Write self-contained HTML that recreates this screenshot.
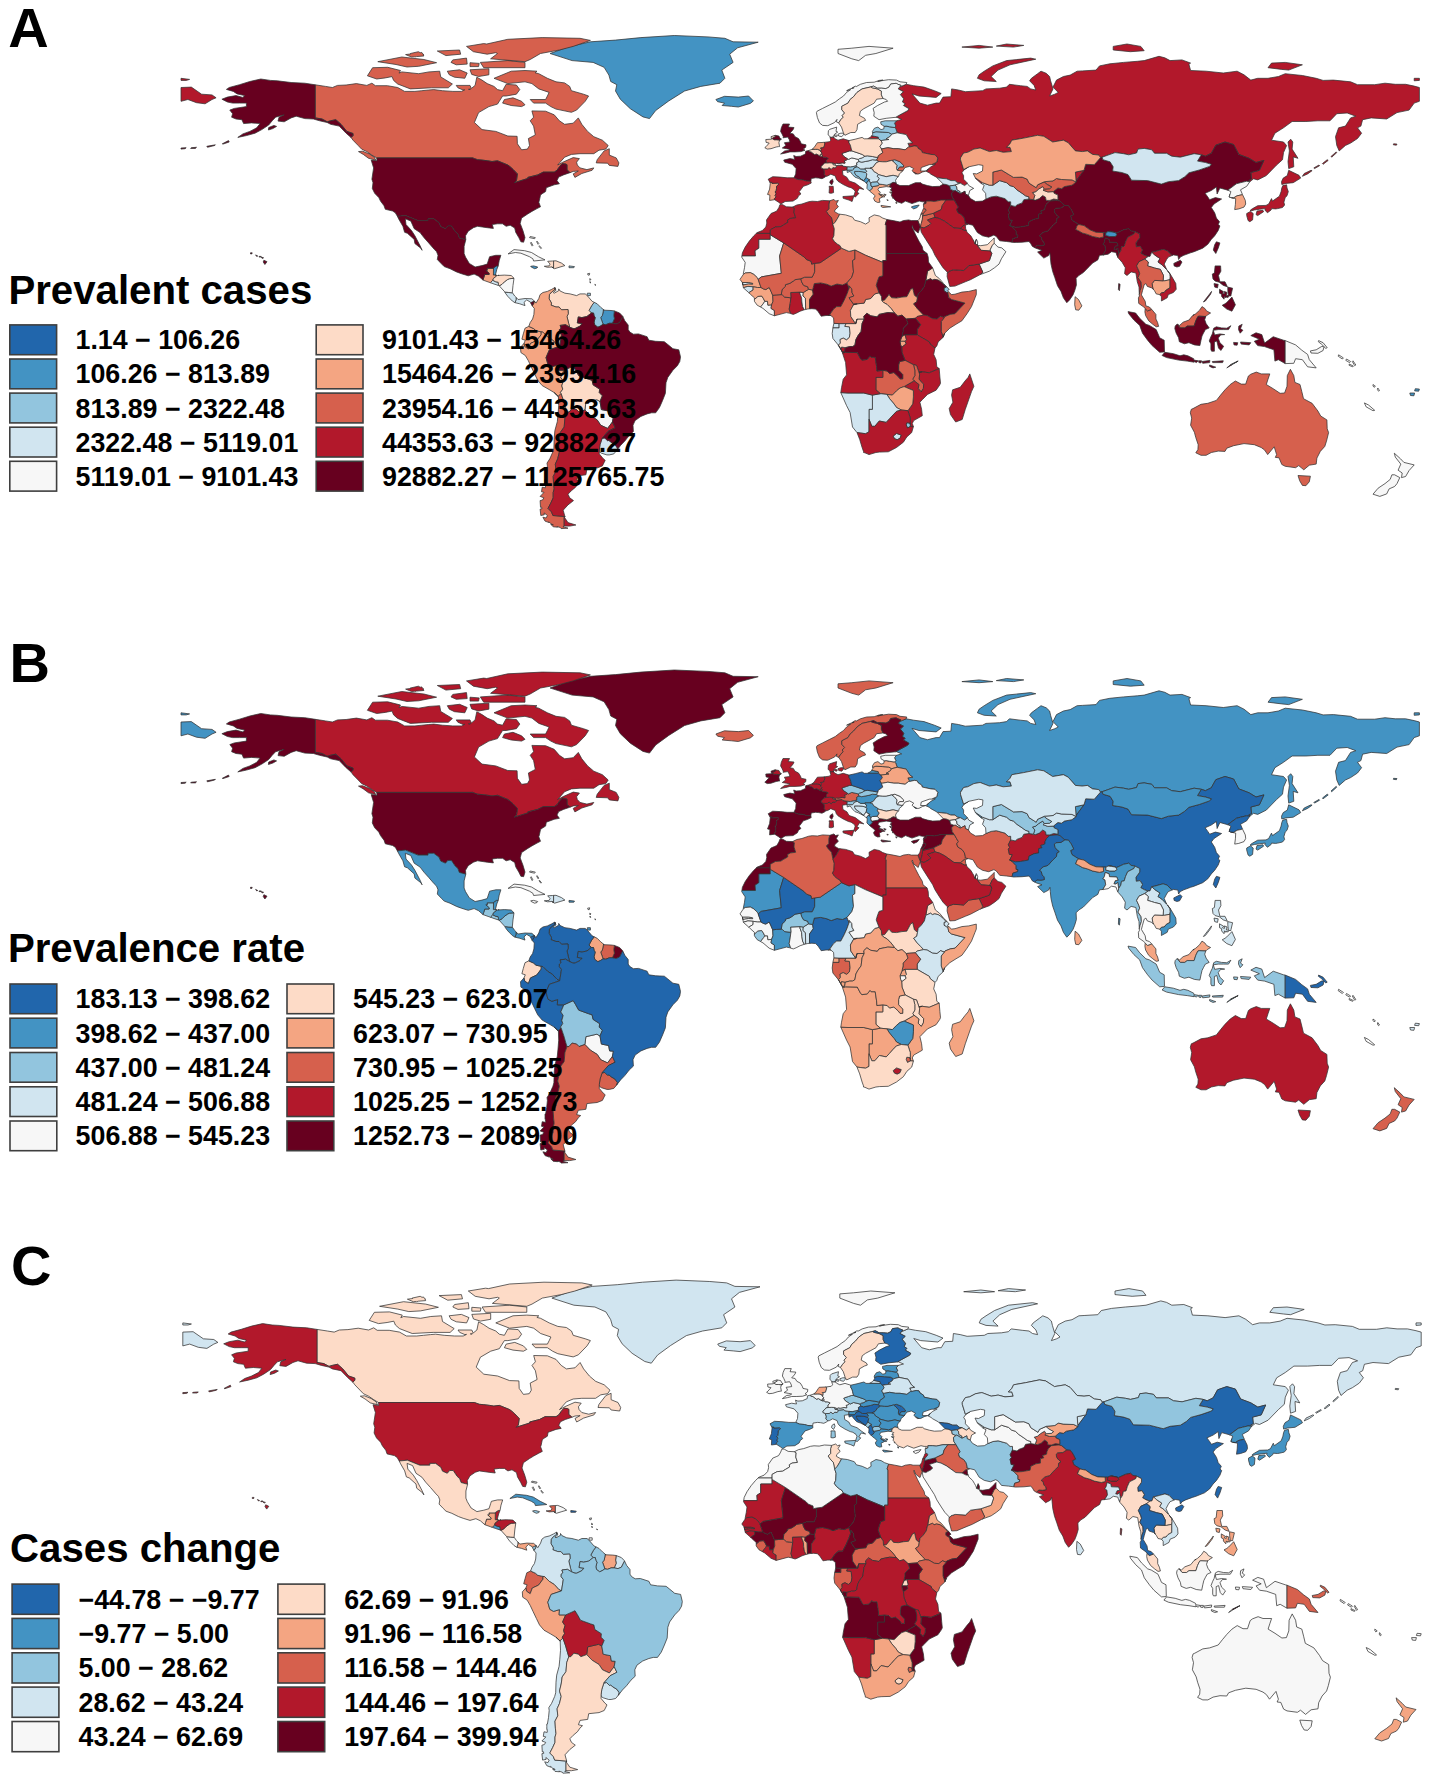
<!DOCTYPE html><html><head><meta charset="utf-8"><style>html,body{margin:0;padding:0;background:#fff}svg{display:block}text{font-family:"Liberation Sans",sans-serif;font-weight:bold}</style></head><body>
<svg xmlns="http://www.w3.org/2000/svg" width="1429" height="1783" viewBox="0 0 1429 1783">
<clipPath id="cp0"><rect x="0" y="31.0" width="1429" height="620"/></clipPath>
<g clip-path="url(#cp0)" stroke="#333" stroke-width="0.75" stroke-linejoin="round">
<path d="M561.1,49.5 568.7,46.8 578.7,44.5 590.4,41.8 615.5,40.1 640.9,37.6 674.3,35.5 708.0,36.9 724.9,38.3 733.1,41.8 758.2,42.2 737.6,47.8 729.7,54.2 733.1,62.4 721.8,70.1 724.9,78.3 720.0,83.2 700.8,86.4 684.6,91.0 668.8,100.9 655.7,110.5 649.5,118.6 643.0,116.9 630.3,108.7 620.3,99.2 615.5,91.0 616.8,84.7 610.7,81.5 608.9,75.1 604.1,67.3 593.1,62.4 572.1,60.6 550.1,53.5Z" fill="#4393c3"/>
<path d="M724.5,96.3 738.3,97.1 748.6,96.0 753.4,100.9 750.3,103.4 738.3,107.0 731.4,106.3 722.1,105.5 724.5,103.1 717.6,101.7 715.9,99.5Z" fill="#4393c3"/>
<path d="M788.2,150.5 789.9,149.4 786.4,148.7 782.3,148.0 785.8,145.5 784.4,142.7 789.9,142.0 789.2,139.5 787.8,137.1 783.0,137.8 783.3,136.7 782.0,133.9 780.6,131.4 781.3,127.8 783.0,124.0 789.5,124.0 788.2,127.1 794.0,127.5 793.3,129.3 791.6,131.4 789.9,133.2 793.3,133.9 795.0,136.7 798.5,138.5 800.5,141.7 801.2,143.8 806.0,144.8 805.7,147.3 803.3,149.1 805.0,150.2 800.9,151.6 795.0,151.9 789.9,151.9 785.8,153.0 780.6,154.0 784.7,150.9ZM779.9,138.1 781.3,139.2 780.6,139.6 779.2,140.2 776.8,139.9 774.1,139.9 772.0,138.5 772.7,137.8 775.1,136.7 775.1,135.3 778.9,136.0Z" fill="#67001f"/>
<path d="M377.1,160.4 377.0,160.4 377.0,160.3ZM369.5,154.0 374.3,157.2 375.7,160.1 368.5,158.3 363.3,154.4 358.5,151.6 362.6,151.2ZM375.4,85.7 387.4,85.7 397.7,87.5 404.6,91.4 414.9,91.4 421.8,90.7 428.7,90.0 433.8,89.6 442.4,90.7 452.8,91.4 461.4,91.4 464.7,89.8 463.1,90.0 457.9,87.8 456.2,85.4 470.0,85.4 471.4,88.4 475.1,85.4 476.8,77.2 482.0,80.1 487.2,83.6 494.0,86.4 497.5,89.6 502.6,90.7 506.1,84.3 516.4,85.0 519.8,89.6 516.4,94.2 506.1,96.0 502.6,96.0 497.5,104.1 488.9,106.6 478.6,112.6 474.4,122.5 482.0,129.6 495.8,131.4 507.8,136.0 517.1,136.3 517.4,143.8 521.6,149.8 527.4,149.1 529.5,145.5 528.4,138.5 535.3,134.9 533.6,126.1 530.2,120.8 533.6,117.2 531.9,110.9 545.6,111.2 554.2,114.8 559.4,120.8 564.6,124.3 573.2,123.2 578.3,117.9 581.8,124.3 587.6,131.4 593.8,136.7 602.4,140.2 608.2,145.5 605.8,149.1 599.0,150.2 593.8,153.7 580.0,153.7 571.4,154.4 564.6,157.2 557.7,165.0 562.8,162.2 573.2,157.6 579.4,158.6 576.6,162.2 577.3,165.0 580.0,167.9 586.9,169.6 593.8,167.9 592.1,170.3 581.8,173.5 574.9,177.4 573.2,173.9 578.3,171.0 573.2,171.4 570.0,172.7 569.7,172.1 567.0,170.0 567.0,164.7 565.6,164.0 562.2,163.6 559.4,166.8 557.0,170.3 554.2,172.1 543.2,172.1 537.7,174.9 527.8,177.4 528.3,178.3 514.3,182.7 516.4,180.6 516.7,179.2 517.4,173.9 513.0,169.3 510.2,166.8 507.8,165.0 497.5,160.8 492.0,161.5 487.8,160.8 482.0,160.1 477.5,159.7 474.4,158.6 472.7,157.9 376.7,157.9 371.9,155.1 366.8,151.6 361.6,149.1 358.2,145.5 353.0,140.2 351.3,137.8 351.1,137.6 353.0,135.6 353.0,133.5 346.8,131.4 341.0,124.3 335.8,119.7 330.6,120.8 327.2,121.8 322.0,119.0 315.2,117.9 315.2,84.8 325.5,86.4 332.4,87.5 337.5,85.4 346.1,85.0 356.4,83.6 366.8,85.4 371.9,83.2ZM470.0,89.6 470.7,89.0 468.5,89.3ZM410.4,88.9 397.7,84.0 393.6,80.4 392.0,76.6 385.3,77.9 376.7,79.0 367.4,75.8 372.6,67.7 387.7,67.3 400.5,70.5 399.0,73.1 401.8,71.9 418.7,73.7 429.0,71.9 439.7,71.2 440.7,76.9 452.4,84.0 448.3,87.8 431.4,87.8ZM464.8,78.3 454.5,77.2 449.3,74.8 447.3,71.2 459.6,69.8 467.2,73.0ZM479.2,63.4 478.6,66.6 470.0,66.6 470.0,62.7ZM423.9,59.5 436.6,62.7 418.7,66.3 407.0,67.0 396.0,64.5 377.8,61.7 401.8,57.0ZM452.8,59.9 466.5,58.1 467.2,64.1 456.2,64.8 451.0,62.4ZM411.5,57.0 405.6,54.6 410.9,53.9 410.4,53.5 418.4,51.7 420.2,52.7 421.8,52.4 422.7,54.0 422.7,54.0 423.9,54.6 423.2,54.8 423.9,56.0 416.5,56.6 414.9,57.0 414.6,56.8ZM459.6,50.0 460.7,54.2 445.9,55.6 437.3,51.0ZM533.6,304.8 533.1,304.4 533.9,303.2ZM534.1,302.3 534.2,300.9 534.3,301.0ZM499.2,285.7 499.1,285.7 499.9,285.4 499.4,286.0ZM496.2,275.2 496.9,275.4 496.8,275.8 494.4,275.1ZM607.6,163.2 596.2,162.9 597.2,159.7 604.1,150.9 609.3,148.7 609.3,155.1 616.2,157.9 618.9,162.9 617.9,166.4 609.3,165.4ZM502.6,103.1 504.4,99.5 513.0,97.8 521.6,101.3 525.0,104.8 521.6,106.6 511.2,105.5ZM549.1,92.4 538.8,88.9 531.9,83.6 525.0,81.8 507.8,83.6 494.0,78.3 511.2,71.2 525.0,70.5 537.0,71.2 535.1,72.8 538.8,73.7 547.4,78.3 556.0,81.8 564.6,82.9 569.7,86.4 571.4,90.7 583.5,94.2 588.6,96.0 585.2,101.3 576.6,110.1 571.4,112.3 556.0,109.1 550.8,106.6 545.6,103.1 533.6,103.1 530.2,99.5 545.6,99.5 547.4,96.0ZM470.0,69.8 488.9,68.7 488.9,74.8 478.6,76.5 471.7,74.4ZM525.0,67.7 483.7,67.7 480.3,62.4 507.8,60.6 525.0,62.4ZM590.4,40.4 573.2,46.4 559.4,50.0 540.5,53.5 530.2,59.5 525.0,61.7 490.6,58.8 497.5,53.5 495.8,52.7 487.2,54.2 473.4,51.7 466.5,46.4 483.7,43.6 486.7,44.0 507.8,39.3 542.2,37.6 580.0,38.3Z" fill="#d6604d"/>
<path d="M514.0,249.6 524.7,250.7 531.5,252.5 538.4,256.7 545.0,259.9 533.6,261.0 532.9,258.8 529.5,256.7 520.9,253.2 515.4,252.5 508.1,253.9Z" fill="#f7f7f7"/>
<path d="M533.6,265.9 537.7,267.0 537.0,268.0 534.6,268.7 531.2,267.0 530.7,266.3Z" fill="#4393c3"/>
<path d="M574.5,266.6 573.8,267.7 569.0,267.7 569.0,265.9Z" fill="#92c5de"/>
<path d="M550.1,264.1 547.7,261.3 552.5,261.0 553.6,260.9 553.6,268.1 551.8,267.0 547.4,267.3 544.3,266.3 549.1,265.9Z" fill="#fddbc7"/>
<path d="M556.0,260.8 561.5,263.1 564.9,265.6 560.1,267.0 554.6,268.7 551.8,267.0 553.6,268.1 553.6,260.9Z" fill="#fddbc7"/>
<path d="M1252.6,219.9 1249.8,221.7 1248.1,220.6 1246.7,215.6 1246.7,213.5 1250.5,211.4 1253.2,213.5ZM1263.6,211.7 1257.7,215.6 1256.0,214.6 1257.0,211.0 1262.9,210.3ZM1257.7,205.7 1266.0,205.4 1268.7,204.0 1271.5,198.6 1272.5,201.1 1279.4,196.2 1281.1,191.6 1281.8,188.0 1282.8,185.6 1286.6,184.8 1287.0,188.0 1288.3,191.6 1287.0,195.8 1285.2,197.6 1283.9,202.2 1284.6,205.0 1282.5,207.5 1277.7,208.6 1275.6,208.9 1271.5,208.6 1271.1,210.0 1267.4,212.8 1264.9,210.0 1265.3,208.6 1259.4,209.3 1254.3,210.0 1250.5,211.0 1250.5,210.0 1252.6,208.6ZM1287.3,175.6 1288.7,170.3 1299.0,175.3 1300.7,178.1 1293.2,182.7 1285.9,183.4 1281.8,184.5 1281.5,181.7 1283.2,178.1Z" fill="#b2182b"/>
<path d="M973.6,188.4 973.2,188.6 973.3,188.2ZM1044.4,181.7 1044.1,182.0 1037.6,184.8ZM981.1,183.4 975.6,178.5 975.3,177.8 982.5,182.7ZM915.4,173.9 913.4,172.0 913.7,172.1 917.2,173.9ZM903.3,170.0 902.7,170.9 902.6,170.6ZM873.1,136.0 878.3,137.1 878.6,138.8 867.6,138.8 870.7,137.1 871.7,135.8ZM212.0,94.9 216.1,97.8 212.0,99.5 205.1,103.8 196.5,102.7 187.9,99.5 181.0,101.3 181.0,87.5 191.3,87.1 201.6,94.2ZM186.2,80.4 181.0,80.4 181.0,78.3 189.6,79.4ZM979.1,74.8 984.2,71.2 992.8,65.9 1006.6,60.6 1030.7,58.1 1035.8,59.2 1010.0,64.8 998.0,70.1 991.1,76.5 996.3,81.5 984.2,80.8 977.4,78.3ZM992.8,47.1 979.1,48.2 961.9,47.1 979.1,45.4ZM1023.8,45.4 1013.5,47.1 996.3,46.1 1006.6,44.0ZM1076.1,180.9 1076.0,181.0 1075.4,172.1 1084.0,170.3ZM1311.0,170.3 1312.1,170.7 1307.6,173.9 1302.4,176.3 1304.2,173.5ZM1313.8,167.9 1319.0,165.0 1319.6,165.7 1314.5,168.6ZM1327.2,159.7 1328.2,160.4 1323.1,164.3 1322.4,163.6ZM1336.2,151.9 1336.8,152.6 1331.7,157.2 1331.0,156.5ZM1288.0,142.0 1290.7,139.2 1292.8,142.0 1292.1,149.1 1298.0,158.3 1293.2,156.9 1293.8,166.8 1288.7,168.6 1288.0,161.5 1289.4,150.9ZM1396.4,145.2 1393.3,144.8 1393.6,143.8 1397.0,144.1ZM905.1,103.8 902.4,102.0 903.7,98.8 900.3,94.6 903.4,91.7 898.2,88.9 899.6,87.0 906.2,84.3 913.7,85.7 924.0,87.1 934.4,90.7 941.2,93.5 936.1,97.4 918.9,96.0 912.0,93.9 919.9,103.1 927.5,105.2 936.1,103.1 939.5,103.1 943.0,97.1 950.9,96.7 951.6,88.9 958.4,90.0 965.3,91.7 982.5,90.7 986.0,88.9 999.7,88.2 1006.6,87.1 1009.4,84.3 1020.4,85.7 1027.2,86.4 1030.7,88.9 1035.8,90.0 1034.1,85.4 1029.6,80.8 1031.4,78.3 1037.6,73.7 1041.0,71.2 1046.2,73.3 1049.6,76.5 1050.6,80.8 1053.0,88.9 1049.6,96.0 1054.8,94.2 1058.2,92.4 1053.0,87.1 1056.5,80.1 1063.4,76.5 1070.2,75.1 1077.1,71.2 1082.3,70.9 1096.0,70.1 1099.5,65.9 1109.8,63.8 1123.6,62.4 1137.3,61.3 1144.2,60.6 1159.0,56.3 1164.8,57.8 1170.0,60.6 1182.0,59.9 1190.6,63.1 1188.9,64.1 1190.6,70.5 1206.1,71.2 1223.3,73.0 1237.1,71.2 1244.0,74.8 1250.8,80.1 1257.7,78.3 1268.0,78.3 1278.4,76.5 1285.2,73.7 1302.4,75.5 1316.2,78.3 1323.1,80.4 1333.4,80.1 1350.6,81.8 1357.5,84.7 1374.7,84.7 1385.0,83.2 1395.3,84.3 1405.6,84.3 1414.2,86.1 1419.4,87.5 1419.4,101.3 1414.2,103.1 1409.1,110.1 1397.0,112.6 1386.7,119.0 1371.2,117.9 1362.6,119.7 1360.9,126.1 1357.5,127.8 1361.6,133.2 1357.5,138.5 1350.6,143.1 1345.4,145.5 1339.2,150.9 1336.8,145.5 1335.5,136.7 1338.6,127.8 1345.4,126.1 1350.6,117.9 1355.8,116.2 1347.2,113.0 1336.8,113.7 1330.0,120.8 1317.9,120.8 1305.9,121.5 1292.1,121.5 1283.5,127.8 1274.9,133.2 1271.5,140.2 1283.5,142.0 1286.6,145.5 1283.5,152.6 1282.5,159.7 1276.6,165.0 1266.3,175.6 1257.7,179.9 1253.6,178.8 1249.8,181.7 1248.8,180.2 1251.5,179.2 1250.8,172.5 1259.4,170.3 1263.9,160.4 1256.0,162.5 1249.1,158.3 1238.8,154.4 1233.6,144.5 1225.0,142.0 1215.8,145.2 1211.3,153.3 1205.4,156.2 1201.3,154.8 1194.1,153.7 1180.3,157.2 1171.7,156.2 1166.6,153.3 1154.5,153.3 1151.8,149.8 1144.2,148.4 1138.0,149.1 1136.6,153.0 1128.7,154.8 1123.6,153.7 1115.0,152.6 1108.1,155.1 1102.2,157.2 1100.5,157.6 1098.8,155.1 1092.6,154.4 1087.4,150.9 1082.3,151.6 1075.4,150.9 1068.2,142.7 1063.4,140.2 1052.7,142.0 1043.8,136.3 1037.6,135.3 1023.8,138.1 1011.8,140.2 1010.0,143.8 1006.6,147.3 1010.0,147.3 1011.4,151.6 1003.2,152.3 996.3,150.5 989.4,151.6 980.1,148.0 973.9,149.1 967.7,152.3 963.6,153.0 960.5,157.9 960.5,159.7 963.6,169.6 968.8,166.8 963.9,170.0 961.9,172.8 963.6,175.6 963.6,179.2 967.0,182.7 967.5,183.5 967.4,183.4 964.6,185.6 960.2,183.1 957.4,182.7 955.0,180.6 950.9,180.6 946.4,178.8 943.0,178.5 937.8,177.8 937.4,178.1 936.8,177.4 930.9,174.2 929.2,172.8 926.4,171.4 926.8,171.0 928.5,168.8 930.9,166.8 935.4,164.3 931.9,164.5 936.8,162.2 937.8,157.9 935.0,154.8 930.9,154.4 922.3,152.6 921.6,150.5 918.2,148.4 917.2,146.3 914.4,145.9 909.6,147.0 907.9,143.4 912.7,142.7 909.6,140.2 906.2,134.6 897.2,132.8 895.8,128.6 894.5,127.5 895.8,126.1 894.5,123.2 896.5,120.8 901.7,119.4 896.5,117.2 895.7,117.3 895.8,117.2 900.0,114.8 907.9,110.5 908.9,108.7 903.4,105.5ZM1419.4,78.3 1419.4,80.4 1414.2,80.8 1414.2,78.3ZM1285.2,62.4 1302.4,64.8 1288.7,70.1 1281.8,69.4 1268.0,67.7 1271.5,63.1ZM1127.0,44.0 1140.8,46.4 1144.2,50.7 1130.4,51.7 1113.2,50.0 1113.2,46.4Z" fill="#b2182b"/>
<path d="M828.0,125.6 827.3,125.7 822.6,125.4 819.5,122.9 817.4,117.6 816.4,112.6 817.1,111.2 822.6,108.4 829.8,104.8 835.3,102.0 839.4,98.8 843.5,96.0 846.6,92.4 850.1,90.0 850.7,89.6 846.6,90.7 850.1,88.9 854.0,87.8 854.1,87.8 854.2,87.7 851.8,88.2 855.2,86.1 856.2,86.6 860.4,84.3 866.6,82.5 874.2,82.2 879.3,80.4 882.8,80.1 877.6,81.5 881.0,80.8 888.6,79.7 896.5,80.1 900.0,81.8 906.8,82.5 906.2,84.3 899.6,87.0 901.0,85.4 897.9,84.3 896.2,83.3 890.7,84.0 889.0,87.1 885.9,88.6 881.7,88.2 877.3,88.2 873.5,86.1 870.9,86.9 862.1,88.9 857.0,92.4 853.5,96.7 850.1,99.5 848.0,103.1 841.8,106.3 841.8,109.8 844.6,113.0 842.2,115.5 843.2,117.2 840.8,119.7 838.7,122.9 836.3,121.8 837.0,119.4 834.6,122.5ZM858.7,60.6 851.8,58.8 838.0,53.5 838.0,49.3 851.8,48.2 869.0,46.4 893.1,48.2 875.9,53.5 865.6,55.3Z" fill="#f7f7f7"/>
<path d="M1219.9,242.9 1218.2,248.2 1215.8,253.5 1213.3,250.0 1214.7,244.7 1216.4,241.8Z" fill="#67001f"/>
<path d="M1179.6,266.3 1176.9,267.0 1174.1,265.9 1173.8,263.4 1180.3,260.2 1182.0,262.0ZM1205.1,193.3 1207.8,196.9 1209.6,199.7 1215.4,197.6 1221.6,199.0 1214.0,204.0 1211.3,207.5 1214.7,212.8 1216.4,218.1 1219.5,221.7 1218.2,224.5 1219.9,225.9 1218.2,230.5 1214.7,235.8 1211.3,239.4 1207.8,244.3 1202.7,248.2 1194.1,251.7 1190.6,252.8 1183.8,255.3 1180.3,257.1 1178.6,259.5 1177.9,255.6 1173.4,254.9 1171.9,255.6 1171.7,255.3 1167.2,250.7 1163.1,249.3 1158.0,250.7 1154.5,251.7 1151.8,252.1 1150.0,256.4 1148.2,256.5 1144.5,255.3 1140.8,253.2 1142.5,250.0 1140.1,246.1 1136.3,246.8 1135.9,242.9 1139.7,237.6 1139.7,234.0 1134.9,231.6 1131.1,230.9 1128.7,228.7 1123.6,229.8 1116.7,233.0 1115.3,232.6 1109.8,231.2 1108.7,231.6 1108.1,231.6 1106.0,232.6 1103.3,232.6 1096.0,232.3 1089.8,229.8 1084.0,225.6 1078.8,224.5 1072.0,220.2 1070.6,216.0 1073.7,214.6 1071.3,209.6 1068.5,205.7 1067.8,205.7 1064.7,205.4 1059.9,201.1 1056.9,200.2 1057.9,199.7 1057.9,199.2 1058.2,199.0 1057.9,197.1 1057.9,195.1 1054.1,193.3 1053.9,192.8 1054.1,191.6 1053.4,191.6 1057.9,188.0 1061.6,188.7 1064.4,186.6 1072.0,185.2 1076.1,182.0 1076.0,181.0 1076.1,180.9 1084.0,170.3 1085.7,164.3 1094.3,164.7 1100.5,157.6 1102.2,157.2 1102.9,159.7 1110.1,161.8 1113.2,166.8 1112.6,171.0 1121.8,172.5 1128.0,174.6 1131.5,180.2 1147.6,180.6 1161.4,184.1 1168.3,181.7 1178.6,180.6 1184.8,176.7 1188.9,172.8 1199.2,170.0 1209.6,166.4 1211.3,164.3 1205.4,162.5 1197.5,161.1 1201.3,154.8 1205.4,156.2 1211.3,153.3 1215.8,145.2 1225.0,142.0 1233.6,144.5 1238.8,154.4 1249.1,158.3 1256.0,162.5 1263.9,160.4 1259.4,170.3 1250.8,172.5 1251.5,179.2 1248.8,180.2 1249.8,181.7 1246.4,181.3 1240.5,182.7 1236.4,183.8 1230.2,188.4 1227.8,190.2 1219.9,188.0 1217.1,194.0 1216.4,187.0 1211.3,190.5ZM1231.9,197.9 1229.2,196.9 1230.8,197.5 1232.1,197.7 1232.2,197.9ZM1230.1,194.1 1229.2,196.9 1230.1,194.1Z" fill="#67001f"/>
<path d="M1078.5,299.5 1081.9,305.9 1078.8,310.2 1075.7,309.8 1074.7,304.8 1075.1,296.7Z" fill="#f4a582"/>
<path d="M1235.4,304.8 1231.9,311.2 1226.8,309.1 1222.2,305.3 1225.0,303.8 1226.8,302.4 1231.9,297.1ZM1203.4,302.0 1211.6,291.4 1210.6,294.2 1205.4,301.0ZM1228.1,297.4 1226.1,297.1 1226.0,296.7 1225.7,297.8 1224.6,296.3 1224.0,299.2 1221.6,296.4 1221.6,294.2 1219.5,293.2 1219.5,289.3 1223.7,291.8 1222.5,293.2 1223.4,293.6 1224.4,293.9 1224.4,291.4 1227.1,292.5 1226.4,295.4 1228.3,295.6 1228.4,295.6 1227.8,290.7 1227.8,290.3 1227.8,287.1 1232.6,288.2 1231.0,295.0 1231.0,295.0 1230.9,296.0 1228.8,296.0 1228.8,295.9 1228.8,295.9 1228.7,295.9 1228.7,295.9ZM1218.2,284.3 1217.5,287.9 1214.7,287.1 1214.0,283.6ZM1225.0,281.8 1227.4,286.8 1223.3,285.4 1219.2,282.2 1215.1,281.1 1213.0,279.0 1212.3,274.1 1214.4,273.0 1215.1,265.9 1220.6,265.9 1220.9,271.2 1218.5,275.5 1219.9,281.8Z" fill="#67001f"/>
<path d="M1157.6,322.5 1158.6,326.4 1156.2,326.8 1152.8,324.3 1148.7,320.8 1145.6,315.5 1144.9,311.9 1145.2,308.7 1147.6,310.9 1151.4,309.5 1151.8,309.5 1155.9,314.4 1155.9,319.0ZM1188.9,320.1 1192.4,315.8 1195.8,313.7 1199.6,310.2 1202.0,306.6 1205.1,308.7 1206.5,310.9 1210.6,313.0 1207.2,315.1 1206.0,316.3 1205.1,316.5 1199.2,316.2 1197.9,316.5 1195.8,320.8 1194.1,326.1 1187.2,326.1 1184.8,327.9 1180.3,327.9 1177.2,324.3 1177.0,324.2 1177.2,324.0 1179.6,325.4 1183.1,322.2Z" fill="#d6604d"/>
<path d="M1192.9,315.5 1194.1,314.7 1192.9,315.5Z" fill="#d6604d"/>
<path d="M1213.0,367.9 1209.6,366.4 1209.6,365.0 1215.8,367.2ZM1198.6,360.8 1201.6,360.8 1201.0,362.9 1198.9,362.6ZM1209.9,360.4 1209.6,362.6 1202.7,363.3 1202.0,361.5ZM1212.7,362.6 1212.3,361.5 1223.3,360.8 1222.6,362.6ZM1164.8,352.3 1173.4,353.7 1180.0,355.8 1183.8,354.8 1187.9,355.8 1193.7,358.7 1193.9,360.1 1198.2,360.8 1196.5,362.6 1194.1,361.5 1194.0,361.0 1194.1,362.2 1187.2,361.1 1178.6,360.1 1166.6,357.6 1162.1,355.5ZM1139.7,325.4 1133.9,320.1 1128.7,313.7 1128.0,311.6 1135.6,313.0 1139.7,318.3 1145.9,324.3 1149.4,325.4 1156.2,329.6 1159.7,337.8 1164.2,340.2 1164.5,351.9 1159.7,352.3 1152.1,345.6 1147.6,340.2 1142.5,333.2ZM1184.4,343.8 1179.3,341.7 1178.6,337.8 1176.2,333.2 1174.8,328.6 1175.2,326.1 1177.0,324.2 1177.2,324.3 1180.3,327.9 1184.8,327.9 1187.2,326.1 1194.1,326.1 1195.8,320.8 1197.9,316.5 1199.2,316.2 1205.1,316.5 1206.0,316.3 1205.8,316.5 1204.7,319.7 1206.1,323.6 1209.2,327.9 1205.4,329.6 1203.4,333.2 1202.0,336.0 1201.0,340.2 1199.9,345.6 1194.4,344.9 1188.9,342.7ZM1230.2,365.0 1238.1,361.1 1230.8,364.7 1231.7,364.9 1226.8,367.9ZM1273.9,349.8 1264.6,346.6 1257.7,345.6 1254.3,341.3 1259.4,339.2 1250.8,335.6 1256.0,332.8 1261.8,334.6 1264.6,343.1 1273.2,336.7 1283.5,340.2 1285.2,340.6 1285.2,363.6 1278.4,359.7 1274.9,361.1ZM1237.8,342.7 1237.1,345.2 1234.0,344.9 1233.6,342.4ZM1241.2,344.1 1240.5,342.0 1250.8,342.7 1249.1,344.9ZM1218.5,348.0 1216.8,341.0 1214.4,342.0 1214.4,351.2 1211.6,351.2 1210.9,349.5 1210.9,343.8 1209.2,341.0 1210.9,336.7 1212.3,333.9 1213.7,328.2 1216.4,326.8 1221.6,327.9 1226.8,328.2 1230.9,325.7 1228.5,329.6 1223.3,329.6 1218.2,329.6 1213.3,330.3 1214.7,334.9 1219.9,333.9 1224.7,334.6 1220.6,334.9 1218.2,338.1 1219.9,342.7 1223.7,346.3 1220.9,350.5ZM1242.2,324.3 1240.5,328.6 1242.9,330.3 1240.2,333.2 1238.5,329.6 1238.8,326.1Z" fill="#67001f"/>
<path d="M1301.8,350.2 1307.6,354.4 1309.3,359.7 1316.2,367.9 1307.6,366.8 1302.4,359.7 1295.6,358.7 1293.8,363.3 1285.2,363.6 1285.2,340.6 1295.6,344.9ZM1323.7,346.3 1321.4,344.1 1318.3,341.7 1318.6,340.6 1323.1,342.7 1327.2,347.7 1325.8,348.4 1324.0,346.7 1323.1,350.5 1317.9,353.3 1311.0,353.0 1310.4,350.9 1316.2,349.8 1321.4,346.6Z" fill="#f7f7f7"/>
<path d="M1238.1,361.1 1231.7,364.9 1230.8,364.7Z" fill="#d1e5f0"/>
<path d="M1309.3,481.8 1305.9,485.7 1302.4,485.4 1299.7,480.8 1298.0,475.5 1310.4,476.2ZM1201.0,404.3 1207.8,403.3 1216.4,400.4 1220.6,395.1 1225.0,389.8 1230.2,384.5 1235.4,381.0 1241.2,384.1 1245.7,384.1 1248.4,376.0 1250.8,374.2 1256.3,372.1 1261.2,373.9 1269.8,373.9 1268.0,379.2 1266.3,384.5 1273.2,388.7 1280.1,393.3 1284.6,393.0 1287.0,386.3 1287.3,375.6 1290.4,369.3 1293.8,375.6 1294.9,382.4 1300.0,384.5 1301.8,391.6 1303.5,398.7 1312.1,403.3 1317.9,411.0 1320.7,416.0 1326.9,419.9 1327.2,428.8 1328.6,432.6 1326.5,441.1 1324.8,446.4 1320.3,451.4 1316.9,458.1 1316.2,464.1 1309.3,465.2 1303.8,469.8 1298.7,465.6 1295.6,467.7 1285.2,466.3 1281.8,464.5 1279.0,457.8 1275.3,457.4 1276.6,454.6 1274.2,446.8 1267.7,454.6 1264.6,450.0 1261.2,447.5 1254.3,444.7 1244.0,443.6 1233.6,445.7 1226.8,448.2 1225.0,451.4 1218.2,451.1 1211.3,452.5 1206.1,455.3 1201.0,455.3 1195.8,452.8 1197.9,449.6 1198.2,444.7 1195.8,437.6 1194.4,432.3 1190.6,425.2 1191.7,418.1 1190.3,412.8 1191.3,409.3 1193.0,408.6Z" fill="#d6604d"/>
<path d="M1397.0,483.6 1394.6,486.5 1389.1,488.9 1386.7,493.9 1379.8,496.4 1373.0,494.2 1378.1,488.2 1385.0,483.6 1390.2,479.4 1391.9,474.8 1394.6,474.8 1399.8,477.6ZM1403.9,462.4 1414.2,464.9 1409.1,470.5 1405.6,476.5 1401.5,477.6 1402.2,473.0 1398.1,470.2 1400.8,464.1 1395.3,457.1 1394.3,453.2 1400.5,458.8Z" fill="#f7f7f7"/>
<path d="M843.2,198.3 842.9,196.5 853.9,195.8 852.1,201.5 849.0,200.1ZM829.1,193.0 829.4,188.0 829.1,186.3 833.2,186.3 833.6,192.6 831.2,193.3ZM855.2,183.1 859.4,186.3 863.8,189.4 859.4,188.4 857.0,192.3 859.0,193.3 855.2,197.2 853.9,195.8 855.2,191.6 854.2,189.8 851.1,187.7 848.4,187.0 843.2,184.5 838.0,181.3 836.3,179.2 835.3,176.0 830.8,174.2 827.7,176.0 826.0,176.3 823.9,174.2 824.3,172.1 823.6,169.3 824.3,168.9 827.4,168.9 829.1,167.5 831.2,169.3 832.9,167.5 835.3,167.9 836.3,166.4 836.3,165.6 842.2,165.0 842.9,166.1 847.3,166.8 847.0,170.0 842.5,170.7 842.9,174.9 847.0,177.4 849.0,180.9ZM824.3,177.6 824.4,177.5 824.3,177.6Z" fill="#b2182b"/>
<path d="M831.8,184.8 829.8,183.1 830.1,180.9 832.5,179.2 833.2,181.7ZM792.3,164.3 784.7,162.2 783.7,160.1 789.9,158.6 794.7,159.4 793.7,155.5 796.1,156.5 800.5,156.2 805.4,154.0 805.7,151.2 808.8,150.5 809.1,151.6 811.2,151.9 814.6,154.6 816.7,154.0 820.2,156.2 822.2,156.2 823.2,157.2 825.7,157.2 828.4,158.3 826.3,160.4 826.3,162.9 824.3,163.2 823.6,164.3 821.2,166.4 821.2,167.9 823.6,168.9 824.3,168.9 823.6,169.3 824.3,172.1 823.9,174.2 826.0,176.3 824.4,177.5 822.0,178.7 818.8,178.1 815.7,177.8 811.2,178.5 810.9,181.3 806.0,180.9 805.0,180.6 802.6,179.9 797.8,179.5 795.4,178.5 794.0,177.8 795.7,173.9 796.1,168.6Z" fill="#67001f"/>
<path d="M881.0,205.4 890.7,206.8 882.8,207.5 881.0,206.4ZM897.2,202.9 896.2,203.6 895.8,202.2ZM888.3,200.1 887.6,200.8 886.9,199.7ZM893.4,197.9 892.7,198.3 892.4,197.6ZM884.8,196.9 883.4,196.9 880.7,195.1 879.4,194.6 882.8,196.9 879.3,198.6 880.0,202.2 877.6,202.5 874.8,201.1 873.5,198.3 875.2,195.8 872.8,193.7 869.7,191.2 869.2,190.7 871.4,189.4 872.4,187.7 871.1,185.9 872.4,186.6 878.3,185.6 879.3,184.1 882.8,184.5 886.9,185.2 890.7,183.8 889.6,187.0 886.2,186.6 882.1,187.3 879.0,187.7 877.9,189.8 880.4,192.3 878.9,193.8 882.8,194.8ZM878.6,194.0 878.9,194.2 878.7,193.9ZM886.2,194.8 884.8,195.8 883.8,194.0ZM890.7,193.3 889.6,191.9 891.7,192.3ZM891.4,189.8 891.3,190.8 890.3,189.8 891.0,189.1Z" fill="#f4a582"/>
<path d="M913.7,206.1 919.2,205.0 917.2,207.5 913.7,208.9 911.3,207.1Z" fill="#4393c3"/>
<path d="M834.6,136.3 834.6,134.9 837.4,135.3 836.7,136.7ZM838.0,134.2 840.8,133.2 843.5,133.2 843.5,134.6 841.8,136.7 838.7,136.0ZM829.8,129.3 836.7,127.1 836.0,131.4 837.7,132.1 834.6,134.2 833.2,136.7 833.8,137.4 832.5,137.4 830.0,137.3 829.8,136.3 828.1,134.9 828.4,130.7Z" fill="#f7f7f7"/>
<path d="M256.7,256.4 255.6,254.9 257.7,256.0ZM250.5,252.8 252.2,252.8 251.9,253.9 250.5,253.9ZM181.0,149.1 181.0,148.0 186.2,147.7 185.1,148.7ZM190.6,148.4 191.3,147.7 196.5,147.3 195.4,148.4ZM206.8,146.3 215.4,144.8 214.7,145.5 207.5,147.3ZM222.3,143.8 228.5,140.6 229.2,142.0 223.0,144.1ZM263.2,262.0 263.9,260.2 267.0,261.7 264.9,264.5ZM261.2,257.1 263.6,257.8 262.2,258.5ZM259.1,257.1 259.1,256.4 261.2,256.4 260.8,257.1ZM559.4,183.8 554.2,184.8 546.3,187.7 545.6,191.6 542.2,193.7 540.5,195.1 539.4,200.4 538.8,202.2 540.5,206.8 537.0,208.6 531.9,211.4 527.8,213.9 521.6,218.1 520.2,223.4 522.9,230.5 525.0,237.6 523.6,242.2 520.9,241.8 518.8,237.6 515.7,232.3 514.7,228.0 510.2,225.2 506.1,226.3 502.6,223.8 497.5,223.8 492.3,224.5 493.4,228.4 487.2,227.7 477.5,226.3 473.4,227.7 468.2,231.2 465.5,235.8 465.8,239.7 459.3,237.9 457.9,234.0 455.2,231.6 451.4,225.9 447.9,225.9 445.5,228.7 440.7,226.6 439.0,222.7 433.8,218.8 428.0,218.8 428.0,220.6 418.0,220.6 405.6,215.6 397.4,216.3 395.3,212.8 392.6,211.0 385.3,209.3 384.0,205.7 380.5,201.1 378.8,197.6 374.7,193.3 372.3,188.4 373.0,182.7 371.9,179.2 373.6,167.9 371.2,160.1 377.1,160.8 377.0,160.4 377.1,160.4 377.0,160.3 376.7,157.9 472.7,157.9 474.4,158.6 477.5,159.7 482.0,160.1 487.8,160.8 492.0,161.5 497.5,160.8 507.8,165.0 510.2,166.8 513.0,169.3 517.4,173.9 516.7,179.2 516.4,180.6 514.3,182.7 528.3,178.3 527.8,177.4 537.7,174.9 543.2,172.1 554.2,172.1 557.0,170.3 559.4,166.8 562.2,163.6 565.6,164.0 567.0,164.7 567.0,170.0 569.7,172.1 570.0,172.7 569.7,172.8 563.5,174.9 558.7,177.1 557.0,180.6ZM276.6,126.4 272.8,128.6 268.4,130.0 268.7,127.5 273.9,125.4ZM260.8,79.0 270.4,80.4 277.3,80.8 291.1,82.5 304.8,83.2 315.2,84.8 315.2,117.9 322.0,119.0 327.2,121.8 330.6,120.8 335.8,119.7 341.0,124.3 346.8,131.4 353.0,133.5 353.0,135.6 351.1,137.6 346.1,133.2 339.2,126.1 330.6,124.3 327.2,122.5 319.6,120.8 313.4,119.0 304.8,118.6 296.2,116.2 291.1,117.9 284.2,121.8 278.0,121.1 279.0,117.2 284.2,114.8 275.6,117.2 272.2,120.8 268.7,125.0 261.8,129.6 255.0,133.2 246.4,135.6 237.8,137.4 242.9,133.9 249.8,131.4 256.7,127.8 260.1,123.6 251.5,122.9 243.6,123.6 241.9,119.7 236.0,119.0 231.6,117.2 232.6,113.7 229.8,110.1 234.3,108.4 246.4,106.6 246.4,103.1 239.5,103.1 232.6,103.1 227.4,102.0 221.9,99.2 227.4,97.1 236.0,95.6 242.9,97.4 244.6,95.6 237.1,93.9 233.3,91.4 226.4,89.4 229.2,87.5 239.5,84.7 249.8,81.5Z" fill="#67001f"/>
<path d="M1413.9,395.8 1410.5,395.5 1409.8,393.0 1414.6,393.0ZM1418.7,391.2 1414.6,390.9 1415.3,388.7 1419.4,389.1Z" fill="#4393c3"/>
<path d="M1349.2,365.4 1349.2,364.0 1353.4,366.1 1352.7,366.8ZM1352.3,361.5 1353.0,360.8 1355.8,365.0 1354.7,365.7ZM1345.8,360.4 1346.5,359.0 1350.6,361.5 1349.6,362.6ZM1338.2,356.2 1338.6,354.8 1343.4,357.9 1342.3,359.0Z" fill="#ffffff"/>
<path d="M1378.5,391.2 1377.4,389.5 1377.8,388.0 1379.5,390.5ZM1374.0,387.3 1373.0,385.9 1373.0,384.5 1375.4,386.3Z" fill="#ffffff"/>
<path d="M1368.5,405.0 1374.7,410.3 1373.0,410.7 1366.1,406.8 1364.4,402.9Z" fill="#ffffff"/>
<path d="M539.1,246.4 539.4,245.7 541.5,248.2 540.8,248.6ZM530.5,242.9 531.2,242.2 532.9,245.4 532.2,246.1ZM536.7,241.8 537.0,241.1 538.8,243.6 538.1,244.3ZM529.5,237.6 530.2,236.5 535.3,237.6 534.6,238.7Z" fill="#ffffff"/>
<path d="M594.8,284.3 595.9,285.0 595.2,285.4ZM590.0,281.5 590.7,282.9 590.0,282.9ZM589.7,278.7 591.0,279.4 590.0,280.4ZM588.0,275.1 587.6,273.7 589.7,273.3 589.3,275.1Z" fill="#ffffff"/>
<path d="M1119.4,290.7 1118.4,289.6 1118.7,283.6 1120.1,284.3ZM1089.2,266.6 1083.3,272.6 1078.8,275.5 1076.1,278.3 1076.4,285.0 1074.7,290.7 1073.0,294.9 1069.6,299.9 1066.8,302.7 1063.4,297.8 1061.0,291.4 1057.5,285.7 1054.8,277.6 1052.7,271.6 1051.0,264.1 1050.3,257.1 1049.9,252.8 1048.6,255.6 1043.8,258.1 1037.6,252.1 1042.0,250.3 1035.8,248.2 1034.6,247.6 1034.8,247.5 1036.9,245.4 1041.0,245.7 1044.4,245.0 1043.8,242.2 1042.0,240.4 1041.3,237.2 1039.3,235.8 1043.1,232.3 1047.9,230.9 1052.7,225.6 1056.5,222.0 1056.8,218.5 1059.2,217.1 1056.8,215.3 1054.8,212.8 1054.4,209.6 1055.8,208.2 1061.0,207.9 1064.7,205.4 1067.8,205.7 1068.5,205.7 1071.3,209.6 1073.7,214.6 1070.6,216.0 1072.0,220.2 1078.8,224.5 1077.1,225.6 1075.7,229.4 1078.8,230.9 1082.3,233.0 1087.4,234.4 1092.6,236.5 1099.5,237.9 1103.6,236.9 1103.3,232.6 1106.0,232.6 1105.7,235.5 1109.8,236.5 1115.0,236.5 1117.0,234.8 1115.3,232.6 1116.7,233.0 1123.6,229.8 1128.7,228.7 1131.1,230.9 1134.9,231.6 1133.9,234.0 1127.7,237.2 1125.6,241.8 1124.2,246.4 1121.5,246.8 1120.8,250.7 1118.7,253.9 1117.7,247.9 1116.0,249.6 1113.9,249.3 1115.3,246.1 1118.1,245.7 1116.7,242.5 1109.5,242.2 1109.1,239.4 1105.3,237.9 1104.3,242.2 1102.9,244.3 1105.0,245.4 1105.7,250.3 1102.9,254.9 1103.1,255.0 1103.6,254.9 1099.5,255.3 1097.8,259.9 1092.6,263.1ZM1108.7,231.6 1109.8,231.2 1115.3,232.6 1111.5,231.9Z" fill="#67001f"/>
<path d="M564.6,527.2 568.0,528.2 561.1,528.6 560.5,527.6 557.0,526.5 557.7,527.2 553.2,526.8 550.8,524.3 553.4,524.9 550.8,523.6 548.8,521.8 549.1,522.6 545.0,521.1 542.9,517.2 546.1,518.0 547.4,515.5 544.1,512.9 544.3,514.8 540.8,515.5 540.1,509.1 542.0,508.7 541.6,507.1 540.5,507.3 540.1,500.6 542.5,500.0 543.9,497.8 540.1,496.4 543.9,492.5 544.0,492.3 541.5,491.8 542.2,487.2 545.4,487.8 545.6,487.2 545.3,484.6 545.0,484.7 545.0,481.8 545.0,479.4 545.6,479.4 546.7,473.0 547.4,465.9 547.0,463.1 549.8,458.8 552.9,451.8 553.9,448.2 554.2,437.6 554.9,430.5 557.3,421.7 558.0,414.6 558.7,405.7 558.4,396.5 558.1,396.3 561.1,393.3 563.9,401.5 565.6,407.5 567.0,412.1 564.9,418.1 564.2,427.0 560.4,432.3 559.4,439.4 557.7,446.4 559.4,451.8 557.7,458.8 555.3,464.1 556.0,471.2 553.2,476.5 553.6,483.6 554.2,488.9 553.2,492.5 553.2,497.8 550.8,503.1 548.0,508.4 551.5,511.9 552.9,515.5 564.9,516.5 564.2,517.6 564.2,526.1 562.9,526.8Z" fill="#d6604d"/>
<path d="M590.4,293.2 590.4,295.6 587.3,295.6 587.3,293.2Z" fill="#92c5de"/>
<path d="M776.1,147.0 771.0,148.7 767.2,149.1 764.8,147.7 766.1,146.6 769.2,143.1 766.1,142.4 765.8,139.5 771.6,139.2 771.0,136.7 775.1,135.3 775.1,136.7 772.7,137.8 772.0,138.5 774.1,139.9 776.8,139.9 779.2,140.2 780.6,139.6 781.3,139.2 779.6,140.2 778.9,142.7 779.6,146.6 778.5,146.6Z" fill="#fddbc7"/>
<path d="M518.1,299.5 525.0,298.5 531.9,298.8 534.2,300.9 534.1,302.3 533.9,303.2 533.1,304.4 530.8,302.6 530.8,302.6 530.2,302.0 526.7,299.9 524.0,302.4 525.0,305.6 519.8,303.8 515.1,302.7 516.1,299.5 516.1,297.4Z" fill="#d1e5f0"/>
<path d="M516.1,297.4 516.1,299.5 515.1,302.7 515.0,302.7 512.3,301.0 507.8,296.4 505.4,293.2 504.8,292.0 505.4,292.1 508.8,292.5 512.3,292.8 512.4,292.7 514.7,296.0Z" fill="#d1e5f0"/>
<path d="M512.3,292.5 512.4,292.7 512.3,292.8 508.8,292.5 505.4,292.1 504.8,292.0 504.7,291.8 499.4,286.0 499.9,285.4 502.0,284.3 504.4,281.8 507.8,279.4 509.5,278.7 514.0,278.3 513.0,285.4Z" fill="#f7f7f7"/>
<path d="M490.4,282.7 492.0,281.1 492.8,280.3 495.8,281.8 498.2,282.2 498.5,284.3 498.3,285.4 494.0,284.0Z" fill="#d1e5f0"/>
<path d="M498.5,275.4 499.2,275.4 499.2,275.5ZM496.2,275.2 494.4,275.1 493.4,275.1 493.5,268.3 493.5,267.9 496.4,265.9 498.2,265.9 496.8,269.4 495.4,275.1Z" fill="#4393c3"/>
<path d="M483.0,280.1 483.7,277.9 484.8,274.5 489.1,274.5 489.2,273.3 485.8,270.3 487.2,270.3 487.2,268.3 493.5,268.3 493.4,275.1 494.4,275.1 496.8,275.8 495.1,277.2 493.5,278.3 492.8,280.3 492.0,281.1 490.4,282.7 488.9,282.2Z" fill="#f4a582"/>
<path d="M499.0,275.4 498.5,275.4 499.2,275.5 499.2,275.4 504.4,275.1 511.2,275.5 514.0,278.3 509.5,278.7 507.8,279.4 504.4,281.8 502.0,284.3 499.9,285.4 499.1,285.7 498.3,285.4 498.5,284.3 498.2,282.2 495.8,281.8 492.8,280.3 493.5,278.3 495.1,277.2 496.8,275.8 496.9,275.4 497.5,275.5Z" fill="#fddbc7"/>
<path d="M464.1,253.5 465.5,257.1 469.3,263.4 475.1,267.0 482.0,265.6 487.2,264.1 488.9,258.8 489.6,256.7 495.8,255.3 500.9,255.3 499.2,260.6 498.2,265.9 496.4,265.9 493.5,267.9 493.5,268.3 487.2,268.3 487.2,270.3 485.8,270.3 489.2,273.3 489.1,274.5 484.8,274.5 483.7,277.9 483.0,280.1 478.6,276.2 474.1,274.1 468.2,275.8 461.4,273.7 456.5,271.9 450.0,268.7 444.2,266.6 441.4,263.8 437.3,259.5 438.0,255.3 436.6,251.7 434.2,249.3 428.7,242.9 423.9,237.6 420.1,232.6 414.2,228.7 410.8,221.0 405.3,218.8 406.0,224.5 411.5,230.5 414.9,235.8 420.1,245.7 422.1,250.3 420.8,248.2 414.9,243.6 414.2,239.4 407.4,233.3 404.6,232.3 402.9,226.3 398.8,219.2 397.4,216.3 405.6,215.6 418.0,220.6 428.0,220.6 428.0,218.8 433.8,218.8 439.0,222.7 440.7,226.6 445.5,228.7 447.9,225.9 451.4,225.9 455.2,231.6 457.9,234.0 459.3,237.9 465.8,239.7 464.1,246.4Z" fill="#67001f"/>
<path d="M619.6,313.0 622.7,316.2 622.8,316.5 622.7,316.5 619.6,322.5 616.2,324.0 612.4,323.3 614.4,318.7 613.8,315.5 614.4,310.9Z" fill="#67001f"/>
<path d="M611.0,310.5 614.4,310.9 613.8,315.5 614.4,318.7 612.4,323.3 609.3,323.3 605.8,324.7 603.1,324.3 600.7,317.6 602.4,315.5 603.4,310.5 603.7,309.8 604.1,310.2Z" fill="#4393c3"/>
<path d="M600.7,307.3 603.6,309.7 603.4,310.5 602.4,315.5 600.7,317.6 603.1,324.3 600.3,326.1 597.9,327.2 594.8,325.0 594.1,322.2 595.2,317.6 594.1,315.8 593.5,313.0 591.4,313.0 589.0,310.5 591.7,305.6 594.2,302.3 597.2,303.8Z" fill="#92c5de"/>
<path d="M521.9,339.2 523.3,333.9 525.0,328.2 528.8,326.4 533.6,328.6 536.0,330.7 541.2,331.8 541.2,334.6 536.7,340.6 530.5,343.4 528.4,349.1 524.7,346.6 524.0,343.4 525.3,340.2Z" fill="#f4a582"/>
<path d="M609.3,454.9 606.9,454.9 601.4,453.2 599.3,451.8 599.3,450.0 600.0,444.7 602.1,438.3 604.8,438.0 607.6,440.8 608.9,440.4 611.0,442.2 615.1,444.7 617.5,448.2 616.5,450.7 613.8,453.9Z" fill="#d1e5f0"/>
<path d="M608.6,411.0 609.6,416.4 613.4,416.7 612.4,422.0 607.6,428.4 600.7,425.2 597.2,419.9 590.4,415.7 584.9,410.0 585.9,402.2 596.9,399.7 600.0,401.5 601.4,409.6Z" fill="#f7f7f7"/>
<path d="M553.2,292.5 554.2,293.2 558.7,290.7 558.7,288.9 560.1,291.0 564.9,293.2 570.1,293.9 576.6,295.6 580.0,293.9 585.2,293.9 587.6,296.0 592.1,301.3 594.2,302.3 591.7,305.6 589.0,310.5 591.4,313.0 586.9,316.5 581.8,317.6 578.3,316.9 577.3,322.9 582.1,323.6 580.0,326.1 574.9,328.6 573.2,328.6 569.7,327.2 568.7,323.6 567.0,316.5 568.3,313.7 568.0,309.5 561.5,309.8 559.1,307.0 556.0,307.0 551.1,305.2 551.5,303.1 549.1,298.8 549.4,294.6 551.5,292.1 554.9,289.6 555.2,288.4 556.0,290.3Z" fill="#fddbc7"/>
<path d="M540.1,294.6 542.9,292.5 547.4,291.4 551.8,289.3 554.9,287.5 554.9,289.6 551.5,292.1 549.4,294.6 549.1,298.8 551.5,303.1 551.1,305.2 556.0,307.0 559.1,307.0 561.5,309.8 568.0,309.5 568.3,313.7 567.0,316.5 568.7,323.6 569.7,327.2 565.6,324.7 560.1,325.4 561.1,328.2 559.4,329.6 559.4,332.1 561.5,334.9 559.7,346.3 557.0,344.9 552.5,339.9 547.4,336.7 542.9,332.1 541.2,331.8 536.0,330.7 533.6,328.6 528.8,326.4 530.2,322.5 532.6,319.0 533.9,314.4 534.3,308.4 532.2,305.9 533.9,303.1 534.2,301.0 534.3,301.0 536.0,303.1 538.8,298.5Z" fill="#f4a582"/>
<path d="M549.1,389.5 542.2,385.6 537.7,380.3 534.6,373.9 531.2,366.8 528.4,360.8 525.3,355.5 520.9,352.6 520.5,347.3 524.0,343.4 524.7,346.6 528.4,349.1 530.5,343.4 536.7,340.6 541.2,334.6 541.2,331.8 542.9,332.1 547.4,336.7 552.5,339.9 557.0,344.9 559.7,346.3 549.4,349.8 546.0,357.6 548.0,364.7 551.8,366.8 557.7,365.0 557.3,370.3 563.9,370.3 560.8,377.4 563.2,381.0 561.8,385.9 562.8,389.1 560.4,392.6 561.1,393.3 558.1,396.3 554.2,392.6Z" fill="#f4a582"/>
<path d="M562.8,389.1 561.8,385.9 563.2,381.0 560.8,377.4 563.9,370.3 573.2,366.1 575.6,370.0 578.7,375.6 588.6,379.2 592.1,380.3 593.1,384.9 599.6,389.1 599.3,392.6 602.4,395.8 600.0,401.5 596.9,399.7 585.9,402.2 584.9,410.0 579.0,412.1 576.6,409.6 572.1,408.6 569.0,412.1 567.0,412.1 565.6,407.5 563.9,401.5 561.1,393.3 560.4,392.6Z" fill="#fddbc7"/>
<path d="M565.6,519.0 568.0,522.6 575.9,525.0 569.7,526.1 564.2,526.1 564.2,517.6 564.9,516.5 564.6,517.6ZM605.2,460.3 602.4,465.9 597.2,468.0 586.9,469.1 585.9,474.8 578.3,475.8 576.6,480.1 580.7,481.1 578.3,483.3 575.6,487.2 571.4,490.7 568.0,494.2 569.7,497.8 573.5,500.6 568.0,504.9 563.2,510.2 564.9,516.5 552.9,515.5 551.5,511.9 548.0,508.4 550.8,503.1 553.2,497.8 553.2,492.5 554.2,488.9 553.6,483.6 553.2,476.5 556.0,471.2 555.3,464.1 557.7,458.8 559.4,451.8 557.7,446.4 559.4,439.4 560.4,432.3 564.2,427.0 564.9,418.1 567.0,412.1 569.0,412.1 572.1,408.6 576.6,409.6 579.0,412.1 584.9,410.0 590.4,415.7 597.2,419.9 600.7,425.2 607.6,428.4 612.4,422.0 615.1,427.7 608.2,431.2 602.1,438.3 600.0,444.7 599.3,450.0 599.3,451.8 599.3,453.9 603.1,458.5Z" fill="#b2182b"/>
<path d="M558.4,396.5 554.2,392.6 558.1,396.3ZM628.2,329.6 629.9,332.1 633.4,334.2 638.5,333.9 647.1,336.7 648.8,340.2 655.7,341.3 664.3,341.7 667.8,344.5 672.9,348.7 678.8,349.8 680.5,356.9 679.8,361.5 677.4,365.7 672.9,370.3 667.8,377.4 666.0,382.7 665.4,393.3 662.6,400.4 659.5,407.5 655.7,412.8 651.6,412.8 647.1,413.9 640.9,416.4 635.1,420.6 633.0,425.2 633.4,431.6 629.2,435.5 624.8,441.1 620.6,445.4 616.5,450.7 617.5,448.2 615.1,444.7 611.0,442.2 608.9,440.4 607.6,440.8 604.8,438.0 602.1,438.3 608.2,431.2 615.1,427.7 612.4,422.0 613.4,416.7 609.6,416.4 608.6,411.0 601.4,409.6 600.0,401.5 602.4,395.8 599.3,392.6 599.6,389.1 593.1,384.9 592.1,380.3 588.6,379.2 578.7,375.6 575.6,370.0 573.2,366.1 563.9,370.3 557.3,370.3 557.7,365.0 551.8,366.8 548.0,364.7 546.0,357.6 549.4,349.8 559.7,346.3 561.5,334.9 559.4,332.1 559.4,329.6 561.1,328.2 560.1,325.4 565.6,324.7 569.7,327.2 573.2,328.6 574.9,328.6 580.0,326.1 582.1,323.6 577.3,322.9 578.3,316.9 581.8,317.6 586.9,316.5 591.4,313.0 593.5,313.0 594.1,315.8 595.2,317.6 594.1,322.2 594.8,325.0 597.9,327.2 600.3,326.1 603.1,324.3 605.8,324.7 609.3,323.3 612.4,323.3 616.2,324.0 619.6,322.5 622.7,316.5 622.8,316.5 624.8,320.8 628.2,325.0ZM603.4,310.5 603.6,309.7 604.1,310.2 603.7,309.8ZM534.2,301.0 533.9,303.1 532.2,305.9 530.5,302.7 530.8,302.6 530.8,302.6ZM555.2,288.4 554.9,289.6 554.9,287.5Z" fill="#67001f"/>
<path d="M769.6,200.4 769.9,195.1 767.5,194.4 769.6,189.1 770.3,183.1 769.8,182.2 772.0,182.4 772.0,183.4 777.8,183.1 778.9,184.1 776.5,186.3 776.5,188.7 776.1,190.9 775.1,191.9 776.1,193.7 775.1,195.5 776.1,196.9 774.4,198.6 774.7,199.7Z" fill="#f4a582"/>
<path d="M768.2,179.2 772.7,176.7 780.2,177.1 787.1,177.8 794.0,177.8 795.4,178.5 797.8,179.5 802.6,179.9 805.0,180.6 806.0,180.9 810.9,181.3 810.9,181.3 811.2,183.1 807.8,184.8 803.3,186.3 800.2,190.5 799.2,191.6 800.9,194.0 798.5,195.8 797.4,198.3 793.0,201.1 785.1,201.5 780.9,204.0 778.5,202.2 774.7,199.7 774.4,198.6 776.1,196.9 775.1,195.5 776.1,193.7 775.1,191.9 776.1,190.9 776.5,188.7 776.5,186.3 778.9,184.1 777.8,183.1 772.0,183.4 772.0,182.4 769.8,182.2Z" fill="#b2182b"/>
<path d="M821.2,154.0 822.6,155.1 822.2,156.2 820.2,156.2 820.2,154.4Z" fill="#fddbc7"/>
<path d="M815.7,149.3 817.4,149.3 820.2,150.3 820.8,151.7 822.2,153.3 821.2,154.0 820.2,154.4 820.2,156.2 816.7,154.0 814.6,154.6 811.2,151.9 809.1,151.6 808.8,150.5 811.9,149.4Z" fill="#fddbc7"/>
<path d="M816.4,144.1 817.4,142.7 823.9,142.4 825.0,143.1 824.3,145.9 823.6,147.7 820.5,148.0 821.5,149.1 820.8,151.7 820.2,150.3 817.4,149.3 815.7,149.3 811.9,149.4 814.0,147.7Z" fill="#f4a582"/>
<path d="M823.6,164.3 824.3,163.2 826.3,162.9 829.8,162.7 832.9,162.9 833.2,164.7 836.0,165.0 836.3,166.4 835.3,167.9 832.9,167.5 831.2,169.3 829.1,167.5 827.4,168.9 824.3,168.9 823.6,168.9 821.2,167.9 821.2,166.4Z" fill="#fddbc7"/>
<path d="M836.3,163.2 838.4,163.6 842.2,162.9 844.9,163.2 844.9,162.2 844.2,160.8 846.3,160.1 847.7,159.0 848.4,159.4 851.8,157.9 858.3,159.4 859.0,161.5 856.6,162.9 857.0,165.0 855.2,166.1 850.4,167.1 847.3,166.8 842.9,166.1 842.2,165.0 836.3,165.6 836.0,165.0 833.2,164.7 832.9,162.9 835.3,164.0Z" fill="#f7f7f7"/>
<path d="M847.3,166.8 850.4,167.1 855.2,166.1 857.3,166.8 854.2,167.9 853.5,169.3 852.5,170.3 847.0,170.3 847.0,170.0Z" fill="#92c5de"/>
<path d="M862.1,171.7 865.6,172.5 866.9,173.9 866.2,177.4 864.2,180.2 863.8,180.9 861.1,179.2 859.4,177.4 856.3,175.6 854.6,173.2 854.6,171.4 858.3,171.4Z" fill="#92c5de"/>
<path d="M863.8,180.9 864.2,180.2 866.2,177.4 868.0,178.8 870.0,179.9 868.0,180.9 866.6,183.1 866.0,183.0 865.6,182.7Z" fill="#4393c3"/>
<path d="M867.3,183.8 866.0,183.0 866.6,183.1 868.0,180.9 869.3,180.6 870.7,183.1 871.1,185.9 872.4,187.7 871.4,189.4 869.2,190.7 866.9,188.4Z" fill="#92c5de"/>
<path d="M877.3,181.7 879.3,184.1 878.3,185.6 872.4,186.6 871.1,185.9 870.7,183.1 872.4,182.0Z" fill="#92c5de"/>
<path d="M854.9,177.1 852.5,174.6 850.1,171.4 847.3,172.5 847.0,170.3 852.5,170.3 853.5,169.3 854.2,167.9 857.3,166.8 860.7,168.9 864.9,168.9 866.9,171.4 865.6,172.5 862.1,171.7 858.3,171.4 854.6,171.4 854.6,173.2 856.3,175.6 859.4,177.4 861.1,179.2 863.8,180.9 858.7,178.5Z" fill="#92c5de"/>
<path d="M872.4,168.9 873.8,171.4 877.6,173.5 878.3,174.6 877.3,176.3 879.3,178.5 877.3,181.7 872.4,182.0 870.7,183.1 869.3,180.6 870.0,179.9 868.0,178.8 866.2,177.4 866.9,173.9 865.6,172.5 866.9,171.4 864.9,168.9 864.9,168.2 870.0,168.2Z" fill="#d1e5f0"/>
<path d="M856.6,162.9 859.0,161.5 861.8,162.2 865.2,161.5 869.0,160.8 872.4,159.7 876.6,160.1 879.0,161.5 876.2,162.9 873.1,167.1 870.0,168.2 864.9,168.2 864.9,168.9 860.7,168.9 857.3,166.8 855.7,165.8 857.0,165.0Z" fill="#d1e5f0"/>
<path d="M862.1,157.9 864.9,156.2 867.3,155.8 872.4,156.5 877.9,157.6 876.6,160.1 872.4,159.7 869.0,160.8 865.2,161.5 861.8,162.2 859.0,161.5 858.3,159.4 859.4,158.6Z" fill="#d1e5f0"/>
<path d="M846.6,151.9 849.4,150.9 851.8,150.9 857.0,152.6 862.1,154.4 864.9,156.2 862.1,157.9 859.4,158.6 858.3,159.4 851.8,157.9 848.4,159.4 847.7,159.0 843.5,156.2 841.8,153.7 843.2,153.0Z" fill="#f7f7f7"/>
<path d="M830.8,140.2 830.0,137.3 832.5,137.4 833.8,137.4 833.2,136.7 834.6,138.5 838.0,140.2 843.2,138.8 849.0,140.6 849.0,142.7 850.4,145.2 850.8,147.0 851.8,150.9 849.4,150.9 846.6,151.9 843.2,153.0 841.8,153.7 843.5,156.2 847.7,159.0 846.3,160.1 844.2,160.8 844.9,162.2 844.9,163.2 842.2,162.9 838.4,163.6 836.3,163.2 835.3,164.0 832.9,162.9 829.8,162.7 826.3,162.9 826.3,160.4 828.4,158.3 825.7,157.2 823.2,157.2 822.2,156.2 822.6,155.1 821.2,154.0 822.2,153.3 820.8,151.7 821.5,149.1 820.5,148.0 823.6,147.7 824.3,145.9 825.0,143.1 823.9,142.4 829.4,141.7Z" fill="#b2182b"/>
<path d="M862.1,137.4 864.2,138.8 867.6,138.8 878.6,138.8 881.0,140.6 882.4,143.1 880.0,146.3 881.4,148.7 882.8,152.6 878.3,155.8 877.9,157.6 872.4,156.5 867.3,155.8 864.9,156.2 862.1,154.4 857.0,152.6 851.8,150.9 850.8,147.0 850.4,145.2 849.0,142.7 849.0,140.6 855.2,139.2Z" fill="#fddbc7"/>
<path d="M872.6,132.8 875.9,131.7 882.8,132.1 888.6,132.5 891.7,134.2 890.3,136.3 886.2,138.8 889.0,139.5 881.0,140.6 878.6,138.8 878.3,137.1 873.1,136.0 871.7,135.8 872.8,134.2Z" fill="#92c5de"/>
<path d="M874.5,128.2 877.9,127.1 881.0,129.6 883.8,128.9 884.1,126.4 886.2,126.1 889.6,126.8 894.5,127.5 895.8,128.6 897.2,132.8 891.7,134.2 888.6,132.5 882.8,132.1 875.9,131.7 872.6,132.8 872.4,131.4Z" fill="#92c5de"/>
<path d="M881.0,124.3 880.7,121.8 885.2,120.8 896.5,120.8 894.5,123.2 895.8,126.1 894.5,127.5 889.6,126.8 886.2,126.1 884.1,126.4 884.1,126.1Z" fill="#92c5de"/>
<path d="M881.0,140.6 889.0,139.5 886.2,138.8 890.3,136.3 891.7,134.2 897.2,132.8 906.2,134.6 909.6,140.2 912.7,142.7 907.9,143.4 909.6,147.0 908.6,147.0 905.1,149.8 898.2,148.7 893.8,148.7 887.9,147.7 882.8,148.7 881.4,148.7 880.0,146.3 882.4,143.1Z" fill="#f7f7f7"/>
<path d="M900.0,161.8 903.7,165.4 903.4,167.1 899.6,167.1 897.2,170.3 896.5,168.6 896.9,165.4 894.1,162.2 891.7,160.4 894.8,159.7Z" fill="#92c5de"/>
<path d="M926.8,171.0 926.4,171.4 925.8,171.0 928.5,168.8ZM917.2,173.9 913.7,172.1 913.4,172.0 912.0,170.7 913.7,168.6 909.6,166.4 905.1,167.5 903.3,170.0 902.1,171.0 897.2,170.3 899.6,167.1 903.4,167.1 903.7,165.4 900.0,161.8 894.8,159.7 891.7,160.4 886.2,161.8 882.8,161.8 879.0,161.5 876.6,160.1 877.9,157.6 878.3,155.8 882.8,152.6 881.4,148.7 882.8,148.7 887.9,147.7 893.8,148.7 898.2,148.7 905.1,149.8 908.6,147.0 909.6,147.0 914.4,145.9 917.2,146.3 918.2,148.4 921.6,150.5 922.3,152.6 930.9,154.4 935.0,154.8 937.8,157.9 936.8,162.2 931.9,164.5 929.2,164.7 921.3,167.5 920.6,171.0 925.8,171.0 922.3,172.1 918.9,173.9Z" fill="#d6604d"/>
<path d="M899.3,173.9 898.6,176.3 898.3,176.6 893.1,175.3 886.2,176.7 878.3,174.6 877.6,173.5 873.8,171.4 872.4,168.9 870.0,168.2 873.1,167.1 876.2,162.9 879.0,161.5 882.8,161.8 886.2,161.8 891.7,160.4 894.1,162.2 896.9,165.4 896.5,168.6 897.2,170.3 902.1,171.0 902.6,170.6 902.7,170.9 902.4,171.4Z" fill="#fddbc7"/>
<path d="M895.5,180.6 896.2,183.0 893.1,182.4 890.7,183.8 886.9,185.2 882.8,184.5 879.3,184.1 877.3,181.7 879.3,178.5 877.3,176.3 878.3,174.6 886.2,176.7 893.1,175.3 898.3,176.6 896.5,178.5Z" fill="#d1e5f0"/>
<path d="M876.6,99.2 874.2,103.1 869.0,105.9 863.8,108.7 860.4,111.2 859.4,115.5 864.5,118.3 865.6,120.4 862.5,121.5 857.6,124.3 857.0,129.6 855.2,132.5 850.8,132.5 844.9,135.3 843.5,133.2 841.5,127.1 838.7,122.9 840.8,119.7 843.2,117.2 842.2,115.5 844.6,113.0 841.8,109.8 841.8,106.3 848.0,103.1 850.1,99.5 853.5,96.7 857.0,92.4 862.1,88.9 870.9,86.9 872.4,87.8 877.3,88.9 881.4,91.0 881.4,94.9 883.1,98.5 883.0,98.5 882.8,98.5Z" fill="#fddbc7"/>
<path d="M879.0,119.7 873.8,116.2 874.2,112.6 873.1,108.4 877.6,105.5 884.5,102.0 887.6,101.3 886.2,99.5 883.0,98.5 883.1,98.5 881.4,94.9 881.4,91.0 877.3,88.9 872.4,87.8 870.9,86.9 873.5,86.1 877.3,88.2 881.7,88.2 885.9,88.6 889.0,87.1 890.7,84.0 896.2,83.3 897.9,84.3 901.0,85.4 899.6,87.0 898.2,88.9 903.4,91.7 900.3,94.6 903.7,98.8 902.4,102.0 905.1,103.8 903.4,105.5 908.9,108.7 907.9,110.5 900.0,114.8 895.8,117.2 895.7,117.3 886.2,118.3Z" fill="#f7f7f7"/>
<path d="M924.7,201.8 922.3,201.8 919.2,201.1 912.0,203.6 905.5,201.1 901.7,203.3 896.5,201.5 894.1,199.0 893.1,197.8 893.1,197.8 891.4,195.8 892.0,191.6 891.3,190.8 891.4,189.8 891.0,189.1 892.0,188.0 889.6,187.0 890.7,183.8 893.1,182.4 896.2,183.0 896.5,184.1 900.0,185.6 908.6,185.6 915.4,182.7 920.9,182.7 922.3,184.1 927.5,185.6 932.6,186.6 939.5,186.3 943.3,184.1 946.4,184.5 949.8,185.9 950.5,189.4 954.3,190.9 952.6,191.9 951.6,193.3 952.2,197.2 954.3,200.1 946.1,200.1 941.2,200.1 934.4,201.5 930.9,201.1 926.1,201.1 926.1,203.3 923.7,204.3 923.4,204.6 923.4,204.3Z" fill="#67001f"/>
<path d="M937.8,177.8 943.0,178.5 946.4,178.8 950.9,180.6 955.0,180.6 957.4,182.7 960.2,183.1 955.0,185.2 949.8,185.9 946.4,184.5 943.3,184.1 937.4,178.1Z" fill="#d1e5f0"/>
<path d="M956.7,186.6 957.1,189.8 960.2,191.6 960.2,193.7 955.0,190.5 954.3,190.9 950.5,189.4 949.8,185.9 955.0,185.2Z" fill="#92c5de"/>
<path d="M973.3,188.2 973.2,188.6 969.8,190.5 968.4,195.5 965.3,194.0 965.0,191.2 960.2,193.7 960.2,191.6 957.1,189.8 956.7,186.6 955.0,185.2 960.2,183.1 964.6,185.6 967.4,183.4 967.5,183.5 968.8,185.6Z" fill="#f7f7f7"/>
<path d="M918.9,219.5 919.9,217.8 920.9,214.2 923.4,213.5 922.7,215.6 922.3,219.9 921.3,223.4 920.3,227.0 917.8,220.6Z" fill="#fddbc7"/>
<path d="M923.2,209.0 923.7,208.6 925.4,208.9 926.1,210.3 923.4,213.5 920.9,214.2 922.3,211.4Z" fill="#d6604d"/>
<path d="M922.3,219.9 922.7,215.6 924.0,215.6 933.7,213.2 935.0,217.4 927.5,219.9 930.9,223.4 929.2,225.2 925.8,227.0 924.0,228.0 920.3,227.0 921.3,223.4Z" fill="#d6604d"/>
<path d="M923.4,205.0 923.7,204.3 926.1,203.3 926.1,201.1 930.9,201.1 934.4,201.5 941.2,200.1 946.1,200.1 942.3,205.4 941.2,209.6 933.7,213.2 924.0,215.6 922.7,215.6 923.4,213.5 926.1,210.3 925.4,208.9 923.7,208.6 923.4,208.3 923.7,207.5Z" fill="#d6604d"/>
<path d="M966.4,230.5 964.3,230.5 960.2,228.4 964.3,224.8 965.3,225.2 965.7,228.7Z" fill="#b2182b"/>
<path d="M964.3,224.8 960.2,228.4 954.0,228.0 944.7,221.3 939.2,218.5 935.0,217.4 933.7,213.2 941.2,209.6 942.3,205.4 946.1,200.1 954.3,200.1 956.7,204.3 958.4,207.1 956.7,209.3 957.8,212.5 961.9,214.9 964.3,218.1 965.3,221.7 965.3,223.4 968.1,224.1 965.3,225.2Z" fill="#b2182b"/>
<path d="M974.7,243.2 974.9,243.7 974.6,243.6ZM977.5,243.8 976.7,244.7 975.0,243.8 976.3,239.0 977.7,241.8Z" fill="#f7f7f7"/>
<path d="M987.3,244.7 990.4,241.8 992.8,239.4 994.2,237.9 994.2,243.3 992.2,245.7 990.1,250.0 991.8,253.5 990.1,251.0 981.1,250.3 977.7,245.7 977.7,245.4 980.8,245.7Z" fill="#fddbc7"/>
<path d="M1001.8,247.9 1005.9,251.7 1001.4,258.8 999.0,264.1 994.6,267.7 989.4,271.2 980.4,274.5 982.9,272.3 979.1,264.1 989.4,260.6 991.8,253.5 990.1,250.0 992.2,245.7 994.2,243.3 998.0,247.1Z" fill="#f7f7f7"/>
<path d="M970.5,279.7 965.3,281.8 955.0,286.1 949.8,286.4 947.1,276.5 947.3,273.3 947.4,273.3 949.2,271.2 953.3,269.8 960.2,270.2 963.6,270.5 968.8,265.6 979.1,264.1 982.9,272.3 980.4,274.5 979.8,274.8Z" fill="#b2182b"/>
<path d="M970.8,235.8 972.5,238.7 973.9,241.1 974.7,243.3 974.7,243.2 974.6,243.6 974.9,243.7 975.0,244.0 976.0,240.2 976.0,240.2 975.0,243.8 976.7,244.7 977.4,243.9 977.5,244.1 977.4,245.4 977.8,245.4 977.7,245.4 977.7,245.7 978.0,246.1 978.0,246.4 981.1,250.3 990.1,251.0 991.8,253.5 989.4,260.6 979.1,264.1 968.8,265.6 963.6,270.5 960.2,270.2 953.3,269.8 949.2,271.2 947.4,273.3 947.4,273.3 947.4,272.3 943.0,267.7 939.5,262.4 935.0,255.3 932.6,250.0 929.2,244.7 925.8,239.4 921.3,232.3 920.3,227.0 924.0,228.0 925.8,227.0 929.2,225.2 930.9,223.4 927.5,219.9 935.0,217.4 939.2,218.5 944.7,221.3 954.0,228.0 960.2,228.4 964.3,230.5 966.4,230.5 967.0,232.3Z" fill="#b2182b"/>
<path d="M999.7,240.8 996.3,236.5 993.9,235.1 988.7,237.2 982.5,235.8 977.4,232.6 975.0,228.7 972.9,225.2 968.1,224.1 965.3,223.4 965.3,221.7 964.3,218.1 961.9,214.9 957.8,212.5 956.7,209.3 958.4,207.1 956.7,204.3 954.3,200.1 952.2,197.2 951.6,193.3 952.6,191.9 954.3,190.9 955.0,190.5 960.2,193.7 965.0,191.2 965.3,194.0 968.4,195.5 970.5,198.6 975.6,201.5 982.5,201.1 986.0,199.0 991.1,196.9 996.3,196.2 1004.9,198.6 1008.3,201.8 1010.7,201.8 1010.7,205.4 1008.3,210.3 1009.7,212.8 1008.3,214.6 1009.4,219.9 1012.4,220.2 1009.7,225.6 1011.8,226.6 1016.2,231.2 1016.2,234.8 1018.0,235.1 1017.6,237.2 1012.8,238.7 1012.1,242.2 1006.6,241.5Z" fill="#67001f"/>
<path d="M1009.4,219.9 1008.3,214.6 1009.7,212.8 1008.3,210.3 1010.7,205.4 1015.2,206.4 1017.3,204.7 1022.1,202.9 1023.8,199.7 1029.0,199.0 1033.4,199.7 1035.5,200.1 1039.3,198.6 1042.7,195.5 1045.5,197.2 1046.2,200.4 1049.9,200.4 1053.7,199.0 1057.9,199.7 1056.5,200.4 1049.6,201.1 1046.5,204.0 1045.1,207.1 1044.8,209.6 1040.7,211.0 1042.0,213.2 1038.6,214.2 1038.6,218.5 1034.1,219.2 1029.0,221.7 1028.3,225.6 1020.4,227.0 1015.2,227.3 1009.7,225.6 1012.4,220.2Z" fill="#67001f"/>
<path d="M1030.7,243.6 1029.0,241.5 1022.1,242.2 1013.5,242.5 1012.1,242.2 1012.8,238.7 1017.6,237.2 1018.0,235.1 1016.2,234.8 1016.2,231.2 1011.8,226.6 1009.7,225.6 1015.2,227.3 1020.4,227.0 1028.3,225.6 1029.0,221.7 1034.1,219.2 1038.6,218.5 1038.6,214.2 1042.0,213.2 1040.7,211.0 1044.8,209.6 1045.1,207.1 1046.5,204.0 1049.6,201.1 1056.5,200.4 1059.9,201.1 1064.7,205.4 1061.0,207.9 1055.8,208.2 1054.4,209.6 1054.8,212.8 1056.8,215.3 1059.2,217.1 1056.8,218.5 1056.5,222.0 1052.7,225.6 1047.9,230.9 1043.1,232.3 1039.3,235.8 1041.3,237.2 1042.0,240.4 1043.8,242.2 1044.4,245.0 1041.0,245.7 1036.9,245.4 1034.8,247.5 1034.6,247.6 1032.4,246.4Z" fill="#67001f"/>
<path d="M982.5,189.8 984.2,185.2 981.1,183.4 982.5,182.7 989.4,185.2 992.8,185.2 999.7,180.6 1003.2,181.7 1006.6,182.7 1010.0,185.6 1013.5,186.6 1016.9,189.8 1022.1,193.3 1025.5,195.8 1029.0,196.9 1029.0,199.0 1023.8,199.7 1022.1,202.9 1017.3,204.7 1015.2,206.4 1010.7,205.4 1010.7,201.8 1008.3,201.8 1004.9,198.6 996.3,196.2 991.1,196.9 986.0,199.0 985.6,193.3Z" fill="#d1e5f0"/>
<path d="M1032.4,192.6 1035.8,191.6 1038.6,189.1 1042.7,186.6 1044.4,189.1 1043.1,190.2 1047.9,191.9 1053.4,191.6 1054.1,193.3 1057.9,195.1 1057.9,199.7 1053.7,199.0 1049.9,200.4 1046.2,200.4 1045.5,197.2 1042.7,195.5 1039.3,198.6 1035.5,200.1 1033.4,199.7 1034.8,195.5Z" fill="#fddbc7"/>
<path d="M1053.0,180.9 1056.5,178.5 1061.6,179.5 1072.0,179.9 1076.1,182.0 1072.0,185.2 1064.4,186.6 1061.6,188.7 1057.9,188.0 1053.4,191.6 1047.9,191.9 1043.1,190.2 1044.4,189.1 1049.6,188.7 1051.7,187.0 1047.2,184.5 1044.1,182.0 1044.4,181.7Z" fill="#d6604d"/>
<path d="M1013.5,177.4 1022.1,177.1 1027.2,179.2 1029.0,183.1 1036.2,187.7 1037.6,184.8 1044.1,182.0 1047.2,184.5 1051.7,187.0 1049.6,188.7 1044.4,189.1 1042.7,186.6 1038.6,189.1 1035.8,191.6 1032.4,192.6 1034.8,195.5 1033.4,199.7 1029.0,199.0 1029.0,196.9 1025.5,195.8 1022.1,193.3 1016.9,189.8 1013.5,186.6 1010.0,185.6 1006.6,182.7 1003.2,181.7 999.7,180.6 992.8,185.2 992.8,172.1 1001.4,170.0Z" fill="#d6604d"/>
<path d="M976.7,173.9 982.5,171.0 982.9,165.4 978.7,164.7 968.8,166.8 963.6,169.6 960.5,159.7 960.5,157.9 963.6,153.0 967.7,152.3 973.9,149.1 980.1,148.0 989.4,151.6 996.3,150.5 1003.2,152.3 1011.4,151.6 1010.0,147.3 1006.6,147.3 1010.0,143.8 1011.8,140.2 1023.8,138.1 1037.6,135.3 1043.8,136.3 1052.7,142.0 1063.4,140.2 1068.2,142.7 1075.4,150.9 1082.3,151.6 1087.4,150.9 1092.6,154.4 1098.8,155.1 1100.5,157.6 1094.3,164.7 1085.7,164.3 1084.0,170.3 1075.4,172.1 1076.1,182.0 1072.0,179.9 1061.6,179.5 1056.5,178.5 1053.0,180.9 1044.4,181.7 1037.6,184.8 1036.2,187.7 1029.0,183.1 1027.2,179.2 1022.1,177.1 1013.5,177.4 1001.4,170.0 992.8,172.1 992.8,185.2 989.4,185.2 982.5,182.7 975.3,177.8 973.2,173.5Z" fill="#f4a582"/>
<path d="M1078.8,224.5 1084.0,225.6 1089.8,229.8 1096.0,232.3 1103.3,232.6 1103.6,236.9 1099.5,237.9 1092.6,236.5 1087.4,234.4 1082.3,233.0 1078.8,230.9 1075.7,229.4 1077.1,225.6Z" fill="#d6604d"/>
<path d="M1111.5,231.9 1115.3,232.6 1117.0,234.8 1115.0,236.5 1109.8,236.5 1105.7,235.5 1106.0,232.6 1108.1,231.6Z" fill="#4393c3"/>
<path d="M1116.0,252.5 1111.5,251.7 1108.1,254.2 1103.6,254.9 1103.1,255.0 1102.9,254.9 1105.7,250.3 1105.0,245.4 1102.9,244.3 1104.3,242.2 1105.3,237.9 1109.1,239.4 1109.5,242.2 1116.7,242.5 1118.1,245.7 1115.3,246.1 1113.9,249.3 1116.0,249.6 1117.7,247.9 1118.7,253.9 1117.9,257.4 1116.7,254.9Z" fill="#67001f"/>
<path d="M1137.3,281.8 1135.9,273.0 1131.1,271.9 1127.0,275.5 1124.6,273.7 1125.3,267.7 1122.2,262.4 1118.1,257.8 1117.9,257.4 1118.7,253.9 1120.8,250.7 1121.5,246.8 1124.2,246.4 1125.6,241.8 1127.7,237.2 1133.9,234.0 1134.9,231.6 1139.7,234.0 1139.7,237.6 1135.9,242.9 1136.3,246.8 1140.1,246.1 1142.5,250.0 1140.8,253.2 1144.5,255.3 1148.2,256.5 1144.5,259.2 1139.0,261.7 1136.6,265.9 1139.0,271.2 1139.7,273.7 1138.0,277.6 1141.1,282.2 1141.4,287.1 1140.1,290.7 1139.3,294.5 1139.0,287.1Z" fill="#b2182b"/>
<path d="M1170.0,274.1 1170.3,276.9 1170.0,279.7 1164.8,280.8 1163.1,280.8 1163.5,275.5 1160.4,269.4 1154.5,268.0 1151.4,267.0 1147.6,265.9 1148.3,262.0 1145.9,259.9 1144.5,259.2 1148.2,256.5 1150.0,256.4 1151.8,252.1 1154.5,254.9 1158.3,257.4 1160.0,258.5 1158.0,262.0 1162.1,264.8 1166.6,269.5 1167.4,270.5Z" fill="#f7f7f7"/>
<path d="M1154.5,290.7 1153.5,289.6 1152.8,288.2 1152.1,283.6 1154.5,280.4 1163.1,280.8 1164.8,280.8 1170.0,279.7 1170.0,285.4 1170.0,287.9 1166.2,290.0 1164.2,292.5 1161.7,292.8 1159.7,294.6 1156.2,293.9Z" fill="#f4a582"/>
<path d="M1147.3,286.4 1145.9,283.6 1144.2,284.7 1142.5,290.7 1141.4,294.9 1145.2,301.3 1145.9,305.9 1149.4,307.0 1151.6,309.3 1151.4,309.5 1147.6,310.9 1145.2,308.7 1145.2,308.4 1143.2,306.6 1138.7,303.4 1138.4,297.8 1139.4,296.0 1139.3,294.5 1140.1,290.7 1141.4,287.1 1141.1,282.2 1138.0,277.6 1139.7,273.7 1139.0,271.2 1136.6,265.9 1139.0,261.7 1144.5,259.2 1145.9,259.9 1148.3,262.0 1147.6,265.9 1151.4,267.0 1154.5,268.0 1160.4,269.4 1163.5,275.5 1163.1,280.8 1154.5,280.4 1152.1,283.6 1152.8,288.2 1153.5,289.6 1151.8,287.9Z" fill="#d6604d"/>
<path d="M1175.8,283.6 1176.2,289.3 1173.4,292.5 1168.3,294.6 1167.2,297.8 1161.4,301.0 1161.4,296.7 1159.7,294.6 1161.7,292.8 1164.2,292.5 1166.2,290.0 1170.0,287.9 1170.0,285.4 1170.0,279.7 1170.3,276.9 1170.0,274.1 1167.4,270.5 1170.0,273.7 1172.8,278.3ZM1164.2,264.1 1166.6,269.4 1166.6,269.5 1162.1,264.8 1158.0,262.0 1160.0,258.5 1158.3,257.4 1154.5,254.9 1151.8,252.1 1154.5,251.7 1158.0,250.7 1163.1,249.3 1167.2,250.7 1171.7,255.3 1171.9,255.6 1168.3,257.1 1166.6,259.5Z" fill="#b2182b"/>
<path d="M1240.5,189.8 1242.4,194.3 1241.9,194.8 1237.1,195.8 1233.6,197.9 1230.8,197.5 1229.2,196.9 1230.9,191.6 1227.8,190.2 1230.2,188.4 1236.4,183.8 1240.5,182.7 1246.4,181.3 1249.8,181.7 1246.7,186.3Z" fill="#f7f7f7"/>
<path d="M1245.3,200.4 1245.7,204.0 1244.0,207.1 1238.8,208.9 1234.7,209.6 1235.4,204.3 1235.7,198.6 1231.9,197.9 1233.6,197.9 1237.1,195.8 1241.9,194.8 1242.5,194.6 1242.6,194.8Z" fill="#f4a582"/>
<path d="M1115.0,152.6 1123.6,153.7 1128.7,154.8 1136.6,153.0 1138.0,149.1 1144.2,148.4 1151.8,149.8 1154.5,153.3 1166.6,153.3 1171.7,156.2 1180.3,157.2 1194.1,153.7 1201.3,154.8 1197.5,161.1 1205.4,162.5 1211.3,164.3 1209.6,166.4 1199.2,170.0 1188.9,172.8 1184.8,176.7 1178.6,180.6 1168.3,181.7 1161.4,184.1 1147.6,180.6 1131.5,180.2 1128.0,174.6 1121.8,172.5 1112.6,171.0 1113.2,166.8 1110.1,161.8 1102.9,159.7 1102.2,157.2 1108.1,155.1Z" fill="#d1e5f0"/>
<path d="M786.4,206.8 792.6,207.1 794.4,208.2 794.0,212.5 795.7,217.8 790.2,218.5 787.5,220.2 787.8,222.4 783.7,224.8 780.9,226.6 775.4,227.0 770.3,229.8 770.3,233.4 756.3,233.4 757.2,232.6 762.4,230.5 765.8,227.0 766.8,223.1 766.5,219.9 771.0,213.5 774.4,212.1 776.8,211.0 778.9,207.5 779.9,204.7 781.4,204.4 782.7,204.7Z" fill="#b2182b"/>
<path d="M745.2,247.1 749.3,241.1 753.8,235.8 756.3,233.4 770.3,233.4 770.3,239.4 758.9,239.4 758.9,248.2 755.1,250.7 755.5,256.0 741.9,256.0 742.4,252.8Z" fill="#b2182b"/>
<path d="M745.2,262.4 741.7,257.1 741.9,256.0 755.5,256.0 755.1,250.7 758.9,248.2 758.9,239.4 770.3,239.4 770.3,234.8 783.7,242.9 779.6,256.0 781.3,273.3 761.3,276.9 758.2,279.4 757.2,277.6 753.8,274.4 750.3,272.6 745.2,273.0 743.4,274.4 743.2,274.3 744.5,267.7Z" fill="#f7f7f7"/>
<path d="M748.6,282.5 752.7,283.3 752.7,284.3 748.6,284.0 742.9,285.0 742.4,282.5Z" fill="#d1e5f0"/>
<path d="M740.0,279.4 743.0,274.9 743.4,274.4 745.2,273.0 750.3,272.6 753.8,274.4 757.2,277.6 758.2,279.4 761.0,287.5 757.5,287.5 753.1,286.8 747.9,286.4 743.4,287.7 742.4,282.5ZM742.9,285.0 748.6,284.0 752.7,284.3 752.7,283.3 748.6,282.5 742.4,282.5Z" fill="#f4a582"/>
<path d="M743.4,287.9 743.4,287.7 747.9,286.4 753.1,286.8 753.1,290.0 748.8,292.7 748.6,292.5Z" fill="#d1e5f0"/>
<path d="M754.4,301.3 754.4,299.5 757.9,296.4 761.7,296.0 763.4,298.5 764.8,301.3 763.7,303.1 760.6,307.0 760.2,306.8 757.2,305.2Z" fill="#fddbc7"/>
<path d="M763.0,308.4 760.6,307.1 760.6,307.0 763.7,303.1 764.8,301.3 767.5,301.3 767.9,305.2 771.6,304.8 771.0,308.4 774.4,310.5 774.4,315.8 769.2,313.7Z" fill="#f7f7f7"/>
<path d="M750.3,294.2 748.8,292.7 753.1,290.0 753.1,286.8 757.5,287.5 761.0,287.5 763.4,288.9 765.8,289.6 769.2,287.5 771.0,291.4 772.7,295.3 773.0,301.3 771.6,304.8 767.9,305.2 767.5,301.3 764.8,301.3 763.4,298.5 761.7,296.0 757.9,296.4 754.4,299.5 754.4,297.8Z" fill="#f4a582"/>
<path d="M786.4,312.6 774.4,315.8 774.4,310.5 771.0,308.4 771.6,304.8 773.0,301.3 772.7,295.3 776.5,294.9 781.3,294.6 782.3,294.9 784.7,297.1 790.9,297.8 790.2,303.4 789.2,309.1 790.6,313.3 790.3,313.5 789.9,313.3Z" fill="#d6604d"/>
<path d="M796.1,313.3 793.3,314.4 790.6,313.6 790.6,313.3 789.2,309.1 790.2,303.4 790.9,297.8 790.6,292.5 800.2,292.1 799.9,293.5 801.6,297.8 801.9,302.0 802.6,306.6 804.3,309.8 800.2,311.2Z" fill="#b2182b"/>
<path d="M801.9,302.0 801.6,297.8 799.9,293.5 800.2,292.1 803.3,292.5 803.0,296.0 805.4,298.1 805.7,309.5 804.3,309.8 802.6,306.6Z" fill="#f7f7f7"/>
<path d="M805.7,309.5 805.7,309.5 805.4,298.1 803.0,296.0 803.3,292.5 808.5,289.3 812.6,290.0 813.3,294.2 809.5,299.5 809.5,308.7 807.9,309.0 807.1,309.1Z" fill="#f4a582"/>
<path d="M821.2,316.2 818.1,311.6 815.7,309.1 811.9,308.7 809.4,308.9 809.5,308.7 809.5,299.5 813.3,294.2 812.6,290.0 814.3,283.6 820.8,282.9 827.0,284.3 831.2,286.1 837.0,284.0 842.5,285.0 847.0,282.9 849.0,288.2 847.0,293.9 844.2,300.2 840.8,306.6 836.7,306.6 833.6,309.1 829.4,315.1 828.3,315.5 826.0,315.5Z" fill="#67001f"/>
<path d="M785.4,286.4 785.4,284.7 789.9,283.3 793.3,281.1 795.0,279.7 800.9,278.7 801.6,281.8 803.6,285.4 807.8,286.8 808.5,289.3 803.3,292.5 800.2,292.1 790.6,292.5 790.9,297.8 784.7,297.1 782.3,294.9 781.3,294.6 782.0,289.6Z" fill="#d6604d"/>
<path d="M803.6,285.4 801.6,281.8 800.9,278.7 804.7,277.2 812.2,277.2 814.6,271.9 814.6,263.4 820.2,262.7 841.5,248.2 849.0,251.4 854.9,250.0 854.9,259.2 852.5,260.6 853.5,271.9 851.8,277.2 847.0,282.9 842.5,285.0 837.0,284.0 831.2,286.1 827.0,284.3 820.8,282.9 814.3,283.6 812.6,290.0 808.5,289.3 807.8,286.8Z" fill="#d6604d"/>
<path d="M781.3,273.3 779.6,256.0 783.7,242.9 804.3,257.1 806.4,259.5 811.2,261.3 811.6,264.1 814.6,263.4 814.6,271.9 812.2,277.2 804.7,277.2 800.9,278.7 795.0,279.7 793.3,281.1 789.9,283.3 785.4,284.7 785.4,286.4 782.0,289.6 781.3,294.6 776.5,294.9 772.7,295.3 771.0,291.4 769.2,287.5 765.8,289.6 763.4,288.9 761.0,287.5 758.2,279.4 761.3,276.9Z" fill="#d6604d"/>
<path d="M835.6,201.1 838.4,200.4 836.3,204.0 838.4,206.8 834.9,210.0 834.6,211.7 838.4,213.9 839.8,214.2 837.7,218.1 835.3,222.0 832.9,224.5 831.5,217.8 828.1,214.2 826.3,211.4 828.8,208.9 828.8,204.0 829.8,200.8 833.9,199.4Z" fill="#d6604d"/>
<path d="M801.9,204.0 808.7,201.7 812.2,201.2 817.4,201.5 822.6,200.4 829.8,200.8 828.8,204.0 828.8,208.9 826.3,211.4 828.1,214.2 831.5,217.8 832.9,224.5 834.3,228.7 833.9,235.8 832.5,238.7 834.6,241.8 837.7,244.3 839.8,245.4 841.5,248.2 820.2,262.7 814.6,263.4 811.6,264.1 811.2,261.3 806.4,259.5 804.3,257.1 783.7,242.9 770.3,234.8 770.3,233.4 770.3,229.8 775.4,227.0 780.9,226.6 783.7,224.8 787.8,222.4 787.5,220.2 790.2,218.5 795.7,217.8 794.0,212.5 794.4,208.2 792.6,207.1 796.8,205.0Z" fill="#b2182b"/>
<path d="M852.5,217.1 854.6,220.2 860.4,221.7 865.6,224.1 869.3,221.7 869.0,217.8 874.2,214.9 879.3,216.0 882.8,218.1 886.9,219.5 885.2,224.5 886.2,225.2 886.2,253.5 886.2,260.6 882.8,260.6 882.8,262.4 865.6,255.3 854.9,250.0 849.0,251.4 841.5,248.2 839.8,245.4 837.7,244.3 834.6,241.8 832.5,238.7 833.9,235.8 834.3,228.7 832.9,224.5 835.3,222.0 837.7,218.1 839.8,214.2 845.6,214.9Z" fill="#fddbc7"/>
<path d="M900.0,222.0 903.4,220.6 908.6,219.9 911.3,220.6 917.8,220.6 920.3,227.0 918.2,233.0 913.7,229.4 912.3,225.6 912.0,227.0 915.8,235.1 918.9,241.1 922.3,246.8 923.0,250.3 927.1,253.5 886.2,253.5 886.2,225.2 885.2,224.5 886.9,219.5 893.1,220.6Z" fill="#67001f"/>
<path d="M939.5,278.7 943.6,283.6 946.8,286.8 946.1,287.1 943.3,284.0 940.6,281.8 938.1,280.1 934.7,279.4 932.3,280.1 930.6,278.7 925.8,280.8 927.5,271.2 932.7,267.9 935.4,275.5Z" fill="#fddbc7"/>
<path d="M949.2,289.6 947.4,290.7 948.5,291.8 947.8,292.5 946.7,292.5 944.0,290.7 944.0,287.9 946.1,287.1 946.8,286.8 947.1,287.1Z" fill="#92c5de"/>
<path d="M928.5,262.0 932.6,267.7 932.7,267.9 927.5,271.2 925.8,280.8 924.4,286.4 921.3,290.7 919.2,292.8 918.2,293.9 917.5,297.8 914.4,295.3 912.7,288.2 910.6,289.6 906.8,296.7 902.0,297.1 896.5,298.1 891.7,297.8 889.0,294.6 884.5,300.2 881.7,300.6 881.4,296.4 879.0,292.8 876.2,285.4 877.3,281.5 879.0,276.9 882.8,275.8 882.8,262.4 882.8,260.6 886.2,260.6 886.2,253.5 927.1,253.5 928.2,257.1Z" fill="#67001f"/>
<path d="M913.7,303.8 917.2,308.4 920.6,311.9 923.7,315.1 917.2,316.5 915.4,318.3 909.9,318.7 906.2,319.0 902.0,315.1 897.9,316.2 894.5,313.0 891.0,308.4 887.2,304.5 883.4,302.4 881.7,300.6 884.5,300.2 889.0,294.6 891.7,297.8 896.5,298.1 902.0,297.1 906.8,296.7 910.6,289.6 912.7,288.2 914.4,295.3 917.5,297.8 916.8,301.7Z" fill="#f4a582"/>
<path d="M932.3,280.1 934.7,279.4 938.1,280.1 940.6,281.8 943.3,284.0 946.1,287.1 944.0,287.9 944.0,290.7 946.7,292.5 947.8,292.5 948.8,297.4 951.6,299.5 965.0,303.1 955.0,313.7 950.2,314.4 945.0,316.5 944.3,317.6 940.6,316.2 937.1,319.0 932.6,318.7 927.1,315.5 923.7,315.1 920.6,311.9 917.2,308.4 913.7,303.8 916.8,301.7 917.5,297.8 918.2,293.9 919.2,292.8 921.3,290.7 924.4,286.4 925.8,280.8 930.6,278.7Z" fill="#67001f"/>
<path d="M951.6,294.6 955.0,294.2 961.9,292.1 968.8,291.4 976.3,289.6 976.3,294.6 975.0,297.8 971.5,306.6 967.0,313.7 961.9,320.8 956.0,324.3 949.8,328.2 944.7,333.2 943.1,337.0 941.2,331.4 941.2,321.5 944.3,317.6 945.0,316.5 950.2,314.4 955.0,313.7 965.0,303.1 951.6,299.5 948.8,297.4 947.8,292.5 948.5,291.8 949.2,292.5Z" fill="#d6604d"/>
<path d="M938.1,342.0 936.8,345.9 935.0,348.0 929.9,343.8 929.5,342.0 917.2,334.9 917.2,329.6 920.6,324.7 915.4,318.3 917.2,316.5 923.7,315.1 927.1,315.5 932.6,318.7 937.1,319.0 940.6,316.2 944.3,317.6 941.2,321.5 941.2,331.4 943.1,337.0 943.0,337.4Z" fill="#b2182b"/>
<path d="M915.4,318.3 920.6,324.7 917.2,329.6 917.2,334.9 905.1,334.9 902.0,336.4 903.1,331.4 903.1,328.6 907.9,323.6 906.2,319.0 909.9,318.7Z" fill="#67001f"/>
<path d="M905.1,334.9 906.5,339.9 905.1,341.3 900.0,341.3 902.0,336.4Z" fill="#f4a582"/>
<path d="M906.2,343.8 901.7,347.3 900.6,344.9 900.0,341.3 905.1,341.3Z" fill="#f4a582"/>
<path d="M936.1,359.7 936.8,366.8 939.2,368.6 929.2,372.8 922.3,371.8 918.9,372.1 916.5,365.4 913.4,364.7 905.1,360.4 902.0,352.6 901.7,347.3 906.2,343.8 905.1,341.3 906.5,339.9 905.1,334.9 917.2,334.9 929.5,342.0 929.9,343.8 935.0,348.0 933.7,354.4Z" fill="#b2182b"/>
<path d="M918.9,372.1 919.2,372.5 919.6,374.2 919.2,379.2 921.6,382.0 923.7,384.1 923.4,388.4 921.3,391.9 918.2,388.7 918.9,384.5 914.4,381.0 912.7,379.2 914.8,375.6 914.8,370.0 913.7,365.7 913.4,364.7 916.5,365.4Z" fill="#d6604d"/>
<path d="M940.5,383.2 939.7,385.0 936.1,390.2 927.5,394.4 922.3,399.7 919.9,402.2 921.6,409.3 922.3,415.7 913.7,420.6 912.3,423.4 913.4,426.6 910.3,426.3 910.3,423.1 910.3,418.1 907.9,410.7 912.7,404.0 913.4,396.9 913.4,390.5 904.1,386.6 913.7,381.0 914.4,381.0 918.9,384.5 918.2,388.7 921.3,391.9 923.4,388.4 923.7,384.1 921.6,382.0 919.2,379.2 919.6,374.2 919.2,372.5 922.3,371.8 929.2,372.8 939.2,368.6 939.9,377.1Z" fill="#b2182b"/>
<path d="M913.7,365.7 914.8,370.0 914.8,375.6 912.7,379.2 914.4,381.0 913.7,381.0 904.1,386.6 900.0,388.0 896.5,390.9 892.4,395.1 886.9,394.4 880.4,393.7 875.9,389.8 875.9,377.4 882.8,377.4 882.8,370.3 887.2,371.0 889.6,373.5 893.8,372.5 898.2,376.4 900.0,378.8 902.7,378.8 902.7,374.6 898.6,370.3 898.6,365.0 899.6,361.5 905.1,360.4 913.4,364.7Z" fill="#d6604d"/>
<path d="M913.4,396.9 912.7,404.0 907.9,410.7 901.3,410.0 896.5,407.5 894.1,404.0 889.6,398.7 886.9,394.4 892.4,395.1 896.5,390.9 900.0,388.0 904.1,386.6 913.4,390.5Z" fill="#f4a582"/>
<path d="M901.3,435.1 900.0,438.3 897.2,439.7 894.5,438.7 893.1,436.2 896.5,433.4Z" fill="#d1e5f0"/>
<path d="M910.3,424.7 910.3,426.3 910.6,426.3 907.5,428.0 906.2,424.9 906.8,422.7 909.9,423.1Z" fill="#92c5de"/>
<path d="M872.4,409.3 872.4,395.1 880.4,393.7 886.9,394.4 889.6,398.7 894.1,404.0 896.5,407.5 901.3,410.0 896.5,411.4 893.1,414.9 889.6,418.8 886.2,422.4 879.3,421.0 874.8,426.3 871.8,426.3 869.0,419.2 869.0,409.3Z" fill="#d1e5f0"/>
<path d="M850.1,412.5 846.6,405.7 840.8,392.6 848.0,393.0 863.8,393.0 872.4,395.1 872.4,396.2 872.4,409.3 869.0,409.3 869.0,419.2 869.0,431.9 865.6,433.7 860.1,433.0 857.0,432.6 852.5,427.0Z" fill="#d1e5f0"/>
<path d="M906.8,436.9 903.4,442.2 896.5,447.5 888.3,451.8 879.3,452.1 875.9,452.5 869.0,454.6 864.9,452.8 863.5,452.5 863.5,451.4 862.1,447.5 859.7,439.4 857.0,432.6 860.1,433.0 865.6,433.7 869.0,431.9 869.0,419.2 871.8,426.3 874.8,426.3 879.3,421.0 886.2,422.4 889.6,418.8 893.1,414.9 896.5,411.4 901.3,410.0 907.9,410.7 910.3,418.1 910.3,423.1 910.3,424.7 909.9,423.1 906.8,422.7 906.2,424.9 907.5,428.0 910.6,426.3 910.3,426.3 913.4,426.6 911.7,432.6ZM894.5,438.7 897.2,439.7 900.0,438.3 901.3,435.1 896.5,433.4 893.1,436.2Z" fill="#b2182b"/>
<path d="M846.6,374.9 845.6,362.6 842.5,353.0 845.6,352.3 857.3,352.6 860.7,359.0 862.1,360.1 867.3,359.4 870.0,355.8 871.1,357.2 875.2,357.2 876.6,366.4 876.9,371.0 882.8,370.3 882.8,377.4 875.9,377.4 875.9,389.8 880.4,393.7 872.4,395.1 863.8,393.0 848.0,393.0 840.8,392.6 841.5,387.7 843.2,379.2ZM842.2,351.9 840.8,349.1 841.5,347.0 845.3,347.7 844.6,351.9Z" fill="#b2182b"/>
<path d="M839.1,323.6 839.1,327.9 832.9,327.9 833.9,323.3Z" fill="#d1e5f0"/>
<path d="M832.2,333.5 832.9,327.9 839.1,327.9 839.1,323.6 846.0,323.6 844.9,326.4 849.4,326.8 850.1,333.2 849.4,337.4 846.6,339.9 843.2,338.1 840.1,339.5 840.4,343.1 838.4,345.2 832.9,338.5Z" fill="#d1e5f0"/>
<path d="M840.1,339.5 843.2,338.1 846.6,339.9 849.4,337.4 850.1,333.2 849.4,326.8 844.9,326.4 846.0,323.6 850.1,323.6 855.9,323.6 857.0,319.0 864.2,319.0 862.1,323.3 861.1,331.4 858.0,335.6 855.9,339.5 854.9,345.2 852.5,346.6 849.7,346.6 845.3,347.7 841.5,347.0 840.8,349.1 838.4,345.2 840.4,343.1Z" fill="#fddbc7"/>
<path d="M830.8,315.5 829.4,315.1 833.6,309.1 836.7,306.6 840.8,306.6 844.2,300.2 847.0,293.9 849.0,288.2 849.0,285.7 851.8,288.9 852.1,292.8 853.9,296.0 849.0,297.8 853.5,304.1 853.5,304.8 850.4,310.5 850.8,316.5 855.6,323.6 850.1,323.6 846.0,323.6 839.1,323.6 833.9,323.3 833.6,317.9Z" fill="#d6604d"/>
<path d="M857.3,303.8 864.2,303.1 865.6,299.5 870.7,298.5 874.8,293.9 879.0,292.8 881.4,296.4 881.7,300.6 883.4,302.4 887.2,304.5 891.0,308.4 894.5,313.0 887.9,312.6 884.1,313.3 879.0,314.4 877.3,316.9 870.7,315.8 866.9,313.3 863.8,316.2 864.2,319.0 857.0,319.0 855.6,323.6 850.8,316.5 850.4,310.5 853.5,304.8Z" fill="#fddbc7"/>
<path d="M849.0,288.2 847.0,282.9 851.8,277.2 853.5,271.9 852.5,260.6 854.9,259.2 854.9,250.0 865.6,255.3 882.8,262.4 882.8,275.8 879.0,276.9 877.3,281.5 876.2,285.4 879.0,292.8 874.8,293.9 870.7,298.5 865.6,299.5 864.2,303.1 857.3,303.8 853.5,304.1 849.0,297.8 853.9,296.0 852.1,292.8 851.8,288.9 849.0,285.7Z" fill="#d6604d"/>
<path d="M922.3,371.8 919.2,372.5 918.9,372.1ZM838.4,345.2 840.8,349.1 842.2,351.9ZM849.7,346.6 852.5,346.6 854.9,345.2 855.9,339.5 858.0,335.6 861.1,331.4 862.1,323.3 864.2,319.0 863.8,316.2 866.9,313.3 870.7,315.8 877.3,316.9 879.0,314.4 884.1,313.3 887.9,312.6 894.5,313.0 897.9,316.2 902.0,315.1 906.2,319.0 907.9,323.6 903.1,328.6 903.1,331.4 902.0,336.4 900.0,341.3 900.6,344.9 901.7,347.3 902.0,352.6 905.1,360.4 899.6,361.5 898.6,365.0 898.6,370.3 902.7,374.6 902.7,378.8 900.0,378.8 898.2,376.4 893.8,372.5 889.6,373.5 887.2,371.0 882.8,370.3 876.9,371.0 876.6,366.4 875.2,357.2 871.1,357.2 870.0,355.8 867.3,359.4 862.1,360.1 860.7,359.0 857.3,352.6 845.6,352.3 842.5,353.0 842.2,351.9 844.6,351.9 845.3,347.7ZM943.0,337.4 943.1,337.0 944.7,333.2ZM857.0,319.0 855.9,323.6 855.6,323.6ZM828.3,315.5 829.4,315.1 830.8,315.5ZM853.5,304.8 853.5,304.1 857.3,303.8Z" fill="#67001f"/>
<path d="M973.9,386.3 971.5,391.6 965.3,409.3 962.2,419.5 955.7,422.0 950.5,414.6 949.2,408.6 952.9,402.2 951.6,395.1 952.6,389.8 960.2,387.3 965.0,381.0 968.1,377.4 969.8,373.9Z" fill="#b2182b"/>
</g>
<clipPath id="cp1"><rect x="0" y="665.5" width="1429" height="620"/></clipPath>
<g clip-path="url(#cp1)" stroke="#333" stroke-width="0.75" stroke-linejoin="round">
<path d="M561.1,684.0 568.7,681.3 578.7,679.0 590.4,676.3 615.5,674.6 640.9,672.1 674.3,670.0 708.0,671.4 724.9,672.8 733.1,676.3 758.2,676.7 737.6,682.3 729.7,688.7 733.1,696.9 721.8,704.6 724.9,712.8 720.0,717.7 700.8,720.9 684.6,725.5 668.8,735.4 655.7,745.0 649.5,753.1 643.0,751.4 630.3,743.2 620.3,733.7 615.5,725.5 616.8,719.2 610.7,716.0 608.9,709.6 604.1,701.8 593.1,696.9 572.1,695.1 550.1,688.0Z" fill="#67001f"/>
<path d="M724.5,730.8 738.3,731.6 748.6,730.5 753.4,735.4 750.3,737.9 738.3,741.5 731.4,740.8 722.1,740.0 724.5,737.6 717.6,736.2 715.9,734.0Z" fill="#d6604d"/>
<path d="M788.2,785.0 789.9,783.9 786.4,783.2 782.3,782.5 785.8,780.0 784.4,777.2 789.9,776.5 789.2,774.0 787.8,771.6 783.0,772.3 783.3,771.2 782.0,768.4 780.6,765.9 781.3,762.3 783.0,758.5 789.5,758.5 788.2,761.6 794.0,762.0 793.3,763.8 791.6,765.9 789.9,767.7 793.3,768.4 795.0,771.2 798.5,773.0 800.5,776.2 801.2,778.3 806.0,779.3 805.7,781.8 803.3,783.6 805.0,784.7 800.9,786.1 795.0,786.4 789.9,786.4 785.8,787.5 780.6,788.5 784.7,785.4ZM779.9,772.6 781.3,773.7 780.6,774.1 779.2,774.7 776.8,774.4 774.1,774.4 772.0,773.0 772.7,772.3 775.1,771.2 775.1,769.8 778.9,770.5Z" fill="#b2182b"/>
<path d="M377.1,794.9 377.0,794.9 377.0,794.8ZM369.5,788.5 374.3,791.7 375.7,794.6 368.5,792.8 363.3,788.9 358.5,786.1 362.6,785.7ZM375.4,720.2 387.4,720.2 397.7,722.0 404.6,725.9 414.9,725.9 421.8,725.2 428.7,724.5 433.8,724.1 442.4,725.2 452.8,725.9 461.4,725.9 464.7,724.3 463.1,724.5 457.9,722.3 456.2,719.9 470.0,719.9 471.4,722.9 475.1,719.9 476.8,711.7 482.0,714.6 487.2,718.1 494.0,720.9 497.5,724.1 502.6,725.2 506.1,718.8 516.4,719.5 519.8,724.1 516.4,728.7 506.1,730.5 502.6,730.5 497.5,738.6 488.9,741.1 478.6,747.1 474.4,757.0 482.0,764.1 495.8,765.9 507.8,770.5 517.1,770.8 517.4,778.3 521.6,784.3 527.4,783.6 529.5,780.0 528.4,773.0 535.3,769.4 533.6,760.6 530.2,755.3 533.6,751.7 531.9,745.4 545.6,745.7 554.2,749.3 559.4,755.3 564.6,758.8 573.2,757.7 578.3,752.4 581.8,758.8 587.6,765.9 593.8,771.2 602.4,774.7 608.2,780.0 605.8,783.6 599.0,784.7 593.8,788.2 580.0,788.2 571.4,788.9 564.6,791.7 557.7,799.5 562.8,796.7 573.2,792.1 579.4,793.1 576.6,796.7 577.3,799.5 580.0,802.4 586.9,804.1 593.8,802.4 592.1,804.8 581.8,808.0 574.9,811.9 573.2,808.4 578.3,805.5 573.2,805.9 570.0,807.2 569.7,806.6 567.0,804.5 567.0,799.2 565.6,798.5 562.2,798.1 559.4,801.3 557.0,804.8 554.2,806.6 543.2,806.6 537.7,809.4 527.8,811.9 528.3,812.8 514.3,817.2 516.4,815.1 516.7,813.7 517.4,808.4 513.0,803.8 510.2,801.3 507.8,799.5 497.5,795.3 492.0,796.0 487.8,795.3 482.0,794.6 477.5,794.2 474.4,793.1 472.7,792.4 376.7,792.4 371.9,789.6 366.8,786.1 361.6,783.6 358.2,780.0 353.0,774.7 351.3,772.3 351.1,772.1 353.0,770.1 353.0,768.0 346.8,765.9 341.0,758.8 335.8,754.2 330.6,755.3 327.2,756.3 322.0,753.5 315.2,752.4 315.2,719.3 325.5,720.9 332.4,722.0 337.5,719.9 346.1,719.5 356.4,718.1 366.8,719.9 371.9,717.7ZM470.0,724.1 470.7,723.5 468.5,723.8ZM410.4,723.4 397.7,718.5 393.6,714.9 392.0,711.1 385.3,712.4 376.7,713.5 367.4,710.3 372.6,702.2 387.7,701.8 400.5,705.0 399.0,707.6 401.8,706.4 418.7,708.2 429.0,706.4 439.7,705.7 440.7,711.4 452.4,718.5 448.3,722.3 431.4,722.3ZM464.8,712.8 454.5,711.7 449.3,709.2 447.3,705.7 459.6,704.3 467.2,707.5ZM479.2,697.9 478.6,701.1 470.0,701.1 470.0,697.2ZM423.9,694.0 436.6,697.2 418.7,700.8 407.0,701.5 396.0,699.0 377.8,696.2 401.8,691.5ZM452.8,694.4 466.5,692.6 467.2,698.6 456.2,699.3 451.0,696.9ZM411.5,691.5 405.6,689.1 410.9,688.4 410.4,688.0 418.4,686.2 420.2,687.2 421.8,686.9 422.7,688.5 422.7,688.5 423.9,689.1 423.2,689.3 423.9,690.5 416.5,691.1 414.9,691.5 414.6,691.3ZM459.6,684.5 460.7,688.7 445.9,690.1 437.3,685.5ZM533.6,939.4 533.1,938.9 533.9,937.7ZM534.1,936.8 534.2,935.4 534.3,935.5ZM499.2,920.2 499.1,920.2 499.9,919.9 499.4,920.5ZM496.2,909.7 496.9,909.9 496.8,910.3 494.4,909.6ZM607.6,797.8 596.2,797.4 597.2,794.2 604.1,785.4 609.3,783.2 609.3,789.6 616.2,792.4 618.9,797.4 617.9,800.9 609.3,799.9ZM502.6,737.6 504.4,734.0 513.0,732.3 521.6,735.8 525.0,739.3 521.6,741.1 511.2,740.0ZM549.1,727.0 538.8,723.4 531.9,718.1 525.0,716.3 507.8,718.1 494.0,712.8 511.2,705.7 525.0,705.0 537.0,705.7 535.1,707.3 538.8,708.2 547.4,712.8 556.0,716.3 564.6,717.4 569.7,720.9 571.4,725.2 583.5,728.7 588.6,730.5 585.2,735.8 576.6,744.6 571.4,746.8 556.0,743.6 550.8,741.1 545.6,737.6 533.6,737.6 530.2,734.0 545.6,734.0 547.4,730.5ZM470.0,704.3 488.9,703.2 488.9,709.2 478.6,711.0 471.7,708.9ZM525.0,702.2 483.7,702.2 480.3,696.9 507.8,695.1 525.0,696.9ZM590.4,674.9 573.2,680.9 559.4,684.5 540.5,688.0 530.2,694.0 525.0,696.2 490.6,693.3 497.5,688.0 495.8,687.2 487.2,688.7 473.4,686.2 466.5,680.9 483.7,678.1 486.7,678.5 507.8,673.8 542.2,672.1 580.0,672.8Z" fill="#b2182b"/>
<path d="M514.0,884.1 524.7,885.2 531.5,887.0 538.4,891.2 545.0,894.4 533.6,895.5 532.9,893.3 529.5,891.2 520.9,887.7 515.4,887.0 508.1,888.4Z" fill="#f7f7f7"/>
<path d="M533.6,900.4 537.7,901.5 537.0,902.5 534.6,903.2 531.2,901.5 530.7,900.8Z" fill="#f7f7f7"/>
<path d="M574.5,901.1 573.8,902.2 569.0,902.2 569.0,900.4Z" fill="#4393c3"/>
<path d="M550.1,898.6 547.7,895.8 552.5,895.5 553.6,895.4 553.6,902.6 551.8,901.5 547.4,901.8 544.3,900.8 549.1,900.4Z" fill="#d1e5f0"/>
<path d="M556.0,895.3 561.5,897.6 564.9,900.1 560.1,901.5 554.6,903.2 551.8,901.5 553.6,902.6 553.6,895.4Z" fill="#d1e5f0"/>
<path d="M1252.6,854.4 1249.8,856.2 1248.1,855.1 1246.7,850.1 1246.7,848.0 1250.5,845.9 1253.2,848.0ZM1263.6,846.2 1257.7,850.1 1256.0,849.1 1257.0,845.5 1262.9,844.8ZM1257.7,840.2 1266.0,839.9 1268.7,838.5 1271.5,833.1 1272.5,835.6 1279.4,830.7 1281.1,826.1 1281.8,822.5 1282.8,820.1 1286.6,819.3 1287.0,822.5 1288.3,826.1 1287.0,830.3 1285.2,832.1 1283.9,836.7 1284.6,839.5 1282.5,842.0 1277.7,843.1 1275.6,843.4 1271.5,843.1 1271.1,844.5 1267.4,847.3 1264.9,844.5 1265.3,843.1 1259.4,843.8 1254.3,844.5 1250.5,845.5 1250.5,844.5 1252.6,843.1ZM1287.3,810.1 1288.7,804.8 1299.0,809.8 1300.7,812.6 1293.2,817.2 1285.9,817.9 1281.8,819.0 1281.5,816.2 1283.2,812.6Z" fill="#4393c3"/>
<path d="M973.6,822.9 973.2,823.1 973.3,822.7ZM1044.4,816.2 1044.1,816.5 1037.6,819.3ZM981.1,817.9 975.6,813.0 975.3,812.3 982.5,817.2ZM915.4,808.4 913.4,806.5 913.7,806.6 917.2,808.4ZM903.3,804.5 902.7,805.4 902.6,805.1ZM873.1,770.5 878.3,771.6 878.6,773.3 867.6,773.3 870.7,771.6 871.7,770.3ZM212.0,729.4 216.1,732.3 212.0,734.0 205.1,738.3 196.5,737.2 187.9,734.0 181.0,735.8 181.0,722.0 191.3,721.6 201.6,728.7ZM186.2,714.9 181.0,714.9 181.0,712.8 189.6,713.9ZM979.1,709.2 984.2,705.7 992.8,700.4 1006.6,695.1 1030.7,692.6 1035.8,693.7 1010.0,699.3 998.0,704.6 991.1,711.0 996.3,716.0 984.2,715.3 977.4,712.8ZM992.8,681.6 979.1,682.7 961.9,681.6 979.1,679.9ZM1023.8,679.9 1013.5,681.6 996.3,680.6 1006.6,678.5ZM1076.1,815.5 1076.0,815.5 1075.4,806.6 1084.0,804.8ZM1311.0,804.8 1312.1,805.2 1307.6,808.4 1302.4,810.8 1304.2,808.0ZM1313.8,802.4 1319.0,799.5 1319.6,800.2 1314.5,803.1ZM1327.2,794.2 1328.2,794.9 1323.1,798.8 1322.4,798.1ZM1336.2,786.4 1336.8,787.1 1331.7,791.7 1331.0,791.0ZM1288.0,776.5 1290.7,773.7 1292.8,776.5 1292.1,783.6 1298.0,792.8 1293.2,791.4 1293.8,801.3 1288.7,803.1 1288.0,796.0 1289.4,785.4ZM1396.4,779.7 1393.3,779.3 1393.6,778.3 1397.0,778.6ZM905.1,738.3 902.4,736.5 903.7,733.3 900.3,729.1 903.4,726.2 898.2,723.4 899.6,721.5 906.2,718.8 913.7,720.2 924.0,721.6 934.4,725.2 941.2,728.0 936.1,731.9 918.9,730.5 912.0,728.4 919.9,737.6 927.5,739.7 936.1,737.6 939.5,737.6 943.0,731.6 950.9,731.2 951.6,723.4 958.4,724.5 965.3,726.2 982.5,725.2 986.0,723.4 999.7,722.7 1006.6,721.6 1009.4,718.8 1020.4,720.2 1027.2,720.9 1030.7,723.4 1035.8,724.5 1034.1,719.9 1029.6,715.3 1031.4,712.8 1037.6,708.2 1041.0,705.7 1046.2,707.8 1049.6,711.0 1050.6,715.3 1053.0,723.4 1049.6,730.5 1054.8,728.7 1058.2,727.0 1053.0,721.6 1056.5,714.6 1063.4,711.0 1070.2,709.6 1077.1,705.7 1082.3,705.4 1096.0,704.6 1099.5,700.4 1109.8,698.3 1123.6,696.9 1137.3,695.8 1144.2,695.1 1159.0,690.8 1164.8,692.3 1170.0,695.1 1182.0,694.4 1190.6,697.6 1188.9,698.6 1190.6,705.0 1206.1,705.7 1223.3,707.5 1237.1,705.7 1244.0,709.2 1250.8,714.6 1257.7,712.8 1268.0,712.8 1278.4,711.0 1285.2,708.2 1302.4,710.0 1316.2,712.8 1323.1,714.9 1333.4,714.6 1350.6,716.3 1357.5,719.2 1374.7,719.2 1385.0,717.7 1395.3,718.8 1405.6,718.8 1414.2,720.6 1419.4,722.0 1419.4,735.8 1414.2,737.6 1409.1,744.6 1397.0,747.1 1386.7,753.5 1371.2,752.4 1362.6,754.2 1360.9,760.6 1357.5,762.3 1361.6,767.7 1357.5,773.0 1350.6,777.6 1345.4,780.0 1339.2,785.4 1336.8,780.0 1335.5,771.2 1338.6,762.3 1345.4,760.6 1350.6,752.4 1355.8,750.7 1347.2,747.5 1336.8,748.2 1330.0,755.3 1317.9,755.3 1305.9,756.0 1292.1,756.0 1283.5,762.3 1274.9,767.7 1271.5,774.7 1283.5,776.5 1286.6,780.0 1283.5,787.1 1282.5,794.2 1276.6,799.5 1266.3,810.1 1257.7,814.4 1253.6,813.3 1249.8,816.2 1248.8,814.7 1251.5,813.7 1250.8,807.0 1259.4,804.8 1263.9,794.9 1256.0,797.0 1249.1,792.8 1238.8,788.9 1233.6,779.0 1225.0,776.5 1215.8,779.7 1211.3,787.8 1205.4,790.7 1201.3,789.3 1194.1,788.2 1180.3,791.7 1171.7,790.7 1166.6,787.8 1154.5,787.8 1151.8,784.3 1144.2,782.9 1138.0,783.6 1136.6,787.5 1128.7,789.3 1123.6,788.2 1115.0,787.1 1108.1,789.6 1102.2,791.7 1100.5,792.1 1098.8,789.6 1092.6,788.9 1087.4,785.4 1082.3,786.1 1075.4,785.4 1068.2,777.2 1063.4,774.7 1052.7,776.5 1043.8,770.8 1037.6,769.8 1023.8,772.6 1011.8,774.7 1010.0,778.3 1006.6,781.8 1010.0,781.8 1011.4,786.1 1003.2,786.8 996.3,785.0 989.4,786.1 980.1,782.5 973.9,783.6 967.7,786.8 963.6,787.5 960.5,792.4 960.5,794.2 963.6,804.1 968.8,801.3 963.9,804.5 961.9,807.3 963.6,810.1 963.6,813.7 967.0,817.2 967.5,818.0 967.4,817.9 964.6,820.1 960.2,817.6 957.4,817.2 955.0,815.1 950.9,815.1 946.4,813.3 943.0,813.0 937.8,812.3 937.4,812.6 936.8,811.9 930.9,808.7 929.2,807.3 926.4,805.9 926.8,805.5 928.5,803.3 930.9,801.3 935.4,798.8 931.9,799.0 936.8,796.7 937.8,792.4 935.0,789.3 930.9,788.9 922.3,787.1 921.6,785.0 918.2,782.9 917.2,780.8 914.4,780.4 909.6,781.5 907.9,777.9 912.7,777.2 909.6,774.7 906.2,769.1 897.2,767.3 895.8,763.1 894.5,762.0 895.8,760.6 894.5,757.7 896.5,755.3 901.7,753.9 896.5,751.7 895.7,751.8 895.8,751.7 900.0,749.3 907.9,745.0 908.9,743.2 903.4,740.0ZM1419.4,712.8 1419.4,714.9 1414.2,715.3 1414.2,712.8ZM1285.2,696.9 1302.4,699.3 1288.7,704.6 1281.8,703.9 1268.0,702.2 1271.5,697.6ZM1127.0,678.5 1140.8,680.9 1144.2,685.2 1130.4,686.2 1113.2,684.5 1113.2,680.9Z" fill="#4393c3"/>
<path d="M828.0,760.1 827.3,760.2 822.6,759.9 819.5,757.4 817.4,752.1 816.4,747.1 817.1,745.7 822.6,742.9 829.8,739.3 835.3,736.5 839.4,733.3 843.5,730.5 846.6,727.0 850.1,724.5 850.7,724.1 846.6,725.2 850.1,723.4 854.0,722.3 854.1,722.3 854.2,722.2 851.8,722.7 855.2,720.6 856.2,721.1 860.4,718.8 866.6,717.0 874.2,716.7 879.3,714.9 882.8,714.6 877.6,716.0 881.0,715.3 888.6,714.2 896.5,714.6 900.0,716.3 906.8,717.0 906.2,718.8 899.6,721.5 901.0,719.9 897.9,718.8 896.2,717.8 890.7,718.5 889.0,721.6 885.9,723.1 881.7,722.7 877.3,722.7 873.5,720.6 870.9,721.4 862.1,723.4 857.0,727.0 853.5,731.2 850.1,734.0 848.0,737.6 841.8,740.8 841.8,744.3 844.6,747.5 842.2,750.0 843.2,751.7 840.8,754.2 838.7,757.4 836.3,756.3 837.0,753.9 834.6,757.0ZM858.7,695.1 851.8,693.3 838.0,688.0 838.0,683.8 851.8,682.7 869.0,680.9 893.1,682.7 875.9,688.0 865.6,689.8Z" fill="#d6604d"/>
<path d="M1219.9,877.4 1218.2,882.7 1215.8,888.0 1213.3,884.5 1214.7,879.2 1216.4,876.3Z" fill="#2166ac"/>
<path d="M1179.6,900.8 1176.9,901.5 1174.1,900.4 1173.8,897.9 1180.3,894.7 1182.0,896.5ZM1205.1,827.8 1207.8,831.4 1209.6,834.2 1215.4,832.1 1221.6,833.5 1214.0,838.5 1211.3,842.0 1214.7,847.3 1216.4,852.6 1219.5,856.2 1218.2,859.0 1219.9,860.4 1218.2,865.0 1214.7,870.3 1211.3,873.9 1207.8,878.8 1202.7,882.7 1194.1,886.2 1190.6,887.3 1183.8,889.8 1180.3,891.6 1178.6,894.0 1177.9,890.1 1173.4,889.4 1171.9,890.1 1171.7,889.8 1167.2,885.2 1163.1,883.8 1158.0,885.2 1154.5,886.2 1151.8,886.6 1150.0,890.9 1148.2,891.0 1144.5,889.8 1140.8,887.7 1142.5,884.5 1140.1,880.6 1136.3,881.3 1135.9,877.4 1139.7,872.1 1139.7,868.5 1134.9,866.1 1131.1,865.4 1128.7,863.2 1123.6,864.3 1116.7,867.5 1115.3,867.1 1109.8,865.7 1108.7,866.1 1108.1,866.1 1106.0,867.1 1103.3,867.1 1096.0,866.8 1089.8,864.3 1084.0,860.1 1078.8,859.0 1072.0,854.7 1070.6,850.5 1073.7,849.1 1071.3,844.1 1068.5,840.2 1067.8,840.2 1064.7,839.9 1059.9,835.6 1056.9,834.7 1057.9,834.2 1057.9,833.7 1058.2,833.5 1057.9,831.6 1057.9,829.6 1054.1,827.8 1053.9,827.3 1054.1,826.1 1053.4,826.1 1057.9,822.5 1061.6,823.2 1064.4,821.1 1072.0,819.7 1076.1,816.5 1076.0,815.5 1076.1,815.5 1084.0,804.8 1085.7,798.8 1094.3,799.2 1100.5,792.1 1102.2,791.7 1102.9,794.2 1110.1,796.3 1113.2,801.3 1112.6,805.5 1121.8,807.0 1128.0,809.1 1131.5,814.7 1147.6,815.1 1161.4,818.6 1168.3,816.2 1178.6,815.1 1184.8,811.2 1188.9,807.3 1199.2,804.5 1209.6,800.9 1211.3,798.8 1205.4,797.0 1197.5,795.6 1201.3,789.3 1205.4,790.7 1211.3,787.8 1215.8,779.7 1225.0,776.5 1233.6,779.0 1238.8,788.9 1249.1,792.8 1256.0,797.0 1263.9,794.9 1259.4,804.8 1250.8,807.0 1251.5,813.7 1248.8,814.7 1249.8,816.2 1246.4,815.8 1240.5,817.2 1236.4,818.3 1230.2,822.9 1227.8,824.7 1219.9,822.5 1217.1,828.5 1216.4,821.5 1211.3,825.0ZM1231.9,832.4 1229.2,831.4 1230.8,832.0 1232.1,832.2 1232.2,832.4ZM1230.1,828.6 1229.2,831.4 1230.1,828.6Z" fill="#2166ac"/>
<path d="M1078.5,934.0 1081.9,940.4 1078.8,944.7 1075.7,944.3 1074.7,939.4 1075.1,931.2Z" fill="#f4a582"/>
<path d="M1235.4,939.4 1231.9,945.7 1226.8,943.6 1222.2,939.8 1225.0,938.3 1226.8,936.9 1231.9,931.6ZM1203.4,936.5 1211.6,925.9 1210.6,928.7 1205.4,935.5ZM1228.1,931.9 1226.1,931.6 1226.0,931.2 1225.7,932.3 1224.6,930.8 1224.0,933.7 1221.6,930.9 1221.6,928.7 1219.5,927.7 1219.5,923.8 1223.7,926.3 1222.5,927.7 1223.4,928.1 1224.4,928.4 1224.4,925.9 1227.1,927.0 1226.4,929.9 1228.3,930.1 1228.4,930.1 1227.8,925.2 1227.8,924.8 1227.8,921.6 1232.6,922.7 1231.0,929.5 1231.0,929.5 1230.9,930.5 1228.8,930.5 1228.8,930.4 1228.8,930.4 1228.7,930.4 1228.7,930.4ZM1218.2,918.8 1217.5,922.4 1214.7,921.6 1214.0,918.1ZM1225.0,916.3 1227.4,921.3 1223.3,919.9 1219.2,916.7 1215.1,915.6 1213.0,913.5 1212.3,908.6 1214.4,907.5 1215.1,900.4 1220.6,900.4 1220.9,905.7 1218.5,910.0 1219.9,916.3Z" fill="#d1e5f0"/>
<path d="M1157.6,957.0 1158.6,960.9 1156.2,961.3 1152.8,958.8 1148.7,955.3 1145.6,950.0 1144.9,946.4 1145.2,943.2 1147.6,945.4 1151.4,944.0 1151.8,944.0 1155.9,948.9 1155.9,953.5ZM1188.9,954.6 1192.4,950.3 1195.8,948.2 1199.6,944.7 1202.0,941.1 1205.1,943.2 1206.5,945.4 1210.6,947.5 1207.2,949.6 1206.0,950.8 1205.1,951.0 1199.2,950.7 1197.9,951.0 1195.8,955.3 1194.1,960.6 1187.2,960.6 1184.8,962.4 1180.3,962.4 1177.2,958.8 1177.0,958.7 1177.2,958.5 1179.6,959.9 1183.1,956.7Z" fill="#f4a582"/>
<path d="M1192.9,950.0 1194.1,949.2 1192.9,950.0Z" fill="#f4a582"/>
<path d="M1213.0,1002.4 1209.6,1000.9 1209.6,999.5 1215.8,1001.7ZM1198.6,995.3 1201.6,995.3 1201.0,997.4 1198.9,997.1ZM1209.9,994.9 1209.6,997.1 1202.7,997.8 1202.0,996.0ZM1212.7,997.1 1212.3,996.0 1223.3,995.3 1222.6,997.1ZM1164.8,986.8 1173.4,988.2 1180.0,990.3 1183.8,989.3 1187.9,990.3 1193.7,993.2 1193.9,994.6 1198.2,995.3 1196.5,997.1 1194.1,996.0 1194.0,995.5 1194.1,996.7 1187.2,995.6 1178.6,994.6 1166.6,992.1 1162.1,990.0ZM1139.7,959.9 1133.9,954.6 1128.7,948.2 1128.0,946.1 1135.6,947.5 1139.7,952.8 1145.9,958.8 1149.4,959.9 1156.2,964.1 1159.7,972.3 1164.2,974.8 1164.5,986.4 1159.7,986.8 1152.1,980.1 1147.6,974.8 1142.5,967.7ZM1184.4,978.3 1179.3,976.2 1178.6,972.3 1176.2,967.7 1174.8,963.1 1175.2,960.6 1177.0,958.7 1177.2,958.8 1180.3,962.4 1184.8,962.4 1187.2,960.6 1194.1,960.6 1195.8,955.3 1197.9,951.0 1199.2,950.7 1205.1,951.0 1206.0,950.8 1205.8,951.0 1204.7,954.2 1206.1,958.1 1209.2,962.4 1205.4,964.1 1203.4,967.7 1202.0,970.5 1201.0,974.8 1199.9,980.1 1194.4,979.4 1188.9,977.2ZM1230.2,999.5 1238.1,995.6 1230.8,999.2 1231.7,999.4 1226.8,1002.4ZM1273.9,984.3 1264.6,981.1 1257.7,980.1 1254.3,975.8 1259.4,973.7 1250.8,970.1 1256.0,967.3 1261.8,969.1 1264.6,977.6 1273.2,971.2 1283.5,974.8 1285.2,975.1 1285.2,998.1 1278.4,994.2 1274.9,995.6ZM1237.8,977.2 1237.1,979.7 1234.0,979.4 1233.6,976.9ZM1241.2,978.6 1240.5,976.5 1250.8,977.2 1249.1,979.4ZM1218.5,982.5 1216.8,975.5 1214.4,976.5 1214.4,985.7 1211.6,985.7 1210.9,984.0 1210.9,978.3 1209.2,975.5 1210.9,971.2 1212.3,968.4 1213.7,962.7 1216.4,961.3 1221.6,962.4 1226.8,962.7 1230.9,960.2 1228.5,964.1 1223.3,964.1 1218.2,964.1 1213.3,964.8 1214.7,969.4 1219.9,968.4 1224.7,969.1 1220.6,969.4 1218.2,972.6 1219.9,977.2 1223.7,980.8 1220.9,985.0ZM1242.2,958.8 1240.5,963.1 1242.9,964.8 1240.2,967.7 1238.5,964.1 1238.8,960.6Z" fill="#92c5de"/>
<path d="M1301.8,984.7 1307.6,988.9 1309.3,994.2 1316.2,1002.4 1307.6,1001.3 1302.4,994.2 1295.6,993.2 1293.8,997.8 1285.2,998.1 1285.2,975.1 1295.6,979.4ZM1323.7,980.8 1321.4,978.6 1318.3,976.2 1318.6,975.1 1323.1,977.2 1327.2,982.2 1325.8,982.9 1324.0,981.2 1323.1,985.0 1317.9,987.8 1311.0,987.5 1310.4,985.4 1316.2,984.3 1321.4,981.1Z" fill="#2166ac"/>
<path d="M1238.1,995.6 1231.7,999.4 1230.8,999.2Z" fill="#92c5de"/>
<path d="M1309.3,1116.3 1305.9,1120.2 1302.4,1119.9 1299.7,1115.3 1298.0,1110.0 1310.4,1110.7ZM1201.0,1038.8 1207.8,1037.8 1216.4,1034.9 1220.6,1029.6 1225.0,1024.3 1230.2,1019.0 1235.4,1015.5 1241.2,1018.6 1245.7,1018.6 1248.4,1010.5 1250.8,1008.7 1256.3,1006.6 1261.2,1008.4 1269.8,1008.4 1268.0,1013.7 1266.3,1019.0 1273.2,1023.2 1280.1,1027.8 1284.6,1027.5 1287.0,1020.8 1287.3,1010.1 1290.4,1003.8 1293.8,1010.1 1294.9,1016.9 1300.0,1019.0 1301.8,1026.1 1303.5,1033.2 1312.1,1037.8 1317.9,1045.5 1320.7,1050.5 1326.9,1054.4 1327.2,1063.2 1328.6,1067.1 1326.5,1075.6 1324.8,1081.0 1320.3,1085.9 1316.9,1092.6 1316.2,1098.7 1309.3,1099.7 1303.8,1104.3 1298.7,1100.1 1295.6,1102.2 1285.2,1100.8 1281.8,1099.0 1279.0,1092.3 1275.3,1091.9 1276.6,1089.1 1274.2,1081.3 1267.7,1089.1 1264.6,1084.5 1261.2,1082.0 1254.3,1079.2 1244.0,1078.1 1233.6,1080.2 1226.8,1082.7 1225.0,1085.9 1218.2,1085.6 1211.3,1087.0 1206.1,1089.8 1201.0,1089.8 1195.8,1087.3 1197.9,1084.1 1198.2,1079.2 1195.8,1072.1 1194.4,1066.8 1190.6,1059.7 1191.7,1052.6 1190.3,1047.3 1191.3,1043.8 1193.0,1043.1Z" fill="#b2182b"/>
<path d="M1397.0,1118.1 1394.6,1121.0 1389.1,1123.4 1386.7,1128.4 1379.8,1130.9 1373.0,1128.7 1378.1,1122.7 1385.0,1118.1 1390.2,1113.9 1391.9,1109.3 1394.6,1109.3 1399.8,1112.1ZM1403.9,1096.9 1414.2,1099.4 1409.1,1105.0 1405.6,1111.0 1401.5,1112.1 1402.2,1107.5 1398.1,1104.7 1400.8,1098.7 1395.3,1091.6 1394.3,1087.7 1400.5,1093.3Z" fill="#d6604d"/>
<path d="M843.2,832.8 842.9,831.0 853.9,830.3 852.1,836.0 849.0,834.6ZM829.1,827.5 829.4,822.5 829.1,820.8 833.2,820.8 833.6,827.1 831.2,827.8ZM855.2,817.6 859.4,820.8 863.8,823.9 859.4,822.9 857.0,826.8 859.0,827.8 855.2,831.7 853.9,830.3 855.2,826.1 854.2,824.3 851.1,822.2 848.4,821.5 843.2,819.0 838.0,815.8 836.3,813.7 835.3,810.5 830.8,808.7 827.7,810.5 826.0,810.8 823.9,808.7 824.3,806.6 823.6,803.8 824.3,803.4 827.4,803.4 829.1,802.0 831.2,803.8 832.9,802.0 835.3,802.4 836.3,800.9 836.3,800.1 842.2,799.5 842.9,800.6 847.3,801.3 847.0,804.5 842.5,805.2 842.9,809.4 847.0,811.9 849.0,815.5ZM824.3,812.1 824.4,812.0 824.3,812.1Z" fill="#b2182b"/>
<path d="M831.8,819.3 829.8,817.6 830.1,815.5 832.5,813.7 833.2,816.2ZM792.3,798.8 784.7,796.7 783.7,794.6 789.9,793.1 794.7,793.9 793.7,790.0 796.1,791.0 800.5,790.7 805.4,788.5 805.7,785.7 808.8,785.0 809.1,786.1 811.2,786.4 814.6,789.1 816.7,788.5 820.2,790.7 822.2,790.7 823.2,791.7 825.7,791.7 828.4,792.8 826.3,794.9 826.3,797.4 824.3,797.8 823.6,798.8 821.2,800.9 821.2,802.4 823.6,803.4 824.3,803.4 823.6,803.8 824.3,806.6 823.9,808.7 826.0,810.8 824.4,812.0 822.0,813.2 818.8,812.6 815.7,812.3 811.2,813.0 810.9,815.8 806.0,815.5 805.0,815.1 802.6,814.4 797.8,814.0 795.4,813.0 794.0,812.3 795.7,808.4 796.1,803.1Z" fill="#67001f"/>
<path d="M881.0,839.9 890.7,841.3 882.8,842.0 881.0,840.9ZM897.2,837.4 896.2,838.1 895.8,836.7ZM888.3,834.6 887.6,835.3 886.9,834.2ZM893.4,832.4 892.7,832.8 892.4,832.1ZM884.8,831.4 883.4,831.4 880.7,829.6 879.4,829.1 882.8,831.4 879.3,833.1 880.0,836.7 877.6,837.0 874.8,835.6 873.5,832.8 875.2,830.3 872.8,828.2 869.7,825.7 869.2,825.2 871.4,823.9 872.4,822.2 871.1,820.4 872.4,821.1 878.3,820.1 879.3,818.6 882.8,819.0 886.9,819.7 890.7,818.3 889.6,821.5 886.2,821.1 882.1,821.8 879.0,822.2 877.9,824.3 880.4,826.8 878.9,828.3 882.8,829.3ZM878.6,828.5 878.9,828.7 878.7,828.4ZM886.2,829.3 884.8,830.3 883.8,828.5ZM890.7,827.8 889.6,826.4 891.7,826.8ZM891.4,824.3 891.3,825.3 890.3,824.3 891.0,823.6Z" fill="#67001f"/>
<path d="M913.7,840.6 919.2,839.5 917.2,842.0 913.7,843.4 911.3,841.6Z" fill="#67001f"/>
<path d="M834.6,770.8 834.6,769.4 837.4,769.8 836.7,771.2ZM838.0,768.7 840.8,767.7 843.5,767.7 843.5,769.1 841.8,771.2 838.7,770.5ZM829.8,763.8 836.7,761.6 836.0,765.9 837.7,766.6 834.6,768.7 833.2,771.2 833.8,771.9 832.5,771.9 830.0,771.8 829.8,770.8 828.1,769.4 828.4,765.2Z" fill="#b2182b"/>
<path d="M256.7,890.9 255.6,889.4 257.7,890.5ZM250.5,887.3 252.2,887.3 251.9,888.4 250.5,888.4ZM181.0,783.6 181.0,782.5 186.2,782.2 185.1,783.2ZM190.6,782.9 191.3,782.2 196.5,781.8 195.4,782.9ZM206.8,780.8 215.4,779.3 214.7,780.0 207.5,781.8ZM222.3,778.3 228.5,775.1 229.2,776.5 223.0,778.6ZM263.2,896.5 263.9,894.7 267.0,896.2 264.9,899.0ZM261.2,891.6 263.6,892.3 262.2,893.0ZM259.1,891.6 259.1,890.9 261.2,890.9 260.8,891.6ZM559.4,818.3 554.2,819.3 546.3,822.2 545.6,826.1 542.2,828.2 540.5,829.6 539.4,834.9 538.8,836.7 540.5,841.3 537.0,843.1 531.9,845.9 527.8,848.4 521.6,852.6 520.2,857.9 522.9,865.0 525.0,872.1 523.6,876.7 520.9,876.3 518.8,872.1 515.7,866.8 514.7,862.5 510.2,859.7 506.1,860.8 502.6,858.3 497.5,858.3 492.3,859.0 493.4,862.9 487.2,862.2 477.5,860.8 473.4,862.2 468.2,865.7 465.5,870.3 465.8,874.2 459.3,872.4 457.9,868.5 455.2,866.1 451.4,860.4 447.9,860.4 445.5,863.2 440.7,861.1 439.0,857.2 433.8,853.3 428.0,853.3 428.0,855.1 418.0,855.1 405.6,850.1 397.4,850.9 395.3,847.3 392.6,845.5 385.3,843.8 384.0,840.2 380.5,835.6 378.8,832.1 374.7,827.8 372.3,822.9 373.0,817.2 371.9,813.7 373.6,802.4 371.2,794.6 377.1,795.3 377.0,794.9 377.1,794.9 377.0,794.8 376.7,792.4 472.7,792.4 474.4,793.1 477.5,794.2 482.0,794.6 487.8,795.3 492.0,796.0 497.5,795.3 507.8,799.5 510.2,801.3 513.0,803.8 517.4,808.4 516.7,813.7 516.4,815.1 514.3,817.2 528.3,812.8 527.8,811.9 537.7,809.4 543.2,806.6 554.2,806.6 557.0,804.8 559.4,801.3 562.2,798.1 565.6,798.5 567.0,799.2 567.0,804.5 569.7,806.6 570.0,807.2 569.7,807.3 563.5,809.4 558.7,811.6 557.0,815.1ZM276.6,760.9 272.8,763.1 268.4,764.5 268.7,762.0 273.9,759.9ZM260.8,713.5 270.4,714.9 277.3,715.3 291.1,717.0 304.8,717.7 315.2,719.3 315.2,752.4 322.0,753.5 327.2,756.3 330.6,755.3 335.8,754.2 341.0,758.8 346.8,765.9 353.0,768.0 353.0,770.1 351.1,772.1 346.1,767.7 339.2,760.6 330.6,758.8 327.2,757.0 319.6,755.3 313.4,753.5 304.8,753.1 296.2,750.7 291.1,752.4 284.2,756.3 278.0,755.6 279.0,751.7 284.2,749.3 275.6,751.7 272.2,755.3 268.7,759.5 261.8,764.1 255.0,767.7 246.4,770.1 237.8,771.9 242.9,768.4 249.8,765.9 256.7,762.3 260.1,758.1 251.5,757.4 243.6,758.1 241.9,754.2 236.0,753.5 231.6,751.7 232.6,748.2 229.8,744.6 234.3,742.9 246.4,741.1 246.4,737.6 239.5,737.6 232.6,737.6 227.4,736.5 221.9,733.7 227.4,731.6 236.0,730.1 242.9,731.9 244.6,730.1 237.1,728.4 233.3,725.9 226.4,723.9 229.2,722.0 239.5,719.2 249.8,716.0Z" fill="#67001f"/>
<path d="M1413.9,1030.3 1410.5,1030.0 1409.8,1027.5 1414.6,1027.5ZM1418.7,1025.7 1414.6,1025.4 1415.3,1023.2 1419.4,1023.6Z" fill="#d1e5f0"/>
<path d="M1349.2,999.9 1349.2,998.5 1353.4,1000.6 1352.7,1001.3ZM1352.3,996.0 1353.0,995.3 1355.8,999.5 1354.7,1000.2ZM1345.8,994.9 1346.5,993.5 1350.6,996.0 1349.6,997.1ZM1338.2,990.7 1338.6,989.3 1343.4,992.4 1342.3,993.5Z" fill="#ffffff"/>
<path d="M1378.5,1025.7 1377.4,1024.0 1377.8,1022.5 1379.5,1025.0ZM1374.0,1021.8 1373.0,1020.4 1373.0,1019.0 1375.4,1020.8Z" fill="#ffffff"/>
<path d="M1368.5,1039.5 1374.7,1044.8 1373.0,1045.2 1366.1,1041.3 1364.4,1037.4Z" fill="#ffffff"/>
<path d="M539.1,880.9 539.4,880.2 541.5,882.7 540.8,883.1ZM530.5,877.4 531.2,876.7 532.9,879.9 532.2,880.6ZM536.7,876.3 537.0,875.6 538.8,878.1 538.1,878.8ZM529.5,872.1 530.2,871.0 535.3,872.1 534.6,873.2Z" fill="#ffffff"/>
<path d="M594.8,918.8 595.9,919.5 595.2,919.9ZM590.0,916.0 590.7,917.4 590.0,917.4ZM589.7,913.2 591.0,913.9 590.0,914.9ZM588.0,909.6 587.6,908.2 589.7,907.8 589.3,909.6Z" fill="#ffffff"/>
<path d="M1119.4,925.2 1118.4,924.1 1118.7,918.1 1120.1,918.8ZM1089.2,901.1 1083.3,907.1 1078.8,910.0 1076.1,912.8 1076.4,919.5 1074.7,925.2 1073.0,929.4 1069.6,934.4 1066.8,937.2 1063.4,932.3 1061.0,925.9 1057.5,920.2 1054.8,912.1 1052.7,906.1 1051.0,898.6 1050.3,891.6 1049.9,887.3 1048.6,890.1 1043.8,892.6 1037.6,886.6 1042.0,884.8 1035.8,882.7 1034.6,882.1 1034.8,882.0 1036.9,879.9 1041.0,880.2 1044.4,879.5 1043.8,876.7 1042.0,874.9 1041.3,871.7 1039.3,870.3 1043.1,866.8 1047.9,865.4 1052.7,860.1 1056.5,856.5 1056.8,853.0 1059.2,851.6 1056.8,849.8 1054.8,847.3 1054.4,844.1 1055.8,842.7 1061.0,842.4 1064.7,839.9 1067.8,840.2 1068.5,840.2 1071.3,844.1 1073.7,849.1 1070.6,850.5 1072.0,854.7 1078.8,859.0 1077.1,860.1 1075.7,863.9 1078.8,865.4 1082.3,867.5 1087.4,868.9 1092.6,871.0 1099.5,872.4 1103.6,871.4 1103.3,867.1 1106.0,867.1 1105.7,870.0 1109.8,871.0 1115.0,871.0 1117.0,869.3 1115.3,867.1 1116.7,867.5 1123.6,864.3 1128.7,863.2 1131.1,865.4 1134.9,866.1 1133.9,868.5 1127.7,871.7 1125.6,876.3 1124.2,880.9 1121.5,881.3 1120.8,885.2 1118.7,888.4 1117.7,882.4 1116.0,884.1 1113.9,883.8 1115.3,880.6 1118.1,880.2 1116.7,877.0 1109.5,876.7 1109.1,873.9 1105.3,872.4 1104.3,876.7 1102.9,878.8 1105.0,879.9 1105.7,884.8 1102.9,889.4 1103.1,889.5 1103.6,889.4 1099.5,889.8 1097.8,894.4 1092.6,897.6ZM1108.7,866.1 1109.8,865.7 1115.3,867.1 1111.5,866.4Z" fill="#4393c3"/>
<path d="M564.6,1161.7 568.0,1162.7 561.1,1163.1 560.5,1162.1 557.0,1161.0 557.7,1161.7 553.2,1161.3 550.8,1158.8 553.4,1159.4 550.8,1158.1 548.8,1156.3 549.1,1157.1 545.0,1155.6 542.9,1151.8 546.1,1152.5 547.4,1150.0 544.1,1147.4 544.3,1149.3 540.8,1150.0 540.1,1143.6 542.0,1143.2 541.6,1141.6 540.5,1141.8 540.1,1135.1 542.5,1134.5 543.9,1132.3 540.1,1130.9 543.9,1127.0 544.0,1126.8 541.5,1126.3 542.2,1121.7 545.4,1122.3 545.6,1121.7 545.3,1119.1 545.0,1119.2 545.0,1116.3 545.0,1113.9 545.6,1113.9 546.7,1107.5 547.4,1100.4 547.0,1097.6 549.8,1093.3 552.9,1086.3 553.9,1082.7 554.2,1072.1 554.9,1065.0 557.3,1056.2 558.0,1049.1 558.7,1040.2 558.4,1031.0 558.1,1030.8 561.1,1027.8 563.9,1036.0 565.6,1042.0 567.0,1046.6 564.9,1052.6 564.2,1061.5 560.4,1066.8 559.4,1073.9 557.7,1081.0 559.4,1086.3 557.7,1093.3 555.3,1098.7 556.0,1105.7 553.2,1111.0 553.6,1118.1 554.2,1123.4 553.2,1127.0 553.2,1132.3 550.8,1137.6 548.0,1142.9 551.5,1146.4 552.9,1150.0 564.9,1151.0 564.2,1152.1 564.2,1160.6 562.9,1161.3Z" fill="#67001f"/>
<path d="M590.4,927.7 590.4,930.1 587.3,930.1 587.3,927.7Z" fill="#4393c3"/>
<path d="M776.1,781.5 771.0,783.2 767.2,783.6 764.8,782.2 766.1,781.1 769.2,777.6 766.1,776.9 765.8,774.0 771.6,773.7 771.0,771.2 775.1,769.8 775.1,771.2 772.7,772.3 772.0,773.0 774.1,774.4 776.8,774.4 779.2,774.7 780.6,774.1 781.3,773.7 779.6,774.7 778.9,777.2 779.6,781.1 778.5,781.1Z" fill="#67001f"/>
<path d="M518.1,934.0 525.0,933.0 531.9,933.3 534.2,935.4 534.1,936.8 533.9,937.7 533.1,938.9 530.8,937.1 530.8,937.1 530.2,936.5 526.7,934.4 524.0,936.9 525.0,940.1 519.8,938.3 515.1,937.2 516.1,934.0 516.1,931.9Z" fill="#4393c3"/>
<path d="M516.1,931.9 516.1,934.0 515.1,937.2 515.0,937.2 512.3,935.5 507.8,930.9 505.4,927.7 504.8,926.5 505.4,926.6 508.8,927.0 512.3,927.3 512.4,927.2 514.7,930.5Z" fill="#4393c3"/>
<path d="M512.3,927.0 512.4,927.2 512.3,927.3 508.8,927.0 505.4,926.6 504.8,926.5 504.7,926.3 499.4,920.5 499.9,919.9 502.0,918.8 504.4,916.3 507.8,913.9 509.5,913.2 514.0,912.8 513.0,919.9Z" fill="#92c5de"/>
<path d="M490.4,917.2 492.0,915.6 492.8,914.8 495.8,916.3 498.2,916.7 498.5,918.8 498.3,919.9 494.0,918.5Z" fill="#92c5de"/>
<path d="M498.5,909.9 499.2,909.9 499.2,910.0ZM496.2,909.7 494.4,909.6 493.4,909.6 493.5,902.8 493.5,902.4 496.4,900.4 498.2,900.4 496.8,903.9 495.4,909.6Z" fill="#4393c3"/>
<path d="M483.0,914.6 483.7,912.4 484.8,909.0 489.1,909.0 489.2,907.8 485.8,904.8 487.2,904.8 487.2,902.8 493.5,902.8 493.4,909.6 494.4,909.6 496.8,910.3 495.1,911.7 493.5,912.8 492.8,914.8 492.0,915.6 490.4,917.2 488.9,916.7Z" fill="#92c5de"/>
<path d="M499.0,909.9 498.5,909.9 499.2,910.0 499.2,909.9 504.4,909.6 511.2,910.0 514.0,912.8 509.5,913.2 507.8,913.9 504.4,916.3 502.0,918.8 499.9,919.9 499.1,920.2 498.3,919.9 498.5,918.8 498.2,916.7 495.8,916.3 492.8,914.8 493.5,912.8 495.1,911.7 496.8,910.3 496.9,909.9 497.5,910.0Z" fill="#4393c3"/>
<path d="M464.1,888.0 465.5,891.6 469.3,897.9 475.1,901.5 482.0,900.1 487.2,898.6 488.9,893.3 489.6,891.2 495.8,889.8 500.9,889.8 499.2,895.1 498.2,900.4 496.4,900.4 493.5,902.4 493.5,902.8 487.2,902.8 487.2,904.8 485.8,904.8 489.2,907.8 489.1,909.0 484.8,909.0 483.7,912.4 483.0,914.6 478.6,910.7 474.1,908.6 468.2,910.3 461.4,908.2 456.5,906.4 450.0,903.2 444.2,901.1 441.4,898.3 437.3,894.0 438.0,889.8 436.6,886.2 434.2,883.8 428.7,877.4 423.9,872.1 420.1,867.1 414.2,863.2 410.8,855.5 405.3,853.3 406.0,859.0 411.5,865.0 414.9,870.3 420.1,880.2 422.1,884.8 420.8,882.7 414.9,878.1 414.2,873.9 407.4,867.8 404.6,866.8 402.9,860.8 398.8,853.7 397.4,850.9 405.6,850.1 418.0,855.1 428.0,855.1 428.0,853.3 433.8,853.3 439.0,857.2 440.7,861.1 445.5,863.2 447.9,860.4 451.4,860.4 455.2,866.1 457.9,868.5 459.3,872.4 465.8,874.2 464.1,880.9Z" fill="#4393c3"/>
<path d="M619.6,947.5 622.7,950.7 622.8,951.0 622.7,951.0 619.6,957.0 616.2,958.5 612.4,957.8 614.4,953.2 613.8,950.0 614.4,945.4Z" fill="#67001f"/>
<path d="M611.0,945.0 614.4,945.4 613.8,950.0 614.4,953.2 612.4,957.8 609.3,957.8 605.8,959.2 603.1,958.8 600.7,952.1 602.4,950.0 603.4,945.0 603.7,944.3 604.1,944.7Z" fill="#d6604d"/>
<path d="M600.7,941.8 603.6,944.2 603.4,945.0 602.4,950.0 600.7,952.1 603.1,958.8 600.3,960.6 597.9,961.7 594.8,959.5 594.1,956.7 595.2,952.1 594.1,950.3 593.5,947.5 591.4,947.5 589.0,945.0 591.7,940.1 594.2,936.8 597.2,938.3Z" fill="#f4a582"/>
<path d="M521.9,973.7 523.3,968.4 525.0,962.7 528.8,960.9 533.6,963.1 536.0,965.2 541.2,966.3 541.2,969.1 536.7,975.1 530.5,977.9 528.4,983.6 524.7,981.1 524.0,977.9 525.3,974.8Z" fill="#fddbc7"/>
<path d="M609.3,1089.4 606.9,1089.4 601.4,1087.7 599.3,1086.3 599.3,1084.5 600.0,1079.2 602.1,1072.8 604.8,1072.5 607.6,1075.3 608.9,1074.9 611.0,1076.7 615.1,1079.2 617.5,1082.7 616.5,1085.2 613.8,1088.4Z" fill="#d6604d"/>
<path d="M608.6,1045.5 609.6,1050.9 613.4,1051.2 612.4,1056.5 607.6,1062.9 600.7,1059.7 597.2,1054.4 590.4,1050.2 584.9,1044.5 585.9,1036.7 596.9,1034.2 600.0,1036.0 601.4,1044.1Z" fill="#f7f7f7"/>
<path d="M553.2,927.0 554.2,927.7 558.7,925.2 558.7,923.4 560.1,925.5 564.9,927.7 570.1,928.4 576.6,930.1 580.0,928.4 585.2,928.4 587.6,930.5 592.1,935.8 594.2,936.8 591.7,940.1 589.0,945.0 591.4,947.5 586.9,951.0 581.8,952.1 578.3,951.4 577.3,957.4 582.1,958.1 580.0,960.6 574.9,963.1 573.2,963.1 569.7,961.7 568.7,958.1 567.0,951.0 568.3,948.2 568.0,944.0 561.5,944.3 559.1,941.5 556.0,941.5 551.1,939.7 551.5,937.6 549.1,933.3 549.4,929.1 551.5,926.6 554.9,924.1 555.2,922.9 556.0,924.8Z" fill="#2166ac"/>
<path d="M540.1,929.1 542.9,927.0 547.4,925.9 551.8,923.8 554.9,922.0 554.9,924.1 551.5,926.6 549.4,929.1 549.1,933.3 551.5,937.6 551.1,939.7 556.0,941.5 559.1,941.5 561.5,944.3 568.0,944.0 568.3,948.2 567.0,951.0 568.7,958.1 569.7,961.7 565.6,959.2 560.1,959.9 561.1,962.7 559.4,964.1 559.4,966.6 561.5,969.4 559.7,980.8 557.0,979.4 552.5,974.4 547.4,971.2 542.9,966.6 541.2,966.3 536.0,965.2 533.6,963.1 528.8,960.9 530.2,957.0 532.6,953.5 533.9,948.9 534.3,942.9 532.2,940.4 533.9,937.6 534.2,935.5 534.3,935.5 536.0,937.6 538.8,933.0Z" fill="#2166ac"/>
<path d="M549.1,1024.0 542.2,1020.1 537.7,1014.8 534.6,1008.4 531.2,1001.3 528.4,995.3 525.3,990.0 520.9,987.1 520.5,981.8 524.0,977.9 524.7,981.1 528.4,983.6 530.5,977.9 536.7,975.1 541.2,969.1 541.2,966.3 542.9,966.6 547.4,971.2 552.5,974.4 557.0,979.4 559.7,980.8 549.4,984.3 546.0,992.1 548.0,999.2 551.8,1001.3 557.7,999.5 557.3,1004.8 563.9,1004.8 560.8,1011.9 563.2,1015.5 561.8,1020.4 562.8,1023.6 560.4,1027.1 561.1,1027.8 558.1,1030.8 554.2,1027.1Z" fill="#2166ac"/>
<path d="M562.8,1023.6 561.8,1020.4 563.2,1015.5 560.8,1011.9 563.9,1004.8 573.2,1000.6 575.6,1004.5 578.7,1010.1 588.6,1013.7 592.1,1014.8 593.1,1019.4 599.6,1023.6 599.3,1027.1 602.4,1030.3 600.0,1036.0 596.9,1034.2 585.9,1036.7 584.9,1044.5 579.0,1046.6 576.6,1044.1 572.1,1043.1 569.0,1046.6 567.0,1046.6 565.6,1042.0 563.9,1036.0 561.1,1027.8 560.4,1027.1Z" fill="#92c5de"/>
<path d="M565.6,1153.5 568.0,1157.1 575.9,1159.5 569.7,1160.6 564.2,1160.6 564.2,1152.1 564.9,1151.0 564.6,1152.1ZM605.2,1094.8 602.4,1100.4 597.2,1102.5 586.9,1103.6 585.9,1109.3 578.3,1110.3 576.6,1114.6 580.7,1115.6 578.3,1117.8 575.6,1121.7 571.4,1125.2 568.0,1128.7 569.7,1132.3 573.5,1135.1 568.0,1139.4 563.2,1144.7 564.9,1151.0 552.9,1150.0 551.5,1146.4 548.0,1142.9 550.8,1137.6 553.2,1132.3 553.2,1127.0 554.2,1123.4 553.6,1118.1 553.2,1111.0 556.0,1105.7 555.3,1098.7 557.7,1093.3 559.4,1086.3 557.7,1081.0 559.4,1073.9 560.4,1066.8 564.2,1061.5 564.9,1052.6 567.0,1046.6 569.0,1046.6 572.1,1043.1 576.6,1044.1 579.0,1046.6 584.9,1044.5 590.4,1050.2 597.2,1054.4 600.7,1059.7 607.6,1062.9 612.4,1056.5 615.1,1062.2 608.2,1065.7 602.1,1072.8 600.0,1079.2 599.3,1084.5 599.3,1086.3 599.3,1088.4 603.1,1093.0Z" fill="#d6604d"/>
<path d="M558.4,1031.0 554.2,1027.1 558.1,1030.8ZM628.2,964.1 629.9,966.6 633.4,968.7 638.5,968.4 647.1,971.2 648.8,974.8 655.7,975.8 664.3,976.2 667.8,979.0 672.9,983.2 678.8,984.3 680.5,991.4 679.8,996.0 677.4,1000.2 672.9,1004.8 667.8,1011.9 666.0,1017.2 665.4,1027.8 662.6,1034.9 659.5,1042.0 655.7,1047.3 651.6,1047.3 647.1,1048.4 640.9,1050.9 635.1,1055.1 633.0,1059.7 633.4,1066.1 629.2,1070.0 624.8,1075.6 620.6,1079.9 616.5,1085.2 617.5,1082.7 615.1,1079.2 611.0,1076.7 608.9,1074.9 607.6,1075.3 604.8,1072.5 602.1,1072.8 608.2,1065.7 615.1,1062.2 612.4,1056.5 613.4,1051.2 609.6,1050.9 608.6,1045.5 601.4,1044.1 600.0,1036.0 602.4,1030.3 599.3,1027.1 599.6,1023.6 593.1,1019.4 592.1,1014.8 588.6,1013.7 578.7,1010.1 575.6,1004.5 573.2,1000.6 563.9,1004.8 557.3,1004.8 557.7,999.5 551.8,1001.3 548.0,999.2 546.0,992.1 549.4,984.3 559.7,980.8 561.5,969.4 559.4,966.6 559.4,964.1 561.1,962.7 560.1,959.9 565.6,959.2 569.7,961.7 573.2,963.1 574.9,963.1 580.0,960.6 582.1,958.1 577.3,957.4 578.3,951.4 581.8,952.1 586.9,951.0 591.4,947.5 593.5,947.5 594.1,950.3 595.2,952.1 594.1,956.7 594.8,959.5 597.9,961.7 600.3,960.6 603.1,958.8 605.8,959.2 609.3,957.8 612.4,957.8 616.2,958.5 619.6,957.0 622.7,951.0 622.8,951.0 624.8,955.3 628.2,959.5ZM603.4,945.0 603.6,944.2 604.1,944.7 603.7,944.3ZM534.2,935.5 533.9,937.6 532.2,940.4 530.5,937.2 530.8,937.1 530.8,937.1ZM555.2,922.9 554.9,924.1 554.9,922.0Z" fill="#2166ac"/>
<path d="M769.6,834.9 769.9,829.6 767.5,828.9 769.6,823.6 770.3,817.6 769.8,816.7 772.0,816.9 772.0,817.9 777.8,817.6 778.9,818.6 776.5,820.8 776.5,823.2 776.1,825.4 775.1,826.4 776.1,828.2 775.1,830.0 776.1,831.4 774.4,833.1 774.7,834.2Z" fill="#67001f"/>
<path d="M768.2,813.7 772.7,811.2 780.2,811.6 787.1,812.3 794.0,812.3 795.4,813.0 797.8,814.0 802.6,814.4 805.0,815.1 806.0,815.5 810.9,815.8 810.9,815.8 811.2,817.6 807.8,819.3 803.3,820.8 800.2,825.0 799.2,826.1 800.9,828.5 798.5,830.3 797.4,832.8 793.0,835.6 785.1,836.0 780.9,838.5 778.5,836.7 774.7,834.2 774.4,833.1 776.1,831.4 775.1,830.0 776.1,828.2 775.1,826.4 776.1,825.4 776.5,823.2 776.5,820.8 778.9,818.6 777.8,817.6 772.0,817.9 772.0,816.9 769.8,816.7Z" fill="#67001f"/>
<path d="M821.2,788.5 822.6,789.6 822.2,790.7 820.2,790.7 820.2,788.9Z" fill="#b2182b"/>
<path d="M815.7,783.8 817.4,783.8 820.2,784.8 820.8,786.2 822.2,787.8 821.2,788.5 820.2,788.9 820.2,790.7 816.7,788.5 814.6,789.1 811.2,786.4 809.1,786.1 808.8,785.0 811.9,783.9Z" fill="#b2182b"/>
<path d="M816.4,778.6 817.4,777.2 823.9,776.9 825.0,777.6 824.3,780.4 823.6,782.2 820.5,782.5 821.5,783.6 820.8,786.2 820.2,784.8 817.4,783.8 815.7,783.8 811.9,783.9 814.0,782.2Z" fill="#b2182b"/>
<path d="M823.6,798.8 824.3,797.8 826.3,797.4 829.8,797.2 832.9,797.4 833.2,799.2 836.0,799.5 836.3,800.9 835.3,802.4 832.9,802.0 831.2,803.8 829.1,802.0 827.4,803.4 824.3,803.4 823.6,803.4 821.2,802.4 821.2,800.9Z" fill="#b2182b"/>
<path d="M836.3,797.8 838.4,798.1 842.2,797.4 844.9,797.8 844.9,796.7 844.2,795.3 846.3,794.6 847.7,793.5 848.4,793.9 851.8,792.4 858.3,793.9 859.0,796.0 856.6,797.4 857.0,799.5 855.2,800.6 850.4,801.6 847.3,801.3 842.9,800.6 842.2,799.5 836.3,800.1 836.0,799.5 833.2,799.2 832.9,797.4 835.3,798.5Z" fill="#d6604d"/>
<path d="M847.3,801.3 850.4,801.6 855.2,800.6 857.3,801.3 854.2,802.4 853.5,803.8 852.5,804.8 847.0,804.8 847.0,804.5Z" fill="#92c5de"/>
<path d="M862.1,806.2 865.6,807.0 866.9,808.4 866.2,811.9 864.2,814.7 863.8,815.5 861.1,813.7 859.4,811.9 856.3,810.1 854.6,807.7 854.6,805.9 858.3,805.9Z" fill="#d1e5f0"/>
<path d="M863.8,815.5 864.2,814.7 866.2,811.9 868.0,813.3 870.0,814.4 868.0,815.5 866.6,817.6 866.0,817.5 865.6,817.2Z" fill="#f7f7f7"/>
<path d="M867.3,818.3 866.0,817.5 866.6,817.6 868.0,815.5 869.3,815.1 870.7,817.6 871.1,820.4 872.4,822.2 871.4,823.9 869.2,825.2 866.9,822.9Z" fill="#4393c3"/>
<path d="M877.3,816.2 879.3,818.6 878.3,820.1 872.4,821.1 871.1,820.4 870.7,817.6 872.4,816.5Z" fill="#f7f7f7"/>
<path d="M854.9,811.6 852.5,809.1 850.1,805.9 847.3,807.0 847.0,804.8 852.5,804.8 853.5,803.8 854.2,802.4 857.3,801.3 860.7,803.4 864.9,803.4 866.9,805.9 865.6,807.0 862.1,806.2 858.3,805.9 854.6,805.9 854.6,807.7 856.3,810.1 859.4,811.9 861.1,813.7 863.8,815.5 858.7,813.0Z" fill="#d1e5f0"/>
<path d="M872.4,803.4 873.8,805.9 877.6,808.0 878.3,809.1 877.3,810.8 879.3,813.0 877.3,816.2 872.4,816.5 870.7,817.6 869.3,815.1 870.0,814.4 868.0,813.3 866.2,811.9 866.9,808.4 865.6,807.0 866.9,805.9 864.9,803.4 864.9,802.7 870.0,802.7Z" fill="#4393c3"/>
<path d="M856.6,797.4 859.0,796.0 861.8,796.7 865.2,796.0 869.0,795.3 872.4,794.2 876.6,794.6 879.0,796.0 876.2,797.4 873.1,801.6 870.0,802.7 864.9,802.7 864.9,803.4 860.7,803.4 857.3,801.3 855.7,800.3 857.0,799.5Z" fill="#4393c3"/>
<path d="M862.1,792.4 864.9,790.7 867.3,790.3 872.4,791.0 877.9,792.1 876.6,794.6 872.4,794.2 869.0,795.3 865.2,796.0 861.8,796.7 859.0,796.0 858.3,793.9 859.4,793.1Z" fill="#92c5de"/>
<path d="M846.6,786.4 849.4,785.4 851.8,785.4 857.0,787.1 862.1,788.9 864.9,790.7 862.1,792.4 859.4,793.1 858.3,793.9 851.8,792.4 848.4,793.9 847.7,793.5 843.5,790.7 841.8,788.2 843.2,787.5Z" fill="#92c5de"/>
<path d="M830.8,774.7 830.0,771.8 832.5,771.9 833.8,771.9 833.2,771.2 834.6,773.0 838.0,774.7 843.2,773.3 849.0,775.1 849.0,777.2 850.4,779.7 850.8,781.5 851.8,785.4 849.4,785.4 846.6,786.4 843.2,787.5 841.8,788.2 843.5,790.7 847.7,793.5 846.3,794.6 844.2,795.3 844.9,796.7 844.9,797.8 842.2,797.4 838.4,798.1 836.3,797.8 835.3,798.5 832.9,797.4 829.8,797.2 826.3,797.4 826.3,794.9 828.4,792.8 825.7,791.7 823.2,791.7 822.2,790.7 822.6,789.6 821.2,788.5 822.2,787.8 820.8,786.2 821.5,783.6 820.5,782.5 823.6,782.2 824.3,780.4 825.0,777.6 823.9,776.9 829.4,776.2Z" fill="#b2182b"/>
<path d="M862.1,771.9 864.2,773.3 867.6,773.3 878.6,773.3 881.0,775.1 882.4,777.6 880.0,780.8 881.4,783.2 882.8,787.1 878.3,790.3 877.9,792.1 872.4,791.0 867.3,790.3 864.9,790.7 862.1,788.9 857.0,787.1 851.8,785.4 850.8,781.5 850.4,779.7 849.0,777.2 849.0,775.1 855.2,773.7Z" fill="#2166ac"/>
<path d="M872.6,767.3 875.9,766.2 882.8,766.6 888.6,767.0 891.7,768.7 890.3,770.8 886.2,773.3 889.0,774.0 881.0,775.1 878.6,773.3 878.3,771.6 873.1,770.5 871.7,770.3 872.8,768.7Z" fill="#f4a582"/>
<path d="M874.5,762.7 877.9,761.6 881.0,764.1 883.8,763.4 884.1,760.9 886.2,760.6 889.6,761.3 894.5,762.0 895.8,763.1 897.2,767.3 891.7,768.7 888.6,767.0 882.8,766.6 875.9,766.2 872.6,767.3 872.4,765.9Z" fill="#f4a582"/>
<path d="M881.0,758.8 880.7,756.3 885.2,755.3 896.5,755.3 894.5,757.7 895.8,760.6 894.5,762.0 889.6,761.3 886.2,760.6 884.1,760.9 884.1,760.6Z" fill="#f7f7f7"/>
<path d="M881.0,775.1 889.0,774.0 886.2,773.3 890.3,770.8 891.7,768.7 897.2,767.3 906.2,769.1 909.6,774.7 912.7,777.2 907.9,777.9 909.6,781.5 908.6,781.5 905.1,784.3 898.2,783.2 893.8,783.2 887.9,782.2 882.8,783.2 881.4,783.2 880.0,780.8 882.4,777.6Z" fill="#f4a582"/>
<path d="M900.0,796.3 903.7,799.9 903.4,801.6 899.6,801.6 897.2,804.8 896.5,803.1 896.9,799.9 894.1,796.7 891.7,794.9 894.8,794.2Z" fill="#f7f7f7"/>
<path d="M926.8,805.5 926.4,805.9 925.8,805.5 928.5,803.3ZM917.2,808.4 913.7,806.6 913.4,806.5 912.0,805.2 913.7,803.1 909.6,800.9 905.1,802.0 903.3,804.5 902.1,805.5 897.2,804.8 899.6,801.6 903.4,801.6 903.7,799.9 900.0,796.3 894.8,794.2 891.7,794.9 886.2,796.3 882.8,796.3 879.0,796.0 876.6,794.6 877.9,792.1 878.3,790.3 882.8,787.1 881.4,783.2 882.8,783.2 887.9,782.2 893.8,783.2 898.2,783.2 905.1,784.3 908.6,781.5 909.6,781.5 914.4,780.4 917.2,780.8 918.2,782.9 921.6,785.0 922.3,787.1 930.9,788.9 935.0,789.3 937.8,792.4 936.8,796.7 931.9,799.0 929.2,799.2 921.3,802.0 920.6,805.5 925.8,805.5 922.3,806.6 918.9,808.4Z" fill="#f7f7f7"/>
<path d="M899.3,808.4 898.6,810.8 898.3,811.1 893.1,809.8 886.2,811.2 878.3,809.1 877.6,808.0 873.8,805.9 872.4,803.4 870.0,802.7 873.1,801.6 876.2,797.4 879.0,796.0 882.8,796.3 886.2,796.3 891.7,794.9 894.1,796.7 896.9,799.9 896.5,803.1 897.2,804.8 902.1,805.5 902.6,805.1 902.7,805.4 902.4,805.9Z" fill="#d1e5f0"/>
<path d="M895.5,815.1 896.2,817.5 893.1,816.9 890.7,818.3 886.9,819.7 882.8,819.0 879.3,818.6 877.3,816.2 879.3,813.0 877.3,810.8 878.3,809.1 886.2,811.2 893.1,809.8 898.3,811.1 896.5,813.0Z" fill="#fddbc7"/>
<path d="M876.6,733.7 874.2,737.6 869.0,740.4 863.8,743.2 860.4,745.7 859.4,750.0 864.5,752.8 865.6,754.9 862.5,756.0 857.6,758.8 857.0,764.1 855.2,767.0 850.8,767.0 844.9,769.8 843.5,767.7 841.5,761.6 838.7,757.4 840.8,754.2 843.2,751.7 842.2,750.0 844.6,747.5 841.8,744.3 841.8,740.8 848.0,737.6 850.1,734.0 853.5,731.2 857.0,727.0 862.1,723.4 870.9,721.4 872.4,722.3 877.3,723.4 881.4,725.5 881.4,729.4 883.1,733.0 883.0,733.0 882.8,733.0Z" fill="#d6604d"/>
<path d="M879.0,754.2 873.8,750.7 874.2,747.1 873.1,742.9 877.6,740.0 884.5,736.5 887.6,735.8 886.2,734.0 883.0,733.0 883.1,733.0 881.4,729.4 881.4,725.5 877.3,723.4 872.4,722.3 870.9,721.4 873.5,720.6 877.3,722.7 881.7,722.7 885.9,723.1 889.0,721.6 890.7,718.5 896.2,717.8 897.9,718.8 901.0,719.9 899.6,721.5 898.2,723.4 903.4,726.2 900.3,729.1 903.7,733.3 902.4,736.5 905.1,738.3 903.4,740.0 908.9,743.2 907.9,745.0 900.0,749.3 895.8,751.7 895.7,751.8 886.2,752.8Z" fill="#67001f"/>
<path d="M924.7,836.3 922.3,836.3 919.2,835.6 912.0,838.1 905.5,835.6 901.7,837.8 896.5,836.0 894.1,833.5 893.1,832.3 893.1,832.3 891.4,830.3 892.0,826.1 891.3,825.3 891.4,824.3 891.0,823.6 892.0,822.5 889.6,821.5 890.7,818.3 893.1,816.9 896.2,817.5 896.5,818.6 900.0,820.1 908.6,820.1 915.4,817.2 920.9,817.2 922.3,818.6 927.5,820.1 932.6,821.1 939.5,820.8 943.3,818.6 946.4,819.0 949.8,820.4 950.5,823.9 954.3,825.4 952.6,826.4 951.6,827.8 952.2,831.7 954.3,834.6 946.1,834.6 941.2,834.6 934.4,836.0 930.9,835.6 926.1,835.6 926.1,837.8 923.7,838.8 923.4,839.1 923.4,838.8Z" fill="#67001f"/>
<path d="M937.8,812.3 943.0,813.0 946.4,813.3 950.9,815.1 955.0,815.1 957.4,817.2 960.2,817.6 955.0,819.7 949.8,820.4 946.4,819.0 943.3,818.6 937.4,812.6Z" fill="#fddbc7"/>
<path d="M956.7,821.1 957.1,824.3 960.2,826.1 960.2,828.2 955.0,825.0 954.3,825.4 950.5,823.9 949.8,820.4 955.0,819.7Z" fill="#f7f7f7"/>
<path d="M973.3,822.7 973.2,823.1 969.8,825.0 968.4,830.0 965.3,828.5 965.0,825.7 960.2,828.2 960.2,826.1 957.1,824.3 956.7,821.1 955.0,819.7 960.2,817.6 964.6,820.1 967.4,817.9 967.5,818.0 968.8,820.1Z" fill="#d1e5f0"/>
<path d="M918.9,854.0 919.9,852.3 920.9,848.7 923.4,848.0 922.7,850.1 922.3,854.4 921.3,857.9 920.3,861.5 917.8,855.1Z" fill="#b2182b"/>
<path d="M923.2,843.5 923.7,843.1 925.4,843.4 926.1,844.8 923.4,848.0 920.9,848.7 922.3,845.9Z" fill="#67001f"/>
<path d="M922.3,854.4 922.7,850.1 924.0,850.1 933.7,847.7 935.0,851.9 927.5,854.4 930.9,857.9 929.2,859.7 925.8,861.5 924.0,862.5 920.3,861.5 921.3,857.9Z" fill="#b2182b"/>
<path d="M923.4,839.5 923.7,838.8 926.1,837.8 926.1,835.6 930.9,835.6 934.4,836.0 941.2,834.6 946.1,834.6 942.3,839.9 941.2,844.1 933.7,847.7 924.0,850.1 922.7,850.1 923.4,848.0 926.1,844.8 925.4,843.4 923.7,843.1 923.4,842.8 923.7,842.0Z" fill="#67001f"/>
<path d="M966.4,865.0 964.3,865.0 960.2,862.9 964.3,859.3 965.3,859.7 965.7,863.2Z" fill="#d6604d"/>
<path d="M964.3,859.3 960.2,862.9 954.0,862.5 944.7,855.8 939.2,853.0 935.0,851.9 933.7,847.7 941.2,844.1 942.3,839.9 946.1,834.6 954.3,834.6 956.7,838.8 958.4,841.6 956.7,843.8 957.8,847.0 961.9,849.4 964.3,852.6 965.3,856.2 965.3,857.9 968.1,858.6 965.3,859.7Z" fill="#d6604d"/>
<path d="M974.7,877.7 974.9,878.2 974.6,878.1ZM977.5,878.3 976.7,879.2 975.0,878.3 976.3,873.5 977.7,876.3Z" fill="#f7f7f7"/>
<path d="M987.3,879.2 990.4,876.3 992.8,873.9 994.2,872.4 994.2,877.8 992.2,880.2 990.1,884.5 991.8,888.0 990.1,885.5 981.1,884.8 977.7,880.2 977.7,879.9 980.8,880.2Z" fill="#d6604d"/>
<path d="M1001.8,882.4 1005.9,886.2 1001.4,893.3 999.0,898.6 994.6,902.2 989.4,905.7 980.4,909.0 982.9,906.8 979.1,898.6 989.4,895.1 991.8,888.0 990.1,884.5 992.2,880.2 994.2,877.8 998.0,881.6Z" fill="#b2182b"/>
<path d="M970.5,914.2 965.3,916.3 955.0,920.6 949.8,920.9 947.1,911.0 947.3,907.8 947.4,907.8 949.2,905.7 953.3,904.3 960.2,904.7 963.6,905.0 968.8,900.1 979.1,898.6 982.9,906.8 980.4,909.0 979.8,909.3Z" fill="#d6604d"/>
<path d="M970.8,870.3 972.5,873.2 973.9,875.6 974.7,877.8 974.7,877.7 974.6,878.1 974.9,878.2 975.0,878.5 976.0,874.7 976.0,874.7 975.0,878.3 976.7,879.2 977.4,878.4 977.5,878.6 977.4,879.9 977.8,879.9 977.7,879.9 977.7,880.2 978.0,880.6 978.0,880.9 981.1,884.8 990.1,885.5 991.8,888.0 989.4,895.1 979.1,898.6 968.8,900.1 963.6,905.0 960.2,904.7 953.3,904.3 949.2,905.7 947.4,907.8 947.4,907.8 947.4,906.8 943.0,902.2 939.5,896.9 935.0,889.8 932.6,884.5 929.2,879.2 925.8,873.9 921.3,866.8 920.3,861.5 924.0,862.5 925.8,861.5 929.2,859.7 930.9,857.9 927.5,854.4 935.0,851.9 939.2,853.0 944.7,855.8 954.0,862.5 960.2,862.9 964.3,865.0 966.4,865.0 967.0,866.8Z" fill="#b2182b"/>
<path d="M999.7,875.3 996.3,871.0 993.9,869.6 988.7,871.7 982.5,870.3 977.4,867.1 975.0,863.2 972.9,859.7 968.1,858.6 965.3,857.9 965.3,856.2 964.3,852.6 961.9,849.4 957.8,847.0 956.7,843.8 958.4,841.6 956.7,838.8 954.3,834.6 952.2,831.7 951.6,827.8 952.6,826.4 954.3,825.4 955.0,825.0 960.2,828.2 965.0,825.7 965.3,828.5 968.4,830.0 970.5,833.1 975.6,836.0 982.5,835.6 986.0,833.5 991.1,831.4 996.3,830.7 1004.9,833.1 1008.3,836.3 1010.7,836.3 1010.7,839.9 1008.3,844.8 1009.7,847.3 1008.3,849.1 1009.4,854.4 1012.4,854.7 1009.7,860.1 1011.8,861.1 1016.2,865.7 1016.2,869.3 1018.0,869.6 1017.6,871.7 1012.8,873.2 1012.1,876.7 1006.6,876.0Z" fill="#d6604d"/>
<path d="M1009.4,854.4 1008.3,849.1 1009.7,847.3 1008.3,844.8 1010.7,839.9 1015.2,840.9 1017.3,839.2 1022.1,837.4 1023.8,834.2 1029.0,833.5 1033.4,834.2 1035.5,834.6 1039.3,833.1 1042.7,830.0 1045.5,831.7 1046.2,834.9 1049.9,834.9 1053.7,833.5 1057.9,834.2 1056.5,834.9 1049.6,835.6 1046.5,838.5 1045.1,841.6 1044.8,844.1 1040.7,845.5 1042.0,847.7 1038.6,848.7 1038.6,853.0 1034.1,853.7 1029.0,856.2 1028.3,860.1 1020.4,861.5 1015.2,861.8 1009.7,860.1 1012.4,854.7Z" fill="#b2182b"/>
<path d="M1030.7,878.1 1029.0,876.0 1022.1,876.7 1013.5,877.0 1012.1,876.7 1012.8,873.2 1017.6,871.7 1018.0,869.6 1016.2,869.3 1016.2,865.7 1011.8,861.1 1009.7,860.1 1015.2,861.8 1020.4,861.5 1028.3,860.1 1029.0,856.2 1034.1,853.7 1038.6,853.0 1038.6,848.7 1042.0,847.7 1040.7,845.5 1044.8,844.1 1045.1,841.6 1046.5,838.5 1049.6,835.6 1056.5,834.9 1059.9,835.6 1064.7,839.9 1061.0,842.4 1055.8,842.7 1054.4,844.1 1054.8,847.3 1056.8,849.8 1059.2,851.6 1056.8,853.0 1056.5,856.5 1052.7,860.1 1047.9,865.4 1043.1,866.8 1039.3,870.3 1041.3,871.7 1042.0,874.9 1043.8,876.7 1044.4,879.5 1041.0,880.2 1036.9,879.9 1034.8,882.0 1034.6,882.1 1032.4,880.9Z" fill="#2166ac"/>
<path d="M982.5,824.3 984.2,819.7 981.1,817.9 982.5,817.2 989.4,819.7 992.8,819.7 999.7,815.1 1003.2,816.2 1006.6,817.2 1010.0,820.1 1013.5,821.1 1016.9,824.3 1022.1,827.8 1025.5,830.3 1029.0,831.4 1029.0,833.5 1023.8,834.2 1022.1,837.4 1017.3,839.2 1015.2,840.9 1010.7,839.9 1010.7,836.3 1008.3,836.3 1004.9,833.1 996.3,830.7 991.1,831.4 986.0,833.5 985.6,827.8Z" fill="#d1e5f0"/>
<path d="M1032.4,827.1 1035.8,826.1 1038.6,823.6 1042.7,821.1 1044.4,823.6 1043.1,824.7 1047.9,826.4 1053.4,826.1 1054.1,827.8 1057.9,829.6 1057.9,834.2 1053.7,833.5 1049.9,834.9 1046.2,834.9 1045.5,831.7 1042.7,830.0 1039.3,833.1 1035.5,834.6 1033.4,834.2 1034.8,830.0Z" fill="#92c5de"/>
<path d="M1053.0,815.5 1056.5,813.0 1061.6,814.0 1072.0,814.4 1076.1,816.5 1072.0,819.7 1064.4,821.1 1061.6,823.2 1057.9,822.5 1053.4,826.1 1047.9,826.4 1043.1,824.7 1044.4,823.6 1049.6,823.2 1051.7,821.5 1047.2,819.0 1044.1,816.5 1044.4,816.2Z" fill="#d1e5f0"/>
<path d="M1013.5,811.9 1022.1,811.6 1027.2,813.7 1029.0,817.6 1036.2,822.2 1037.6,819.3 1044.1,816.5 1047.2,819.0 1051.7,821.5 1049.6,823.2 1044.4,823.6 1042.7,821.1 1038.6,823.6 1035.8,826.1 1032.4,827.1 1034.8,830.0 1033.4,834.2 1029.0,833.5 1029.0,831.4 1025.5,830.3 1022.1,827.8 1016.9,824.3 1013.5,821.1 1010.0,820.1 1006.6,817.2 1003.2,816.2 999.7,815.1 992.8,819.7 992.8,806.6 1001.4,804.5Z" fill="#92c5de"/>
<path d="M976.7,808.4 982.5,805.5 982.9,799.9 978.7,799.2 968.8,801.3 963.6,804.1 960.5,794.2 960.5,792.4 963.6,787.5 967.7,786.8 973.9,783.6 980.1,782.5 989.4,786.1 996.3,785.0 1003.2,786.8 1011.4,786.1 1010.0,781.8 1006.6,781.8 1010.0,778.3 1011.8,774.7 1023.8,772.6 1037.6,769.8 1043.8,770.8 1052.7,776.5 1063.4,774.7 1068.2,777.2 1075.4,785.4 1082.3,786.1 1087.4,785.4 1092.6,788.9 1098.8,789.6 1100.5,792.1 1094.3,799.2 1085.7,798.8 1084.0,804.8 1075.4,806.6 1076.1,816.5 1072.0,814.4 1061.6,814.0 1056.5,813.0 1053.0,815.5 1044.4,816.2 1037.6,819.3 1036.2,822.2 1029.0,817.6 1027.2,813.7 1022.1,811.6 1013.5,811.9 1001.4,804.5 992.8,806.6 992.8,819.7 989.4,819.7 982.5,817.2 975.3,812.3 973.2,808.0Z" fill="#d1e5f0"/>
<path d="M1078.8,859.0 1084.0,860.1 1089.8,864.3 1096.0,866.8 1103.3,867.1 1103.6,871.4 1099.5,872.4 1092.6,871.0 1087.4,868.9 1082.3,867.5 1078.8,865.4 1075.7,863.9 1077.1,860.1Z" fill="#f4a582"/>
<path d="M1111.5,866.4 1115.3,867.1 1117.0,869.3 1115.0,871.0 1109.8,871.0 1105.7,870.0 1106.0,867.1 1108.1,866.1Z" fill="#d1e5f0"/>
<path d="M1116.0,887.0 1111.5,886.2 1108.1,888.7 1103.6,889.4 1103.1,889.5 1102.9,889.4 1105.7,884.8 1105.0,879.9 1102.9,878.8 1104.3,876.7 1105.3,872.4 1109.1,873.9 1109.5,876.7 1116.7,877.0 1118.1,880.2 1115.3,880.6 1113.9,883.8 1116.0,884.1 1117.7,882.4 1118.7,888.4 1117.9,891.9 1116.7,889.4Z" fill="#f7f7f7"/>
<path d="M1137.3,916.3 1135.9,907.5 1131.1,906.4 1127.0,910.0 1124.6,908.2 1125.3,902.2 1122.2,896.9 1118.1,892.3 1117.9,891.9 1118.7,888.4 1120.8,885.2 1121.5,881.3 1124.2,880.9 1125.6,876.3 1127.7,871.7 1133.9,868.5 1134.9,866.1 1139.7,868.5 1139.7,872.1 1135.9,877.4 1136.3,881.3 1140.1,880.6 1142.5,884.5 1140.8,887.7 1144.5,889.8 1148.2,891.0 1144.5,893.7 1139.0,896.2 1136.6,900.4 1139.0,905.7 1139.7,908.2 1138.0,912.1 1141.1,916.7 1141.4,921.6 1140.1,925.2 1139.3,929.0 1139.0,921.6Z" fill="#92c5de"/>
<path d="M1170.0,908.6 1170.3,911.4 1170.0,914.2 1164.8,915.3 1163.1,915.3 1163.5,910.0 1160.4,903.9 1154.5,902.5 1151.4,901.5 1147.6,900.4 1148.3,896.5 1145.9,894.4 1144.5,893.7 1148.2,891.0 1150.0,890.9 1151.8,886.6 1154.5,889.4 1158.3,891.9 1160.0,893.0 1158.0,896.5 1162.1,899.3 1166.6,904.0 1167.4,905.0Z" fill="#d1e5f0"/>
<path d="M1154.5,925.2 1153.5,924.1 1152.8,922.7 1152.1,918.1 1154.5,914.9 1163.1,915.3 1164.8,915.3 1170.0,914.2 1170.0,919.9 1170.0,922.4 1166.2,924.5 1164.2,927.0 1161.7,927.3 1159.7,929.1 1156.2,928.4Z" fill="#fddbc7"/>
<path d="M1147.3,920.9 1145.9,918.1 1144.2,919.2 1142.5,925.2 1141.4,929.4 1145.2,935.8 1145.9,940.4 1149.4,941.5 1151.6,943.8 1151.4,944.0 1147.6,945.4 1145.2,943.2 1145.2,942.9 1143.2,941.1 1138.7,937.9 1138.4,932.3 1139.4,930.5 1139.3,929.0 1140.1,925.2 1141.4,921.6 1141.1,916.7 1138.0,912.1 1139.7,908.2 1139.0,905.7 1136.6,900.4 1139.0,896.2 1144.5,893.7 1145.9,894.4 1148.3,896.5 1147.6,900.4 1151.4,901.5 1154.5,902.5 1160.4,903.9 1163.5,910.0 1163.1,915.3 1154.5,914.9 1152.1,918.1 1152.8,922.7 1153.5,924.1 1151.8,922.4Z" fill="#f7f7f7"/>
<path d="M1175.8,918.1 1176.2,923.8 1173.4,927.0 1168.3,929.1 1167.2,932.3 1161.4,935.5 1161.4,931.2 1159.7,929.1 1161.7,927.3 1164.2,927.0 1166.2,924.5 1170.0,922.4 1170.0,919.9 1170.0,914.2 1170.3,911.4 1170.0,908.6 1167.4,905.0 1170.0,908.2 1172.8,912.8ZM1164.2,898.6 1166.6,903.9 1166.6,904.0 1162.1,899.3 1158.0,896.5 1160.0,893.0 1158.3,891.9 1154.5,889.4 1151.8,886.6 1154.5,886.2 1158.0,885.2 1163.1,883.8 1167.2,885.2 1171.7,889.8 1171.9,890.1 1168.3,891.6 1166.6,894.0Z" fill="#4393c3"/>
<path d="M1240.5,824.3 1242.4,828.8 1241.9,829.3 1237.1,830.3 1233.6,832.4 1230.8,832.0 1229.2,831.4 1230.9,826.1 1227.8,824.7 1230.2,822.9 1236.4,818.3 1240.5,817.2 1246.4,815.8 1249.8,816.2 1246.7,820.8Z" fill="#2166ac"/>
<path d="M1245.3,834.9 1245.7,838.5 1244.0,841.6 1238.8,843.4 1234.7,844.1 1235.4,838.8 1235.7,833.1 1231.9,832.4 1233.6,832.4 1237.1,830.3 1241.9,829.3 1242.5,829.1 1242.6,829.3Z" fill="#f7f7f7"/>
<path d="M1115.0,787.1 1123.6,788.2 1128.7,789.3 1136.6,787.5 1138.0,783.6 1144.2,782.9 1151.8,784.3 1154.5,787.8 1166.6,787.8 1171.7,790.7 1180.3,791.7 1194.1,788.2 1201.3,789.3 1197.5,795.6 1205.4,797.0 1211.3,798.8 1209.6,800.9 1199.2,804.5 1188.9,807.3 1184.8,811.2 1178.6,815.1 1168.3,816.2 1161.4,818.6 1147.6,815.1 1131.5,814.7 1128.0,809.1 1121.8,807.0 1112.6,805.5 1113.2,801.3 1110.1,796.3 1102.9,794.2 1102.2,791.7 1108.1,789.6Z" fill="#4393c3"/>
<path d="M786.4,841.3 792.6,841.6 794.4,842.7 794.0,847.0 795.7,852.3 790.2,853.0 787.5,854.7 787.8,856.9 783.7,859.3 780.9,861.1 775.4,861.5 770.3,864.3 770.3,867.9 756.3,867.9 757.2,867.1 762.4,865.0 765.8,861.5 766.8,857.6 766.5,854.4 771.0,848.0 774.4,846.6 776.8,845.5 778.9,842.0 779.9,839.2 781.4,838.9 782.7,839.2Z" fill="#67001f"/>
<path d="M745.2,881.6 749.3,875.6 753.8,870.3 756.3,867.9 770.3,867.9 770.3,873.9 758.9,873.9 758.9,882.7 755.1,885.2 755.5,890.5 741.9,890.5 742.4,887.3Z" fill="#67001f"/>
<path d="M745.2,896.9 741.7,891.6 741.9,890.5 755.5,890.5 755.1,885.2 758.9,882.7 758.9,873.9 770.3,873.9 770.3,869.3 783.7,877.4 779.6,890.5 781.3,907.8 761.3,911.4 758.2,913.9 757.2,912.1 753.8,908.9 750.3,907.1 745.2,907.5 743.4,908.9 743.2,908.8 744.5,902.2Z" fill="#4393c3"/>
<path d="M748.6,917.0 752.7,917.8 752.7,918.8 748.6,918.5 742.9,919.5 742.4,917.0Z" fill="#f7f7f7"/>
<path d="M740.0,913.9 743.0,909.4 743.4,908.9 745.2,907.5 750.3,907.1 753.8,908.9 757.2,912.1 758.2,913.9 761.0,922.0 757.5,922.0 753.1,921.3 747.9,920.9 743.4,922.2 742.4,917.0ZM742.9,919.5 748.6,918.5 752.7,918.8 752.7,917.8 748.6,917.0 742.4,917.0Z" fill="#f7f7f7"/>
<path d="M743.4,922.4 743.4,922.2 747.9,920.9 753.1,921.3 753.1,924.5 748.8,927.2 748.6,927.0Z" fill="#f7f7f7"/>
<path d="M754.4,935.8 754.4,934.0 757.9,930.9 761.7,930.5 763.4,933.0 764.8,935.8 763.7,937.6 760.6,941.5 760.2,941.3 757.2,939.7Z" fill="#92c5de"/>
<path d="M763.0,942.9 760.6,941.6 760.6,941.5 763.7,937.6 764.8,935.8 767.5,935.8 767.9,939.7 771.6,939.4 771.0,942.9 774.4,945.0 774.4,950.3 769.2,948.2Z" fill="#f7f7f7"/>
<path d="M750.3,928.7 748.8,927.2 753.1,924.5 753.1,921.3 757.5,922.0 761.0,922.0 763.4,923.4 765.8,924.1 769.2,922.0 771.0,925.9 772.7,929.8 773.0,935.8 771.6,939.4 767.9,939.7 767.5,935.8 764.8,935.8 763.4,933.0 761.7,930.5 757.9,930.9 754.4,934.0 754.4,932.3Z" fill="#f7f7f7"/>
<path d="M786.4,947.1 774.4,950.3 774.4,945.0 771.0,942.9 771.6,939.4 773.0,935.8 772.7,929.8 776.5,929.4 781.3,929.1 782.3,929.4 784.7,931.6 790.9,932.3 790.2,937.9 789.2,943.6 790.6,947.8 790.3,948.0 789.9,947.8Z" fill="#4393c3"/>
<path d="M796.1,947.8 793.3,948.9 790.6,948.1 790.6,947.8 789.2,943.6 790.2,937.9 790.9,932.3 790.6,927.0 800.2,926.6 799.9,928.0 801.6,932.3 801.9,936.5 802.6,941.1 804.3,944.3 800.2,945.7Z" fill="#f7f7f7"/>
<path d="M801.9,936.5 801.6,932.3 799.9,928.0 800.2,926.6 803.3,927.0 803.0,930.5 805.4,932.6 805.7,944.0 804.3,944.3 802.6,941.1Z" fill="#d1e5f0"/>
<path d="M805.7,944.0 805.7,944.0 805.4,932.6 803.0,930.5 803.3,927.0 808.5,923.8 812.6,924.5 813.3,928.7 809.5,934.0 809.5,943.2 807.9,943.5 807.1,943.6Z" fill="#d1e5f0"/>
<path d="M821.2,950.7 818.1,946.1 815.7,943.6 811.9,943.2 809.4,943.4 809.5,943.2 809.5,934.0 813.3,928.7 812.6,924.5 814.3,918.1 820.8,917.4 827.0,918.8 831.2,920.6 837.0,918.5 842.5,919.5 847.0,917.4 849.0,922.7 847.0,928.4 844.2,934.7 840.8,941.1 836.7,941.1 833.6,943.6 829.4,949.6 828.3,950.0 826.0,950.0Z" fill="#2166ac"/>
<path d="M785.4,920.9 785.4,919.2 789.9,917.8 793.3,915.6 795.0,914.2 800.9,913.2 801.6,916.3 803.6,919.9 807.8,921.3 808.5,923.8 803.3,927.0 800.2,926.6 790.6,927.0 790.9,932.3 784.7,931.6 782.3,929.4 781.3,929.1 782.0,924.1Z" fill="#92c5de"/>
<path d="M803.6,919.9 801.6,916.3 800.9,913.2 804.7,911.7 812.2,911.7 814.6,906.4 814.6,897.9 820.2,897.2 841.5,882.7 849.0,885.9 854.9,884.5 854.9,893.7 852.5,895.1 853.5,906.4 851.8,911.7 847.0,917.4 842.5,919.5 837.0,918.5 831.2,920.6 827.0,918.8 820.8,917.4 814.3,918.1 812.6,924.5 808.5,923.8 807.8,921.3Z" fill="#4393c3"/>
<path d="M781.3,907.8 779.6,890.5 783.7,877.4 804.3,891.6 806.4,894.0 811.2,895.8 811.6,898.6 814.6,897.9 814.6,906.4 812.2,911.7 804.7,911.7 800.9,913.2 795.0,914.2 793.3,915.6 789.9,917.8 785.4,919.2 785.4,920.9 782.0,924.1 781.3,929.1 776.5,929.4 772.7,929.8 771.0,925.9 769.2,922.0 765.8,924.1 763.4,923.4 761.0,922.0 758.2,913.9 761.3,911.4Z" fill="#2166ac"/>
<path d="M835.6,835.6 838.4,834.9 836.3,838.5 838.4,841.3 834.9,844.5 834.6,846.2 838.4,848.4 839.8,848.7 837.7,852.6 835.3,856.5 832.9,859.0 831.5,852.3 828.1,848.7 826.3,845.9 828.8,843.4 828.8,838.5 829.8,835.3 833.9,833.9Z" fill="#67001f"/>
<path d="M801.9,838.5 808.7,836.2 812.2,835.7 817.4,836.0 822.6,834.9 829.8,835.3 828.8,838.5 828.8,843.4 826.3,845.9 828.1,848.7 831.5,852.3 832.9,859.0 834.3,863.2 833.9,870.3 832.5,873.2 834.6,876.3 837.7,878.8 839.8,879.9 841.5,882.7 820.2,897.2 814.6,897.9 811.6,898.6 811.2,895.8 806.4,894.0 804.3,891.6 783.7,877.4 770.3,869.3 770.3,867.9 770.3,864.3 775.4,861.5 780.9,861.1 783.7,859.3 787.8,856.9 787.5,854.7 790.2,853.0 795.7,852.3 794.0,847.0 794.4,842.7 792.6,841.6 796.8,839.5Z" fill="#d6604d"/>
<path d="M852.5,851.6 854.6,854.7 860.4,856.2 865.6,858.6 869.3,856.2 869.0,852.3 874.2,849.4 879.3,850.5 882.8,852.6 886.9,854.0 885.2,859.0 886.2,859.7 886.2,888.0 886.2,895.1 882.8,895.1 882.8,896.9 865.6,889.8 854.9,884.5 849.0,885.9 841.5,882.7 839.8,879.9 837.7,878.8 834.6,876.3 832.5,873.2 833.9,870.3 834.3,863.2 832.9,859.0 835.3,856.5 837.7,852.6 839.8,848.7 845.6,849.4Z" fill="#b2182b"/>
<path d="M900.0,856.5 903.4,855.1 908.6,854.4 911.3,855.1 917.8,855.1 920.3,861.5 918.2,867.5 913.7,863.9 912.3,860.1 912.0,861.5 915.8,869.6 918.9,875.6 922.3,881.3 923.0,884.8 927.1,888.0 886.2,888.0 886.2,859.7 885.2,859.0 886.9,854.0 893.1,855.1Z" fill="#d6604d"/>
<path d="M939.5,913.2 943.6,918.1 946.8,921.3 946.1,921.6 943.3,918.5 940.6,916.3 938.1,914.6 934.7,913.9 932.3,914.6 930.6,913.2 925.8,915.3 927.5,905.7 932.7,902.4 935.4,910.0Z" fill="#fddbc7"/>
<path d="M949.2,924.1 947.4,925.2 948.5,926.3 947.8,927.0 946.7,927.0 944.0,925.2 944.0,922.4 946.1,921.6 946.8,921.3 947.1,921.6Z" fill="#d1e5f0"/>
<path d="M928.5,896.5 932.6,902.2 932.7,902.4 927.5,905.7 925.8,915.3 924.4,920.9 921.3,925.2 919.2,927.3 918.2,928.4 917.5,932.3 914.4,929.8 912.7,922.7 910.6,924.1 906.8,931.2 902.0,931.6 896.5,932.6 891.7,932.3 889.0,929.1 884.5,934.7 881.7,935.1 881.4,930.9 879.0,927.3 876.2,919.9 877.3,916.0 879.0,911.4 882.8,910.3 882.8,896.9 882.8,895.1 886.2,895.1 886.2,888.0 927.1,888.0 928.2,891.6Z" fill="#b2182b"/>
<path d="M913.7,938.3 917.2,942.9 920.6,946.4 923.7,949.6 917.2,951.0 915.4,952.8 909.9,953.2 906.2,953.5 902.0,949.6 897.9,950.7 894.5,947.5 891.0,942.9 887.2,939.0 883.4,936.9 881.7,935.1 884.5,934.7 889.0,929.1 891.7,932.3 896.5,932.6 902.0,931.6 906.8,931.2 910.6,924.1 912.7,922.7 914.4,929.8 917.5,932.3 916.8,936.2Z" fill="#fddbc7"/>
<path d="M932.3,914.6 934.7,913.9 938.1,914.6 940.6,916.3 943.3,918.5 946.1,921.6 944.0,922.4 944.0,925.2 946.7,927.0 947.8,927.0 948.8,931.9 951.6,934.0 965.0,937.6 955.0,948.2 950.2,948.9 945.0,951.0 944.3,952.1 940.6,950.7 937.1,953.5 932.6,953.2 927.1,950.0 923.7,949.6 920.6,946.4 917.2,942.9 913.7,938.3 916.8,936.2 917.5,932.3 918.2,928.4 919.2,927.3 921.3,925.2 924.4,920.9 925.8,915.3 930.6,913.2Z" fill="#d1e5f0"/>
<path d="M951.6,929.1 955.0,928.7 961.9,926.6 968.8,925.9 976.3,924.1 976.3,929.1 975.0,932.3 971.5,941.1 967.0,948.2 961.9,955.3 956.0,958.8 949.8,962.7 944.7,967.7 943.1,971.5 941.2,965.9 941.2,956.0 944.3,952.1 945.0,951.0 950.2,948.9 955.0,948.2 965.0,937.6 951.6,934.0 948.8,931.9 947.8,927.0 948.5,926.3 949.2,927.0Z" fill="#f4a582"/>
<path d="M938.1,976.5 936.8,980.4 935.0,982.5 929.9,978.3 929.5,976.5 917.2,969.4 917.2,964.1 920.6,959.2 915.4,952.8 917.2,951.0 923.7,949.6 927.1,950.0 932.6,953.2 937.1,953.5 940.6,950.7 944.3,952.1 941.2,956.0 941.2,965.9 943.1,971.5 943.0,971.9Z" fill="#d1e5f0"/>
<path d="M915.4,952.8 920.6,959.2 917.2,964.1 917.2,969.4 905.1,969.4 902.0,970.9 903.1,965.9 903.1,963.1 907.9,958.1 906.2,953.5 909.9,953.2Z" fill="#d6604d"/>
<path d="M905.1,969.4 906.5,974.4 905.1,975.8 900.0,975.8 902.0,970.9Z" fill="#f4a582"/>
<path d="M906.2,978.3 901.7,981.8 900.6,979.4 900.0,975.8 905.1,975.8Z" fill="#f7f7f7"/>
<path d="M936.1,994.2 936.8,1001.3 939.2,1003.1 929.2,1007.3 922.3,1006.3 918.9,1006.6 916.5,999.9 913.4,999.2 905.1,994.9 902.0,987.1 901.7,981.8 906.2,978.3 905.1,975.8 906.5,974.4 905.1,969.4 917.2,969.4 929.5,976.5 929.9,978.3 935.0,982.5 933.7,988.9Z" fill="#fddbc7"/>
<path d="M918.9,1006.6 919.2,1007.0 919.6,1008.7 919.2,1013.7 921.6,1016.5 923.7,1018.6 923.4,1022.9 921.3,1026.4 918.2,1023.2 918.9,1019.0 914.4,1015.5 912.7,1013.7 914.8,1010.1 914.8,1004.5 913.7,1000.2 913.4,999.2 916.5,999.9Z" fill="#fddbc7"/>
<path d="M940.5,1017.7 939.7,1019.5 936.1,1024.7 927.5,1028.9 922.3,1034.2 919.9,1036.7 921.6,1043.8 922.3,1050.2 913.7,1055.1 912.3,1057.9 913.4,1061.1 910.3,1060.8 910.3,1057.6 910.3,1052.6 907.9,1045.2 912.7,1038.5 913.4,1031.4 913.4,1025.0 904.1,1021.1 913.7,1015.5 914.4,1015.5 918.9,1019.0 918.2,1023.2 921.3,1026.4 923.4,1022.9 923.7,1018.6 921.6,1016.5 919.2,1013.7 919.6,1008.7 919.2,1007.0 922.3,1006.3 929.2,1007.3 939.2,1003.1 939.9,1011.6Z" fill="#f4a582"/>
<path d="M913.7,1000.2 914.8,1004.5 914.8,1010.1 912.7,1013.7 914.4,1015.5 913.7,1015.5 904.1,1021.1 900.0,1022.5 896.5,1025.4 892.4,1029.6 886.9,1028.9 880.4,1028.2 875.9,1024.3 875.9,1011.9 882.8,1011.9 882.8,1004.8 887.2,1005.5 889.6,1008.0 893.8,1007.0 898.2,1010.9 900.0,1013.3 902.7,1013.3 902.7,1009.1 898.6,1004.8 898.6,999.5 899.6,996.0 905.1,994.9 913.4,999.2Z" fill="#fddbc7"/>
<path d="M913.4,1031.4 912.7,1038.5 907.9,1045.2 901.3,1044.5 896.5,1042.0 894.1,1038.5 889.6,1033.2 886.9,1028.9 892.4,1029.6 896.5,1025.4 900.0,1022.5 904.1,1021.1 913.4,1025.0Z" fill="#4393c3"/>
<path d="M901.3,1069.6 900.0,1072.8 897.2,1074.2 894.5,1073.2 893.1,1070.7 896.5,1067.9Z" fill="#b2182b"/>
<path d="M910.3,1059.2 910.3,1060.8 910.6,1060.8 907.5,1062.5 906.2,1059.4 906.8,1057.2 909.9,1057.6Z" fill="#d6604d"/>
<path d="M872.4,1043.8 872.4,1029.6 880.4,1028.2 886.9,1028.9 889.6,1033.2 894.1,1038.5 896.5,1042.0 901.3,1044.5 896.5,1045.9 893.1,1049.4 889.6,1053.3 886.2,1056.9 879.3,1055.5 874.8,1060.8 871.8,1060.8 869.0,1053.7 869.0,1043.8Z" fill="#f4a582"/>
<path d="M850.1,1047.0 846.6,1040.2 840.8,1027.1 848.0,1027.5 863.8,1027.5 872.4,1029.6 872.4,1030.7 872.4,1043.8 869.0,1043.8 869.0,1053.7 869.0,1066.4 865.6,1068.2 860.1,1067.5 857.0,1067.1 852.5,1061.5Z" fill="#f4a582"/>
<path d="M906.8,1071.4 903.4,1076.7 896.5,1082.0 888.3,1086.3 879.3,1086.6 875.9,1087.0 869.0,1089.1 864.9,1087.3 863.5,1087.0 863.5,1085.9 862.1,1082.0 859.7,1073.9 857.0,1067.1 860.1,1067.5 865.6,1068.2 869.0,1066.4 869.0,1053.7 871.8,1060.8 874.8,1060.8 879.3,1055.5 886.2,1056.9 889.6,1053.3 893.1,1049.4 896.5,1045.9 901.3,1044.5 907.9,1045.2 910.3,1052.6 910.3,1057.6 910.3,1059.2 909.9,1057.6 906.8,1057.2 906.2,1059.4 907.5,1062.5 910.6,1060.8 910.3,1060.8 913.4,1061.1 911.7,1067.1ZM894.5,1073.2 897.2,1074.2 900.0,1072.8 901.3,1069.6 896.5,1067.9 893.1,1070.7Z" fill="#fddbc7"/>
<path d="M846.6,1009.4 845.6,997.1 842.5,987.5 845.6,986.8 857.3,987.1 860.7,993.5 862.1,994.6 867.3,993.9 870.0,990.3 871.1,991.7 875.2,991.7 876.6,1000.9 876.9,1005.5 882.8,1004.8 882.8,1011.9 875.9,1011.9 875.9,1024.3 880.4,1028.2 872.4,1029.6 863.8,1027.5 848.0,1027.5 840.8,1027.1 841.5,1022.2 843.2,1013.7ZM842.2,986.4 840.8,983.6 841.5,981.5 845.3,982.2 844.6,986.4Z" fill="#f4a582"/>
<path d="M839.1,958.1 839.1,962.4 832.9,962.4 833.9,957.8Z" fill="#f4a582"/>
<path d="M832.2,968.0 832.9,962.4 839.1,962.4 839.1,958.1 846.0,958.1 844.9,960.9 849.4,961.3 850.1,967.7 849.4,971.9 846.6,974.4 843.2,972.6 840.1,974.0 840.4,977.6 838.4,979.7 832.9,973.0Z" fill="#d6604d"/>
<path d="M840.1,974.0 843.2,972.6 846.6,974.4 849.4,971.9 850.1,967.7 849.4,961.3 844.9,960.9 846.0,958.1 850.1,958.1 855.9,958.1 857.0,953.5 864.2,953.5 862.1,957.8 861.1,965.9 858.0,970.1 855.9,974.0 854.9,979.7 852.5,981.1 849.7,981.1 845.3,982.2 841.5,981.5 840.8,983.6 838.4,979.7 840.4,977.6Z" fill="#f4a582"/>
<path d="M830.8,950.0 829.4,949.6 833.6,943.6 836.7,941.1 840.8,941.1 844.2,934.7 847.0,928.4 849.0,922.7 849.0,920.2 851.8,923.4 852.1,927.3 853.9,930.5 849.0,932.3 853.5,938.6 853.5,939.4 850.4,945.0 850.8,951.0 855.6,958.1 850.1,958.1 846.0,958.1 839.1,958.1 833.9,957.8 833.6,952.4Z" fill="#d1e5f0"/>
<path d="M857.3,938.3 864.2,937.6 865.6,934.0 870.7,933.0 874.8,928.4 879.0,927.3 881.4,930.9 881.7,935.1 883.4,936.9 887.2,939.0 891.0,942.9 894.5,947.5 887.9,947.1 884.1,947.8 879.0,948.9 877.3,951.4 870.7,950.3 866.9,947.8 863.8,950.7 864.2,953.5 857.0,953.5 855.6,958.1 850.8,951.0 850.4,945.0 853.5,939.4Z" fill="#f4a582"/>
<path d="M849.0,922.7 847.0,917.4 851.8,911.7 853.5,906.4 852.5,895.1 854.9,893.7 854.9,884.5 865.6,889.8 882.8,896.9 882.8,910.3 879.0,911.4 877.3,916.0 876.2,919.9 879.0,927.3 874.8,928.4 870.7,933.0 865.6,934.0 864.2,937.6 857.3,938.3 853.5,938.6 849.0,932.3 853.9,930.5 852.1,927.3 851.8,923.4 849.0,920.2Z" fill="#f7f7f7"/>
<path d="M922.3,1006.3 919.2,1007.0 918.9,1006.6ZM838.4,979.7 840.8,983.6 842.2,986.4ZM849.7,981.1 852.5,981.1 854.9,979.7 855.9,974.0 858.0,970.1 861.1,965.9 862.1,957.8 864.2,953.5 863.8,950.7 866.9,947.8 870.7,950.3 877.3,951.4 879.0,948.9 884.1,947.8 887.9,947.1 894.5,947.5 897.9,950.7 902.0,949.6 906.2,953.5 907.9,958.1 903.1,963.1 903.1,965.9 902.0,970.9 900.0,975.8 900.6,979.4 901.7,981.8 902.0,987.1 905.1,994.9 899.6,996.0 898.6,999.5 898.6,1004.8 902.7,1009.1 902.7,1013.3 900.0,1013.3 898.2,1010.9 893.8,1007.0 889.6,1008.0 887.2,1005.5 882.8,1004.8 876.9,1005.5 876.6,1000.9 875.2,991.7 871.1,991.7 870.0,990.3 867.3,993.9 862.1,994.6 860.7,993.5 857.3,987.1 845.6,986.8 842.5,987.5 842.2,986.4 844.6,986.4 845.3,982.2ZM943.0,971.9 943.1,971.5 944.7,967.7ZM857.0,953.5 855.9,958.1 855.6,958.1ZM828.3,950.0 829.4,949.6 830.8,950.0ZM853.5,939.4 853.5,938.6 857.3,938.3Z" fill="#f4a582"/>
<path d="M973.9,1020.8 971.5,1026.1 965.3,1043.8 962.2,1054.0 955.7,1056.5 950.5,1049.1 949.2,1043.1 952.9,1036.7 951.6,1029.6 952.6,1024.3 960.2,1021.8 965.0,1015.5 968.1,1011.9 969.8,1008.4Z" fill="#f4a582"/>
</g>
<clipPath id="cp2"><rect x="0" y="1275.6" width="1429" height="620"/></clipPath>
<g clip-path="url(#cp2)" stroke="#333" stroke-width="0.75" stroke-linejoin="round">
<path d="M562.9,1294.1 570.5,1291.4 580.5,1289.1 592.2,1286.4 617.3,1284.7 642.7,1282.2 676.1,1280.1 709.8,1281.5 726.7,1282.9 734.9,1286.4 760.0,1286.8 739.4,1292.4 731.5,1298.8 734.9,1307.0 723.6,1314.7 726.7,1322.9 721.8,1327.8 702.6,1331.0 686.4,1335.6 670.6,1345.5 657.5,1355.1 651.3,1363.2 644.8,1361.5 632.1,1353.3 622.1,1343.8 617.3,1335.6 618.6,1329.3 612.5,1326.1 610.7,1319.7 605.9,1311.9 594.9,1307.0 573.9,1305.2 551.9,1298.1Z" fill="#d1e5f0"/>
<path d="M726.3,1340.9 740.1,1341.7 750.4,1340.6 755.2,1345.5 752.1,1348.0 740.1,1351.6 733.2,1350.9 723.9,1350.1 726.3,1347.7 719.4,1346.3 717.7,1344.1Z" fill="#d1e5f0"/>
<path d="M790.0,1395.1 791.7,1394.0 788.2,1393.3 784.1,1392.6 787.6,1390.2 786.2,1387.3 791.7,1386.6 791.0,1384.1 789.6,1381.7 784.8,1382.4 785.1,1381.3 783.8,1378.5 782.4,1376.0 783.1,1372.5 784.8,1368.6 791.3,1368.6 790.0,1371.7 795.8,1372.1 795.1,1373.9 793.4,1376.0 791.7,1377.8 795.1,1378.5 796.8,1381.3 800.3,1383.1 802.3,1386.3 803.0,1388.4 807.8,1389.4 807.5,1391.9 805.1,1393.7 806.8,1394.8 802.7,1396.2 796.8,1396.5 791.7,1396.5 787.6,1397.6 782.4,1398.6 786.5,1395.5ZM781.7,1382.7 783.1,1383.8 782.4,1384.2 781.0,1384.8 778.6,1384.5 775.9,1384.5 773.8,1383.1 774.5,1382.4 776.9,1381.3 776.9,1379.9 780.7,1380.6Z" fill="#f7f7f7"/>
<path d="M378.9,1405.0 378.8,1405.0 378.8,1404.9ZM371.3,1398.6 376.1,1401.8 377.5,1404.7 370.3,1402.9 365.1,1399.0 360.3,1396.2 364.4,1395.8ZM377.2,1330.3 389.2,1330.3 399.5,1332.1 406.4,1336.0 416.7,1336.0 423.6,1335.3 430.5,1334.6 435.6,1334.2 444.2,1335.3 454.6,1336.0 463.2,1336.0 466.5,1334.4 464.9,1334.6 459.7,1332.4 458.0,1330.0 471.8,1330.0 473.2,1333.0 476.9,1330.0 478.6,1321.8 483.8,1324.7 489.0,1328.2 495.8,1331.0 499.3,1334.2 504.4,1335.3 507.9,1328.9 518.2,1329.6 521.6,1334.2 518.2,1338.8 507.9,1340.6 504.4,1340.6 499.3,1348.7 490.7,1351.2 480.4,1357.2 476.2,1367.1 483.8,1374.2 497.6,1376.0 509.6,1380.6 518.9,1380.9 519.2,1388.4 523.4,1394.4 529.2,1393.7 531.3,1390.2 530.2,1383.1 537.1,1379.5 535.4,1370.7 532.0,1365.4 535.4,1361.8 533.7,1355.5 547.4,1355.8 556.0,1359.4 561.2,1365.4 566.4,1368.9 575.0,1367.8 580.1,1362.5 583.6,1368.9 589.4,1376.0 595.6,1381.3 604.2,1384.8 610.0,1390.2 607.6,1393.7 600.8,1394.8 595.6,1398.3 581.8,1398.3 573.2,1399.0 566.4,1401.8 559.5,1409.6 564.6,1406.8 575.0,1402.2 581.2,1403.2 578.4,1406.8 579.1,1409.6 581.8,1412.5 588.7,1414.2 595.6,1412.5 593.9,1414.9 583.6,1418.1 576.7,1422.0 575.0,1418.5 580.1,1415.6 575.0,1416.0 571.8,1417.3 571.5,1416.7 568.8,1414.6 568.8,1409.3 567.4,1408.6 564.0,1408.2 561.2,1411.4 558.8,1414.9 556.0,1416.7 545.0,1416.7 539.5,1419.5 529.6,1422.0 530.1,1422.9 516.1,1427.3 518.2,1425.2 518.5,1423.8 519.2,1418.5 514.8,1413.9 512.0,1411.4 509.6,1409.6 499.3,1405.4 493.8,1406.1 489.6,1405.4 483.8,1404.7 479.3,1404.3 476.2,1403.2 474.5,1402.5 378.5,1402.5 373.7,1399.7 368.6,1396.2 363.4,1393.7 360.0,1390.2 354.8,1384.8 353.1,1382.4 352.9,1382.2 354.8,1380.2 354.8,1378.1 348.6,1376.0 342.8,1368.9 337.6,1364.3 332.4,1365.4 329.0,1366.4 323.8,1363.6 317.0,1362.5 317.0,1329.4 327.3,1331.0 334.2,1332.1 339.3,1330.0 347.9,1329.6 358.2,1328.2 368.6,1330.0 373.7,1327.8ZM471.8,1334.2 472.5,1333.6 470.3,1333.9ZM412.2,1333.5 399.5,1328.6 395.4,1325.0 393.8,1321.2 387.1,1322.5 378.5,1323.6 369.2,1320.4 374.4,1312.3 389.5,1311.9 402.3,1315.1 400.8,1317.7 403.6,1316.5 420.5,1318.3 430.8,1316.5 441.5,1315.8 442.5,1321.5 454.2,1328.6 450.1,1332.4 433.2,1332.4ZM466.6,1322.9 456.3,1321.8 451.1,1319.3 449.1,1315.8 461.4,1314.4 469.0,1317.6ZM481.0,1308.0 480.4,1311.2 471.8,1311.2 471.8,1307.3ZM425.7,1304.1 438.4,1307.3 420.5,1310.9 408.8,1311.6 397.8,1309.1 379.6,1306.3 403.6,1301.7ZM454.6,1304.5 468.3,1302.7 469.0,1308.7 458.0,1309.4 452.8,1307.0ZM413.3,1301.7 407.4,1299.2 412.7,1298.5 412.2,1298.1 420.2,1296.3 422.0,1297.3 423.6,1297.0 424.5,1298.6 424.5,1298.6 425.7,1299.2 425.0,1299.4 425.7,1300.6 418.3,1301.2 416.7,1301.7 416.4,1301.4ZM461.4,1294.6 462.5,1298.8 447.7,1300.2 439.1,1295.6ZM535.4,1549.5 534.9,1549.0 535.7,1547.8ZM535.9,1546.9 536.0,1545.5 536.1,1545.6ZM501.0,1530.3 500.9,1530.3 501.7,1530.0 501.2,1530.6ZM498.0,1519.8 498.7,1520.0 498.6,1520.4 496.2,1519.7ZM609.4,1407.8 598.0,1407.5 599.0,1404.3 605.9,1395.5 611.1,1393.3 611.1,1399.7 618.0,1402.5 620.7,1407.5 619.7,1411.0 611.1,1410.0ZM504.4,1347.7 506.2,1344.1 514.8,1342.4 523.4,1345.9 526.8,1349.4 523.4,1351.2 513.0,1350.1ZM550.9,1337.0 540.6,1333.5 533.7,1328.2 526.8,1326.4 509.6,1328.2 495.8,1322.9 513.0,1315.8 526.8,1315.1 538.8,1315.8 536.9,1317.4 540.6,1318.3 549.2,1322.9 557.8,1326.4 566.4,1327.5 571.5,1331.0 573.2,1335.3 585.3,1338.8 590.4,1340.6 587.0,1345.9 578.4,1354.8 573.2,1356.9 557.8,1353.7 552.6,1351.2 547.4,1347.7 535.4,1347.7 532.0,1344.1 547.4,1344.1 549.2,1340.6ZM471.8,1314.4 490.7,1313.3 490.7,1319.3 480.4,1321.1 473.5,1319.0ZM526.8,1312.3 485.5,1312.3 482.1,1307.0 509.6,1305.2 526.8,1307.0ZM592.2,1285.0 575.0,1291.0 561.2,1294.6 542.3,1298.1 532.0,1304.1 526.8,1306.3 492.4,1303.4 499.3,1298.1 497.6,1297.3 489.0,1298.8 475.2,1296.3 468.3,1291.0 485.5,1288.2 488.5,1288.6 509.6,1284.0 544.0,1282.2 581.8,1282.9Z" fill="#fddbc7"/>
<path d="M515.8,1494.2 526.5,1495.3 533.3,1497.1 540.2,1501.3 546.8,1504.5 535.4,1505.6 534.7,1503.4 531.3,1501.3 522.7,1497.8 517.2,1497.1 509.9,1498.5Z" fill="#4393c3"/>
<path d="M535.4,1510.5 539.5,1511.6 538.8,1512.6 536.4,1513.3 533.0,1511.6 532.5,1510.9Z" fill="#92c5de"/>
<path d="M576.3,1511.2 575.6,1512.3 570.8,1512.3 570.8,1510.5Z" fill="#2166ac"/>
<path d="M551.9,1508.7 549.5,1505.9 554.3,1505.6 555.4,1505.5 555.4,1512.7 553.6,1511.6 549.2,1511.9 546.1,1510.9 550.9,1510.5Z" fill="#d6604d"/>
<path d="M557.8,1505.4 563.3,1507.7 566.7,1510.2 561.9,1511.6 556.4,1513.3 553.6,1511.6 555.4,1512.7 555.4,1505.5Z" fill="#f7f7f7"/>
<path d="M1254.4,1464.5 1251.6,1466.3 1249.9,1465.2 1248.5,1460.2 1248.5,1458.1 1252.3,1456.0 1255.0,1458.1ZM1265.4,1456.3 1259.5,1460.2 1257.8,1459.2 1258.8,1455.6 1264.7,1454.9ZM1259.5,1450.3 1267.8,1450.0 1270.5,1448.6 1273.3,1443.2 1274.3,1445.7 1281.2,1440.8 1282.9,1436.2 1283.6,1432.6 1284.6,1430.2 1288.4,1429.4 1288.8,1432.6 1290.1,1436.2 1288.8,1440.4 1287.0,1442.2 1285.7,1446.8 1286.4,1449.6 1284.3,1452.1 1279.5,1453.2 1277.4,1453.5 1273.3,1453.2 1272.9,1454.6 1269.2,1457.4 1266.7,1454.6 1267.1,1453.2 1261.2,1453.9 1256.1,1454.6 1252.3,1455.6 1252.3,1454.6 1254.4,1453.2ZM1289.1,1420.2 1290.5,1414.9 1300.8,1419.9 1302.5,1422.7 1295.0,1427.3 1287.7,1428.0 1283.6,1429.1 1283.3,1426.3 1285.0,1422.7Z" fill="#4393c3"/>
<path d="M975.4,1433.0 975.0,1433.2 975.1,1432.8ZM1046.2,1426.3 1045.9,1426.6 1039.4,1429.4ZM982.9,1428.0 977.4,1423.1 977.1,1422.4 984.3,1427.3ZM917.2,1418.5 915.2,1416.6 915.5,1416.7 919.0,1418.5ZM905.1,1414.6 904.5,1415.5 904.4,1415.2ZM874.9,1380.6 880.1,1381.7 880.4,1383.4 869.4,1383.4 872.5,1381.7 873.5,1380.4ZM213.8,1339.5 217.9,1342.4 213.8,1344.1 206.9,1348.4 198.3,1347.3 189.7,1344.1 182.8,1345.9 182.8,1332.1 193.1,1331.7 203.4,1338.8ZM188.0,1325.0 182.8,1325.0 182.8,1322.9 191.4,1324.0ZM980.9,1319.3 986.0,1315.8 994.6,1310.5 1008.4,1305.2 1032.5,1302.7 1037.6,1303.8 1011.8,1309.4 999.8,1314.7 992.9,1321.1 998.1,1326.1 986.0,1325.4 979.2,1322.9ZM994.6,1291.7 980.9,1292.8 963.7,1291.7 980.9,1290.0ZM1025.6,1290.0 1015.3,1291.7 998.1,1290.7 1008.4,1288.6ZM1077.9,1425.5 1077.8,1425.6 1077.2,1416.7 1085.8,1414.9ZM1312.8,1414.9 1313.9,1415.3 1309.4,1418.5 1304.2,1420.9 1306.0,1418.1ZM1315.6,1412.5 1320.8,1409.6 1321.4,1410.3 1316.3,1413.2ZM1329.0,1404.3 1330.0,1405.0 1324.9,1408.9 1324.2,1408.2ZM1338.0,1396.5 1338.6,1397.2 1333.5,1401.8 1332.8,1401.1ZM1289.8,1386.6 1292.5,1383.8 1294.6,1386.6 1293.9,1393.7 1299.8,1402.9 1295.0,1401.5 1295.6,1411.4 1290.5,1413.2 1289.8,1406.1 1291.2,1395.5ZM1398.2,1389.8 1395.1,1389.4 1395.4,1388.4 1398.8,1388.7ZM906.9,1348.4 904.2,1346.6 905.5,1343.4 902.1,1339.2 905.2,1336.3 900.0,1333.5 901.4,1331.6 908.0,1328.9 915.5,1330.3 925.8,1331.7 936.2,1335.3 943.0,1338.1 937.9,1342.0 920.7,1340.6 913.8,1338.5 921.7,1347.7 929.3,1349.8 937.9,1347.7 941.3,1347.7 944.8,1341.7 952.7,1341.3 953.4,1333.5 960.2,1334.6 967.1,1336.3 984.3,1335.3 987.8,1333.5 1001.5,1332.8 1008.4,1331.7 1011.2,1328.9 1022.2,1330.3 1029.0,1331.0 1032.5,1333.5 1037.6,1334.6 1035.9,1330.0 1031.4,1325.4 1033.2,1322.9 1039.4,1318.3 1042.8,1315.8 1048.0,1317.9 1051.4,1321.1 1052.4,1325.4 1054.8,1333.5 1051.4,1340.6 1056.6,1338.8 1060.0,1337.0 1054.8,1331.7 1058.3,1324.7 1065.2,1321.1 1072.0,1319.7 1078.9,1315.8 1084.1,1315.5 1097.8,1314.7 1101.3,1310.5 1111.6,1308.4 1125.4,1307.0 1139.1,1305.9 1146.0,1305.2 1160.8,1300.9 1166.6,1302.4 1171.8,1305.2 1183.8,1304.5 1192.4,1307.7 1190.7,1308.7 1192.4,1315.1 1207.9,1315.8 1225.1,1317.6 1238.9,1315.8 1245.8,1319.3 1252.6,1324.7 1259.5,1322.9 1269.8,1322.9 1280.2,1321.1 1287.0,1318.3 1304.2,1320.1 1318.0,1322.9 1324.9,1325.0 1335.2,1324.7 1352.4,1326.4 1359.3,1329.3 1376.5,1329.3 1386.8,1327.8 1397.1,1328.9 1407.4,1328.9 1416.0,1330.7 1421.2,1332.1 1421.2,1345.9 1416.0,1347.7 1410.9,1354.8 1398.8,1357.2 1388.5,1363.6 1373.0,1362.5 1364.4,1364.3 1362.7,1370.7 1359.3,1372.5 1363.4,1377.8 1359.3,1383.1 1352.4,1387.7 1347.2,1390.2 1341.0,1395.5 1338.6,1390.2 1337.3,1381.3 1340.4,1372.5 1347.2,1370.7 1352.4,1362.5 1357.6,1360.8 1349.0,1357.6 1338.6,1358.3 1331.8,1365.4 1319.7,1365.4 1307.7,1366.1 1293.9,1366.1 1285.3,1372.5 1276.7,1377.8 1273.3,1384.8 1285.3,1386.6 1288.4,1390.2 1285.3,1397.2 1284.3,1404.3 1278.4,1409.6 1268.1,1420.2 1259.5,1424.5 1255.4,1423.4 1251.6,1426.3 1250.6,1424.8 1253.3,1423.8 1252.6,1417.1 1261.2,1414.9 1265.7,1405.0 1257.8,1407.1 1250.9,1402.9 1240.6,1399.0 1235.4,1389.1 1226.8,1386.6 1217.6,1389.8 1213.1,1397.9 1207.2,1400.8 1203.1,1399.4 1195.9,1398.3 1182.1,1401.8 1173.5,1400.8 1168.4,1397.9 1156.3,1397.9 1153.6,1394.4 1146.0,1393.0 1139.8,1393.7 1138.4,1397.6 1130.5,1399.4 1125.4,1398.3 1116.8,1397.2 1109.9,1399.7 1104.0,1401.8 1102.3,1402.2 1100.6,1399.7 1094.4,1399.0 1089.2,1395.5 1084.1,1396.2 1077.2,1395.5 1070.0,1387.3 1065.2,1384.8 1054.5,1386.6 1045.6,1380.9 1039.4,1379.9 1025.6,1382.7 1013.6,1384.8 1011.8,1388.4 1008.4,1391.9 1011.8,1391.9 1013.2,1396.2 1005.0,1396.9 998.1,1395.1 991.2,1396.2 981.9,1392.6 975.7,1393.7 969.5,1396.9 965.4,1397.6 962.3,1402.5 962.3,1404.3 965.4,1414.2 970.6,1411.4 965.7,1414.6 963.7,1417.4 965.4,1420.2 965.4,1423.8 968.8,1427.3 969.3,1428.1 969.2,1428.0 966.4,1430.2 962.0,1427.7 959.2,1427.3 956.8,1425.2 952.7,1425.2 948.2,1423.4 944.8,1423.1 939.6,1422.4 939.2,1422.7 938.6,1422.0 932.7,1418.8 931.0,1417.4 928.2,1416.0 928.6,1415.6 930.3,1413.4 932.7,1411.4 937.2,1408.9 933.7,1409.1 938.6,1406.8 939.6,1402.5 936.8,1399.4 932.7,1399.0 924.1,1397.2 923.4,1395.1 920.0,1393.0 919.0,1390.9 916.2,1390.5 911.4,1391.6 909.7,1388.0 914.5,1387.3 911.4,1384.8 908.0,1379.2 899.0,1377.4 897.6,1373.2 896.3,1372.1 897.6,1370.7 896.3,1367.8 898.3,1365.4 903.5,1364.0 898.3,1361.8 897.5,1361.9 897.6,1361.8 901.8,1359.4 909.7,1355.1 910.7,1353.3 905.2,1350.1ZM1421.2,1322.9 1421.2,1325.0 1416.0,1325.4 1416.0,1322.9ZM1287.0,1307.0 1304.2,1309.4 1290.5,1314.7 1283.6,1314.0 1269.8,1312.3 1273.3,1307.7ZM1128.8,1288.6 1142.6,1291.0 1146.0,1295.3 1132.2,1296.3 1115.0,1294.6 1115.0,1291.0Z" fill="#d1e5f0"/>
<path d="M829.8,1370.2 829.1,1370.3 824.4,1370.0 821.3,1367.5 819.2,1362.2 818.2,1357.2 818.9,1355.8 824.4,1353.0 831.6,1349.4 837.1,1346.6 841.2,1343.4 845.3,1340.6 848.4,1337.0 851.9,1334.6 852.5,1334.2 848.4,1335.3 851.9,1333.5 855.8,1332.4 855.9,1332.4 856.0,1332.3 853.6,1332.8 857.0,1330.7 858.0,1331.2 862.2,1328.9 868.4,1327.1 876.0,1326.8 881.1,1325.0 884.6,1324.7 879.4,1326.1 882.8,1325.4 890.4,1324.3 898.3,1324.7 901.8,1326.4 908.6,1327.1 908.0,1328.9 901.4,1331.6 902.8,1330.0 899.7,1328.9 898.0,1327.9 892.5,1328.6 890.8,1331.7 887.7,1333.2 883.5,1332.8 879.1,1332.8 875.3,1330.7 872.7,1331.5 863.9,1333.5 858.8,1337.0 855.3,1341.3 851.9,1344.1 849.8,1347.7 843.6,1350.9 843.6,1354.4 846.4,1357.6 844.0,1360.1 845.0,1361.8 842.6,1364.3 840.5,1367.5 838.1,1366.4 838.8,1364.0 836.4,1367.1ZM860.5,1305.2 853.6,1303.4 839.8,1298.1 839.8,1293.9 853.6,1292.8 870.8,1291.0 894.9,1292.8 877.7,1298.1 867.4,1299.9Z" fill="#f7f7f7"/>
<path d="M1221.7,1487.5 1220.0,1492.8 1217.6,1498.1 1215.1,1494.6 1216.5,1489.3 1218.2,1486.4Z" fill="#2166ac"/>
<path d="M1181.4,1510.9 1178.7,1511.6 1175.9,1510.5 1175.6,1508.0 1182.1,1504.8 1183.8,1506.6ZM1206.9,1437.9 1209.6,1441.5 1211.4,1444.3 1217.2,1442.2 1223.4,1443.6 1215.8,1448.6 1213.1,1452.1 1216.5,1457.4 1218.2,1462.7 1221.3,1466.3 1220.0,1469.1 1221.7,1470.5 1220.0,1475.1 1216.5,1480.4 1213.1,1484.0 1209.6,1488.9 1204.5,1492.8 1195.9,1496.3 1192.4,1497.4 1185.6,1499.9 1182.1,1501.7 1180.4,1504.1 1179.7,1500.2 1175.2,1499.5 1173.7,1500.2 1173.5,1499.9 1169.0,1495.3 1164.9,1493.9 1159.8,1495.3 1156.3,1496.3 1153.6,1496.7 1151.8,1501.0 1150.0,1501.1 1146.3,1499.9 1142.6,1497.8 1144.3,1494.6 1141.9,1490.7 1138.1,1491.4 1137.7,1487.5 1141.5,1482.2 1141.5,1478.7 1136.7,1476.2 1132.9,1475.5 1130.5,1473.3 1125.4,1474.4 1118.5,1477.6 1117.1,1477.2 1111.6,1475.8 1110.5,1476.2 1109.9,1476.2 1107.8,1477.2 1105.1,1477.2 1097.8,1476.9 1091.6,1474.4 1085.8,1470.2 1080.6,1469.1 1073.8,1464.8 1072.4,1460.6 1075.5,1459.2 1073.1,1454.2 1070.3,1450.3 1069.6,1450.3 1066.5,1450.0 1061.7,1445.7 1058.7,1444.8 1059.7,1444.3 1059.7,1443.8 1060.0,1443.6 1059.7,1441.7 1059.7,1439.7 1055.9,1437.9 1055.7,1437.4 1055.9,1436.2 1055.2,1436.2 1059.7,1432.6 1063.4,1433.3 1066.2,1431.2 1073.8,1429.8 1077.9,1426.6 1077.8,1425.6 1077.9,1425.5 1085.8,1414.9 1087.5,1408.9 1096.1,1409.3 1102.3,1402.2 1104.0,1401.8 1104.7,1404.3 1111.9,1406.4 1115.0,1411.4 1114.4,1415.6 1123.6,1417.1 1129.8,1419.2 1133.3,1424.8 1149.4,1425.2 1163.2,1428.7 1170.1,1426.3 1180.4,1425.2 1186.6,1421.3 1190.7,1417.4 1201.0,1414.6 1211.4,1411.0 1213.1,1408.9 1207.2,1407.1 1199.3,1405.7 1203.1,1399.4 1207.2,1400.8 1213.1,1397.9 1217.6,1389.8 1226.8,1386.6 1235.4,1389.1 1240.6,1399.0 1250.9,1402.9 1257.8,1407.1 1265.7,1405.0 1261.2,1414.9 1252.6,1417.1 1253.3,1423.8 1250.6,1424.8 1251.6,1426.3 1248.2,1425.9 1242.3,1427.3 1238.2,1428.4 1232.0,1433.0 1229.6,1434.8 1221.7,1432.6 1218.9,1438.6 1218.2,1431.6 1213.1,1435.1ZM1233.7,1442.5 1231.0,1441.5 1232.6,1442.1 1233.9,1442.3 1234.0,1442.5ZM1231.9,1438.7 1231.0,1441.5 1231.9,1438.7Z" fill="#2166ac"/>
<path d="M1080.3,1544.1 1083.7,1550.5 1080.6,1554.8 1077.5,1554.4 1076.5,1549.5 1076.9,1541.3Z" fill="#d1e5f0"/>
<path d="M1237.2,1549.5 1233.7,1555.8 1228.6,1553.7 1224.0,1549.9 1226.8,1548.4 1228.6,1547.0 1233.7,1541.7ZM1205.2,1546.6 1213.4,1536.0 1212.4,1538.8 1207.2,1545.6ZM1229.9,1542.0 1227.9,1541.7 1227.8,1541.3 1227.5,1542.4 1226.4,1540.9 1225.8,1543.8 1223.4,1541.0 1223.4,1538.8 1221.3,1537.8 1221.3,1533.9 1225.5,1536.4 1224.3,1537.8 1225.2,1538.2 1226.2,1538.5 1226.2,1536.0 1228.9,1537.1 1228.2,1540.0 1230.1,1540.2 1230.2,1540.2 1229.6,1535.3 1229.6,1534.9 1229.6,1531.8 1234.4,1532.8 1232.8,1539.6 1232.8,1539.6 1232.7,1540.6 1230.6,1540.6 1230.6,1540.5 1230.6,1540.5 1230.5,1540.5 1230.5,1540.5ZM1220.0,1528.9 1219.3,1532.5 1216.5,1531.8 1215.8,1528.2ZM1226.8,1526.4 1229.2,1531.4 1225.1,1530.0 1221.0,1526.8 1216.9,1525.7 1214.8,1523.6 1214.1,1518.7 1216.2,1517.6 1216.9,1510.5 1222.4,1510.5 1222.7,1515.8 1220.3,1520.1 1221.7,1526.4Z" fill="#f4a582"/>
<path d="M1159.4,1567.2 1160.4,1571.0 1158.0,1571.4 1154.6,1568.9 1150.5,1565.4 1147.4,1560.1 1146.7,1556.5 1147.0,1553.3 1149.4,1555.5 1153.2,1554.1 1153.6,1554.1 1157.7,1559.0 1157.7,1563.6ZM1190.7,1564.7 1194.2,1560.4 1197.6,1558.3 1201.4,1554.8 1203.8,1551.2 1206.9,1553.3 1208.3,1555.5 1212.4,1557.6 1209.0,1559.7 1207.8,1560.9 1206.9,1561.1 1201.0,1560.8 1199.7,1561.1 1197.6,1565.4 1195.9,1570.7 1189.0,1570.7 1186.6,1572.5 1182.1,1572.5 1179.0,1568.9 1178.8,1568.8 1179.0,1568.6 1181.4,1570.0 1184.9,1566.8Z" fill="#fddbc7"/>
<path d="M1194.7,1560.1 1195.9,1559.3 1194.7,1560.1Z" fill="#fddbc7"/>
<path d="M1214.8,1612.5 1211.4,1611.0 1211.4,1609.6 1217.6,1611.8ZM1200.4,1605.4 1203.4,1605.4 1202.8,1607.5 1200.7,1607.2ZM1211.7,1605.0 1211.4,1607.2 1204.5,1607.9 1203.8,1606.1ZM1214.5,1607.2 1214.1,1606.1 1225.1,1605.4 1224.4,1607.2ZM1166.6,1596.9 1175.2,1598.3 1181.8,1600.4 1185.6,1599.4 1189.7,1600.4 1195.5,1603.3 1195.7,1604.7 1200.0,1605.4 1198.3,1607.2 1195.9,1606.1 1195.8,1605.6 1195.9,1606.8 1189.0,1605.7 1180.4,1604.7 1168.4,1602.2 1163.9,1600.1ZM1141.5,1570.0 1135.7,1564.7 1130.5,1558.3 1129.8,1556.2 1137.4,1557.6 1141.5,1562.9 1147.7,1568.9 1151.2,1570.0 1158.0,1574.2 1161.5,1582.4 1166.0,1584.8 1166.3,1596.5 1161.5,1596.9 1153.9,1590.2 1149.4,1584.8 1144.3,1577.8ZM1186.2,1588.4 1181.1,1586.3 1180.4,1582.4 1178.0,1577.8 1176.6,1573.2 1177.0,1570.7 1178.8,1568.8 1179.0,1568.9 1182.1,1572.5 1186.6,1572.5 1189.0,1570.7 1195.9,1570.7 1197.6,1565.4 1199.7,1561.1 1201.0,1560.8 1206.9,1561.1 1207.8,1560.9 1207.6,1561.1 1206.5,1564.3 1207.9,1568.2 1211.0,1572.5 1207.2,1574.2 1205.2,1577.8 1203.8,1580.6 1202.8,1584.8 1201.7,1590.2 1196.2,1589.5 1190.7,1587.3ZM1232.0,1609.6 1239.9,1605.7 1232.6,1609.3 1233.5,1609.5 1228.6,1612.5ZM1275.7,1594.4 1266.4,1591.2 1259.5,1590.2 1256.1,1585.9 1261.2,1583.8 1252.6,1580.2 1257.8,1577.4 1263.6,1579.2 1266.4,1587.7 1275.0,1581.3 1285.3,1584.8 1287.0,1585.2 1287.0,1608.2 1280.2,1604.3 1276.7,1605.7ZM1239.6,1587.3 1238.9,1589.8 1235.8,1589.5 1235.4,1587.0ZM1243.0,1588.7 1242.3,1586.6 1252.6,1587.3 1250.9,1589.5ZM1220.3,1592.6 1218.6,1585.6 1216.2,1586.6 1216.2,1595.8 1213.4,1595.8 1212.7,1594.1 1212.7,1588.4 1211.0,1585.6 1212.7,1581.3 1214.1,1578.5 1215.5,1572.8 1218.2,1571.4 1223.4,1572.5 1228.6,1572.8 1232.7,1570.3 1230.3,1574.2 1225.1,1574.2 1220.0,1574.2 1215.1,1574.9 1216.5,1579.5 1221.7,1578.5 1226.5,1579.2 1222.4,1579.5 1220.0,1582.7 1221.7,1587.3 1225.5,1590.9 1222.7,1595.1ZM1244.0,1568.9 1242.3,1573.2 1244.7,1574.9 1242.0,1577.8 1240.3,1574.2 1240.6,1570.7Z" fill="#f7f7f7"/>
<path d="M1303.6,1594.8 1309.4,1599.0 1311.1,1604.3 1318.0,1612.5 1309.4,1611.4 1304.2,1604.3 1297.4,1603.3 1295.6,1607.9 1287.0,1608.2 1287.0,1585.2 1297.4,1589.5ZM1325.5,1590.9 1323.2,1588.7 1320.1,1586.3 1320.4,1585.2 1324.9,1587.3 1329.0,1592.3 1327.6,1593.0 1325.8,1591.3 1324.9,1595.1 1319.7,1597.9 1312.8,1597.6 1312.2,1595.5 1318.0,1594.4 1323.2,1591.2Z" fill="#d6604d"/>
<path d="M1239.9,1605.7 1233.5,1609.5 1232.6,1609.3Z" fill="#67001f"/>
<path d="M1311.1,1726.5 1307.7,1730.3 1304.2,1730.0 1301.5,1725.4 1299.8,1720.1 1312.2,1720.8ZM1202.8,1648.9 1209.6,1647.9 1218.2,1645.0 1222.4,1639.7 1226.8,1634.4 1232.0,1629.1 1237.2,1625.6 1243.0,1628.7 1247.5,1628.7 1250.2,1620.6 1252.6,1618.8 1258.1,1616.7 1263.0,1618.5 1271.6,1618.5 1269.8,1623.8 1268.1,1629.1 1275.0,1633.3 1281.9,1638.0 1286.4,1637.6 1288.8,1630.9 1289.1,1620.2 1292.2,1613.9 1295.6,1620.2 1296.7,1627.0 1301.8,1629.1 1303.6,1636.2 1305.3,1643.3 1313.9,1647.9 1319.7,1655.7 1322.5,1660.6 1328.7,1664.5 1329.0,1673.3 1330.4,1677.2 1328.3,1685.7 1326.6,1691.0 1322.1,1696.0 1318.7,1702.7 1318.0,1708.8 1311.1,1709.8 1305.6,1714.4 1300.5,1710.2 1297.4,1712.3 1287.0,1710.9 1283.6,1709.1 1280.8,1702.4 1277.1,1702.0 1278.4,1699.2 1276.0,1691.4 1269.5,1699.2 1266.4,1694.6 1263.0,1692.1 1256.1,1689.3 1245.8,1688.2 1235.4,1690.3 1228.6,1692.8 1226.8,1696.0 1220.0,1695.7 1213.1,1697.1 1207.9,1699.9 1202.8,1699.9 1197.6,1697.4 1199.7,1694.2 1200.0,1689.3 1197.6,1682.2 1196.2,1676.9 1192.4,1669.8 1193.5,1662.7 1192.1,1657.4 1193.1,1653.9 1194.8,1653.2Z" fill="#f7f7f7"/>
<path d="M1398.8,1728.2 1396.4,1731.1 1390.9,1733.5 1388.5,1738.5 1381.6,1741.0 1374.8,1738.8 1379.9,1732.8 1386.8,1728.2 1392.0,1724.0 1393.7,1719.4 1396.4,1719.4 1401.6,1722.2ZM1405.7,1707.0 1416.0,1709.5 1410.9,1715.1 1407.4,1721.1 1403.3,1722.2 1404.0,1717.6 1399.9,1714.8 1402.6,1708.8 1397.1,1701.7 1396.1,1697.8 1402.3,1703.4Z" fill="#f4a582"/>
<path d="M845.0,1442.9 844.7,1441.1 855.7,1440.4 853.9,1446.1 850.8,1444.7ZM830.9,1437.6 831.2,1432.6 830.9,1430.9 835.0,1430.9 835.4,1437.2 833.0,1437.9ZM857.0,1427.7 861.2,1430.9 865.6,1434.0 861.2,1433.0 858.8,1436.9 860.8,1437.9 857.0,1441.8 855.7,1440.4 857.0,1436.2 856.0,1434.4 852.9,1432.3 850.2,1431.6 845.0,1429.1 839.8,1425.9 838.1,1423.8 837.1,1420.6 832.6,1418.8 829.5,1420.6 827.8,1420.9 825.7,1418.8 826.1,1416.7 825.4,1413.9 826.1,1413.5 829.2,1413.5 830.9,1412.1 833.0,1413.9 834.7,1412.1 837.1,1412.5 838.1,1411.0 838.1,1410.2 844.0,1409.6 844.7,1410.7 849.1,1411.4 848.8,1414.6 844.3,1415.3 844.7,1419.5 848.8,1422.0 850.8,1425.5ZM826.1,1422.2 826.2,1422.1 826.1,1422.2Z" fill="#92c5de"/>
<path d="M833.6,1429.4 831.6,1427.7 831.9,1425.5 834.3,1423.8 835.0,1426.3ZM794.1,1408.9 786.5,1406.8 785.5,1404.7 791.7,1403.2 796.5,1404.0 795.5,1400.1 797.9,1401.1 802.3,1400.8 807.2,1398.6 807.5,1395.8 810.6,1395.1 810.9,1396.2 813.0,1396.5 816.4,1399.2 818.5,1398.6 822.0,1400.8 824.0,1400.8 825.0,1401.8 827.5,1401.8 830.2,1402.9 828.1,1405.0 828.1,1407.5 826.1,1407.8 825.4,1408.9 823.0,1411.0 823.0,1412.5 825.4,1413.5 826.1,1413.5 825.4,1413.9 826.1,1416.7 825.7,1418.8 827.8,1420.9 826.2,1422.1 823.8,1423.3 820.6,1422.7 817.5,1422.4 813.0,1423.1 812.7,1425.9 807.8,1425.5 806.8,1425.2 804.4,1424.5 799.6,1424.1 797.2,1423.1 795.8,1422.4 797.5,1418.5 797.9,1413.2Z" fill="#d1e5f0"/>
<path d="M882.8,1450.0 892.5,1451.4 884.6,1452.1 882.8,1451.0ZM899.0,1447.5 898.0,1448.2 897.6,1446.8ZM890.1,1444.7 889.4,1445.4 888.7,1444.3ZM895.2,1442.5 894.5,1442.9 894.2,1442.2ZM886.6,1441.5 885.2,1441.5 882.5,1439.7 881.2,1439.2 884.6,1441.5 881.1,1443.2 881.8,1446.8 879.4,1447.1 876.6,1445.7 875.3,1442.9 877.0,1440.4 874.6,1438.3 871.5,1435.8 871.0,1435.3 873.2,1434.0 874.2,1432.3 872.9,1430.5 874.2,1431.2 880.1,1430.2 881.1,1428.7 884.6,1429.1 888.7,1429.8 892.5,1428.4 891.4,1431.6 888.0,1431.2 883.9,1431.9 880.8,1432.3 879.7,1434.4 882.2,1436.9 880.7,1438.4 884.6,1439.4ZM880.4,1438.6 880.7,1438.8 880.5,1438.5ZM888.0,1439.4 886.6,1440.4 885.6,1438.6ZM892.5,1437.9 891.4,1436.5 893.5,1436.9ZM893.2,1434.4 893.1,1435.4 892.1,1434.4 892.8,1433.7Z" fill="#4393c3"/>
<path d="M915.5,1450.7 921.0,1449.6 919.0,1452.1 915.5,1453.5 913.1,1451.7Z" fill="#f7f7f7"/>
<path d="M836.4,1380.9 836.4,1379.5 839.2,1379.9 838.5,1381.3ZM839.8,1378.8 842.6,1377.8 845.3,1377.8 845.3,1379.2 843.6,1381.3 840.5,1380.6ZM831.6,1373.9 838.5,1371.7 837.8,1376.0 839.5,1376.7 836.4,1378.8 835.0,1381.3 835.6,1382.0 834.3,1382.0 831.8,1381.9 831.6,1380.9 829.9,1379.5 830.2,1375.3Z" fill="#d1e5f0"/>
<path d="M258.5,1501.0 257.4,1499.5 259.5,1500.6ZM252.3,1497.4 254.0,1497.4 253.7,1498.5 252.3,1498.5ZM182.8,1393.7 182.8,1392.6 188.0,1392.3 186.9,1393.3ZM192.4,1393.0 193.1,1392.3 198.3,1391.9 197.2,1393.0ZM208.6,1390.9 217.2,1389.4 216.5,1390.2 209.3,1391.9ZM224.1,1388.4 230.3,1385.2 231.0,1386.6 224.8,1388.7ZM265.0,1506.6 265.7,1504.8 268.8,1506.3 266.7,1509.1ZM263.0,1501.7 265.4,1502.4 264.0,1503.1ZM260.9,1501.7 260.9,1501.0 263.0,1501.0 262.6,1501.7ZM561.2,1428.4 556.0,1429.4 548.1,1432.3 547.4,1436.2 544.0,1438.3 542.3,1439.7 541.2,1445.0 540.6,1446.8 542.3,1451.4 538.8,1453.2 533.7,1456.0 529.6,1458.5 523.4,1462.7 522.0,1468.0 524.7,1475.1 526.8,1482.2 525.4,1486.8 522.7,1486.4 520.6,1482.2 517.5,1476.9 516.5,1472.6 512.0,1469.8 507.9,1470.9 504.4,1468.4 499.3,1468.4 494.1,1469.1 495.2,1473.0 489.0,1472.3 479.3,1470.9 475.2,1472.3 470.0,1475.8 467.3,1480.4 467.6,1484.3 461.1,1482.5 459.7,1478.7 457.0,1476.2 453.2,1470.5 449.7,1470.5 447.3,1473.3 442.5,1471.2 440.8,1467.3 435.6,1463.4 429.8,1463.4 429.8,1465.2 419.8,1465.2 407.4,1460.2 399.2,1461.0 397.1,1457.4 394.4,1455.6 387.1,1453.9 385.8,1450.3 382.3,1445.7 380.6,1442.2 376.5,1437.9 374.1,1433.0 374.8,1427.3 373.7,1423.8 375.4,1412.5 373.0,1404.7 378.9,1405.4 378.8,1405.0 378.9,1405.0 378.8,1404.9 378.5,1402.5 474.5,1402.5 476.2,1403.2 479.3,1404.3 483.8,1404.7 489.6,1405.4 493.8,1406.1 499.3,1405.4 509.6,1409.6 512.0,1411.4 514.8,1413.9 519.2,1418.5 518.5,1423.8 518.2,1425.2 516.1,1427.3 530.1,1422.9 529.6,1422.0 539.5,1419.5 545.0,1416.7 556.0,1416.7 558.8,1414.9 561.2,1411.4 564.0,1408.2 567.4,1408.6 568.8,1409.3 568.8,1414.6 571.5,1416.7 571.8,1417.3 571.5,1417.4 565.3,1419.5 560.5,1421.7 558.8,1425.2ZM278.4,1371.0 274.6,1373.2 270.2,1374.6 270.5,1372.1 275.7,1370.0ZM262.6,1323.6 272.2,1325.0 279.1,1325.4 292.9,1327.1 306.6,1327.8 317.0,1329.4 317.0,1362.5 323.8,1363.6 329.0,1366.4 332.4,1365.4 337.6,1364.3 342.8,1368.9 348.6,1376.0 354.8,1378.1 354.8,1380.2 352.9,1382.2 347.9,1377.8 341.0,1370.7 332.4,1368.9 329.0,1367.1 321.4,1365.4 315.2,1363.6 306.6,1363.2 298.0,1360.8 292.9,1362.5 286.0,1366.4 279.8,1365.7 280.8,1361.8 286.0,1359.4 277.4,1361.8 274.0,1365.4 270.5,1369.6 263.6,1374.2 256.8,1377.8 248.2,1380.2 239.6,1382.0 244.7,1378.5 251.6,1376.0 258.5,1372.5 261.9,1368.2 253.3,1367.5 245.4,1368.2 243.7,1364.3 237.8,1363.6 233.4,1361.8 234.4,1358.3 231.6,1354.8 236.1,1353.0 248.2,1351.2 248.2,1347.7 241.3,1347.7 234.4,1347.7 229.2,1346.6 223.7,1343.8 229.2,1341.7 237.8,1340.2 244.7,1342.0 246.4,1340.2 238.9,1338.5 235.1,1336.0 228.2,1334.0 231.0,1332.1 241.3,1329.3 251.6,1326.1Z" fill="#b2182b"/>
<path d="M1415.7,1640.4 1412.3,1640.1 1411.6,1637.6 1416.4,1637.6ZM1420.5,1635.8 1416.4,1635.5 1417.1,1633.3 1421.2,1633.7Z" fill="#f7f7f7"/>
<path d="M1351.0,1610.0 1351.0,1608.6 1355.2,1610.7 1354.5,1611.4ZM1354.1,1606.1 1354.8,1605.4 1357.6,1609.6 1356.5,1610.3ZM1347.6,1605.0 1348.3,1603.6 1352.4,1606.1 1351.4,1607.2ZM1340.0,1600.8 1340.4,1599.4 1345.2,1602.5 1344.1,1603.6Z" fill="#ffffff"/>
<path d="M1380.3,1635.8 1379.2,1634.1 1379.6,1632.6 1381.3,1635.1ZM1375.8,1631.9 1374.8,1630.5 1374.8,1629.1 1377.2,1630.9Z" fill="#ffffff"/>
<path d="M1370.3,1649.6 1376.5,1654.9 1374.8,1655.3 1367.9,1651.4 1366.2,1647.5Z" fill="#ffffff"/>
<path d="M540.9,1491.0 541.2,1490.3 543.3,1492.8 542.6,1493.2ZM532.3,1487.5 533.0,1486.8 534.7,1490.0 534.0,1490.7ZM538.5,1486.4 538.8,1485.7 540.6,1488.2 539.9,1488.9ZM531.3,1482.2 532.0,1481.1 537.1,1482.2 536.4,1483.3Z" fill="#ffffff"/>
<path d="M596.6,1528.9 597.7,1529.6 597.0,1530.0ZM591.8,1526.1 592.5,1527.5 591.8,1527.5ZM591.5,1523.3 592.8,1524.0 591.8,1525.0ZM589.8,1519.7 589.4,1518.3 591.5,1517.9 591.1,1519.7Z" fill="#ffffff"/>
<path d="M1121.2,1535.3 1120.2,1534.2 1120.5,1528.2 1121.9,1528.9ZM1091.0,1511.2 1085.1,1517.2 1080.6,1520.1 1077.9,1522.9 1078.2,1529.6 1076.5,1535.3 1074.8,1539.5 1071.4,1544.5 1068.6,1547.3 1065.2,1542.4 1062.8,1536.0 1059.3,1530.3 1056.6,1522.2 1054.5,1516.2 1052.8,1508.7 1052.1,1501.7 1051.7,1497.4 1050.4,1500.2 1045.6,1502.7 1039.4,1496.7 1043.8,1494.9 1037.6,1492.8 1036.4,1492.2 1036.6,1492.1 1038.7,1490.0 1042.8,1490.3 1046.2,1489.6 1045.6,1486.8 1043.8,1485.0 1043.1,1481.8 1041.1,1480.4 1044.9,1476.9 1049.7,1475.5 1054.5,1470.2 1058.3,1466.6 1058.6,1463.1 1061.0,1461.7 1058.6,1459.9 1056.6,1457.4 1056.2,1454.2 1057.6,1452.8 1062.8,1452.5 1066.5,1450.0 1069.6,1450.3 1070.3,1450.3 1073.1,1454.2 1075.5,1459.2 1072.4,1460.6 1073.8,1464.8 1080.6,1469.1 1078.9,1470.2 1077.5,1474.0 1080.6,1475.5 1084.1,1477.6 1089.2,1479.0 1094.4,1481.1 1101.3,1482.5 1105.4,1481.5 1105.1,1477.2 1107.8,1477.2 1107.5,1480.1 1111.6,1481.1 1116.8,1481.1 1118.8,1479.4 1117.1,1477.2 1118.5,1477.6 1125.4,1474.4 1130.5,1473.3 1132.9,1475.5 1136.7,1476.2 1135.7,1478.7 1129.5,1481.8 1127.4,1486.4 1126.0,1491.0 1123.3,1491.4 1122.6,1495.3 1120.5,1498.5 1119.5,1492.5 1117.8,1494.2 1115.7,1493.9 1117.1,1490.7 1119.9,1490.3 1118.5,1487.1 1111.3,1486.8 1110.9,1484.0 1107.1,1482.5 1106.1,1486.8 1104.7,1488.9 1106.8,1490.0 1107.5,1494.9 1104.7,1499.5 1104.9,1499.6 1105.4,1499.5 1101.3,1499.9 1099.6,1504.5 1094.4,1507.7ZM1110.5,1476.2 1111.6,1475.8 1117.1,1477.2 1113.3,1476.5Z" fill="#b2182b"/>
<path d="M566.4,1771.8 569.8,1772.8 562.9,1773.2 562.3,1772.2 558.8,1771.1 559.5,1771.8 555.0,1771.4 552.6,1768.9 555.2,1769.5 552.6,1768.2 550.6,1766.4 550.9,1767.2 546.8,1765.7 544.7,1761.8 547.9,1762.6 549.2,1760.1 545.9,1757.5 546.1,1759.4 542.6,1760.1 541.9,1753.7 543.8,1753.3 543.4,1751.7 542.3,1751.9 541.9,1745.2 544.3,1744.6 545.7,1742.4 541.9,1741.0 545.7,1737.1 545.8,1736.9 543.3,1736.4 544.0,1731.8 547.2,1732.4 547.4,1731.8 547.1,1729.2 546.8,1729.3 546.8,1726.5 546.8,1724.0 547.4,1724.0 548.5,1717.6 549.2,1710.5 548.8,1707.7 551.6,1703.4 554.7,1696.4 555.7,1692.8 556.0,1682.2 556.7,1675.1 559.1,1666.3 559.8,1659.2 560.5,1650.3 560.2,1641.1 559.9,1640.9 562.9,1638.0 565.7,1646.1 567.4,1652.1 568.8,1656.7 566.7,1662.7 566.0,1671.6 562.2,1676.9 561.2,1684.0 559.5,1691.0 561.2,1696.4 559.5,1703.4 557.1,1708.8 557.8,1715.8 555.0,1721.1 555.4,1728.2 556.0,1733.5 555.0,1737.1 555.0,1742.4 552.6,1747.7 549.8,1753.0 553.3,1756.5 554.7,1760.1 566.7,1761.1 566.0,1762.2 566.0,1770.7 564.7,1771.4Z" fill="#d1e5f0"/>
<path d="M592.2,1537.8 592.2,1540.2 589.1,1540.2 589.1,1537.8Z" fill="#f7f7f7"/>
<path d="M777.9,1391.6 772.8,1393.3 769.0,1393.7 766.6,1392.3 767.9,1391.2 771.0,1387.7 767.9,1387.0 767.6,1384.1 773.4,1383.8 772.8,1381.3 776.9,1379.9 776.9,1381.3 774.5,1382.4 773.8,1383.1 775.9,1384.5 778.6,1384.5 781.0,1384.8 782.4,1384.2 783.1,1383.8 781.4,1384.8 780.7,1387.3 781.4,1391.2 780.3,1391.2Z" fill="#f7f7f7"/>
<path d="M519.9,1544.1 526.8,1543.1 533.7,1543.4 536.0,1545.5 535.9,1546.9 535.7,1547.8 534.9,1549.0 532.6,1547.2 532.6,1547.2 532.0,1546.6 528.5,1544.5 525.8,1547.0 526.8,1550.2 521.6,1548.4 516.9,1547.3 517.9,1544.1 517.9,1542.0Z" fill="#f4a582"/>
<path d="M517.9,1542.0 517.9,1544.1 516.9,1547.3 516.8,1547.3 514.1,1545.6 509.6,1541.0 507.2,1537.8 506.6,1536.6 507.2,1536.7 510.6,1537.1 514.1,1537.4 514.2,1537.3 516.5,1540.6Z" fill="#f7f7f7"/>
<path d="M514.1,1537.1 514.2,1537.3 514.1,1537.4 510.6,1537.1 507.2,1536.7 506.6,1536.6 506.5,1536.4 501.2,1530.6 501.7,1530.0 503.8,1528.9 506.2,1526.4 509.6,1524.0 511.3,1523.3 515.8,1522.9 514.8,1530.0Z" fill="#fddbc7"/>
<path d="M492.2,1527.3 493.8,1525.7 494.6,1524.9 497.6,1526.4 500.0,1526.8 500.3,1528.9 500.1,1530.0 495.8,1528.6Z" fill="#4393c3"/>
<path d="M500.3,1520.0 501.0,1520.0 501.0,1520.1ZM498.0,1519.8 496.2,1519.7 495.2,1519.7 495.3,1512.9 495.3,1512.5 498.2,1510.5 500.0,1510.5 498.6,1514.0 497.2,1519.7Z" fill="#b2182b"/>
<path d="M484.8,1524.7 485.5,1522.5 486.6,1519.1 490.9,1519.1 491.0,1517.9 487.6,1514.9 489.0,1514.9 489.0,1512.9 495.3,1512.9 495.2,1519.7 496.2,1519.7 498.6,1520.4 496.9,1521.8 495.3,1522.9 494.6,1524.9 493.8,1525.7 492.2,1527.3 490.7,1526.8Z" fill="#f4a582"/>
<path d="M500.8,1520.0 500.3,1520.0 501.0,1520.1 501.0,1520.0 506.2,1519.7 513.0,1520.1 515.8,1522.9 511.3,1523.3 509.6,1524.0 506.2,1526.4 503.8,1528.9 501.7,1530.0 500.9,1530.3 500.1,1530.0 500.3,1528.9 500.0,1526.8 497.6,1526.4 494.6,1524.9 495.3,1522.9 496.9,1521.8 498.6,1520.4 498.7,1520.0 499.3,1520.1Z" fill="#b2182b"/>
<path d="M465.9,1498.1 467.3,1501.7 471.1,1508.0 476.9,1511.6 483.8,1510.2 489.0,1508.7 490.7,1503.4 491.4,1501.3 497.6,1499.9 502.7,1499.9 501.0,1505.2 500.0,1510.5 498.2,1510.5 495.3,1512.5 495.3,1512.9 489.0,1512.9 489.0,1514.9 487.6,1514.9 491.0,1517.9 490.9,1519.1 486.6,1519.1 485.5,1522.5 484.8,1524.7 480.4,1520.8 475.9,1518.7 470.0,1520.4 463.2,1518.3 458.3,1516.5 451.8,1513.3 446.0,1511.2 443.2,1508.4 439.1,1504.1 439.8,1499.9 438.4,1496.3 436.0,1493.9 430.5,1487.5 425.7,1482.2 421.9,1477.2 416.0,1473.3 412.6,1465.6 407.1,1463.4 407.8,1469.1 413.3,1475.1 416.7,1480.4 421.9,1490.3 423.9,1494.9 422.6,1492.8 416.7,1488.2 416.0,1484.0 409.2,1477.9 406.4,1476.9 404.7,1470.9 400.6,1463.8 399.2,1461.0 407.4,1460.2 419.8,1465.2 429.8,1465.2 429.8,1463.4 435.6,1463.4 440.8,1467.3 442.5,1471.2 447.3,1473.3 449.7,1470.5 453.2,1470.5 457.0,1476.2 459.7,1478.7 461.1,1482.5 467.6,1484.3 465.9,1491.0Z" fill="#fddbc7"/>
<path d="M621.4,1557.6 624.5,1560.8 624.6,1561.1 624.5,1561.1 621.4,1567.2 618.0,1568.6 614.2,1567.9 616.2,1563.3 615.6,1560.1 616.2,1555.5Z" fill="#d1e5f0"/>
<path d="M612.8,1555.1 616.2,1555.5 615.6,1560.1 616.2,1563.3 614.2,1567.9 611.1,1567.9 607.6,1569.3 604.9,1568.9 602.5,1562.2 604.2,1560.1 605.2,1555.1 605.5,1554.4 605.9,1554.8Z" fill="#f4a582"/>
<path d="M602.5,1551.9 605.4,1554.3 605.2,1555.1 604.2,1560.1 602.5,1562.2 604.9,1568.9 602.1,1570.7 599.7,1571.8 596.6,1569.6 595.9,1566.8 597.0,1562.2 595.9,1560.4 595.3,1557.6 593.2,1557.6 590.8,1555.1 593.5,1550.2 596.0,1546.9 599.0,1548.4Z" fill="#92c5de"/>
<path d="M523.7,1583.8 525.1,1578.5 526.8,1572.8 530.6,1571.0 535.4,1573.2 537.8,1575.3 543.0,1576.4 543.0,1579.2 538.5,1585.2 532.3,1588.0 530.2,1593.7 526.5,1591.2 525.8,1588.0 527.1,1584.8Z" fill="#d6604d"/>
<path d="M611.1,1699.5 608.7,1699.5 603.2,1697.8 601.1,1696.4 601.1,1694.6 601.8,1689.3 603.9,1682.9 606.6,1682.6 609.4,1685.4 610.7,1685.0 612.8,1686.8 616.9,1689.3 619.3,1692.8 618.3,1695.3 615.6,1698.5Z" fill="#d1e5f0"/>
<path d="M610.4,1655.7 611.4,1661.0 615.2,1661.3 614.2,1666.6 609.4,1673.0 602.5,1669.8 599.0,1664.5 592.2,1660.3 586.7,1654.6 587.7,1646.8 598.7,1644.3 601.8,1646.1 603.2,1654.2Z" fill="#d6604d"/>
<path d="M555.0,1537.1 556.0,1537.8 560.5,1535.3 560.5,1533.5 561.9,1535.6 566.7,1537.8 571.9,1538.5 578.4,1540.2 581.8,1538.5 587.0,1538.5 589.4,1540.6 593.9,1545.9 596.0,1546.9 593.5,1550.2 590.8,1555.1 593.2,1557.6 588.7,1561.1 583.6,1562.2 580.1,1561.5 579.1,1567.5 583.9,1568.2 581.8,1570.7 576.7,1573.2 575.0,1573.2 571.5,1571.8 570.5,1568.2 568.8,1561.1 570.1,1558.3 569.8,1554.1 563.3,1554.4 560.9,1551.6 557.8,1551.6 552.9,1549.8 553.3,1547.7 550.9,1543.4 551.2,1539.2 553.3,1536.7 556.7,1534.2 557.0,1533.0 557.8,1534.9Z" fill="#92c5de"/>
<path d="M541.9,1539.2 544.7,1537.1 549.2,1536.0 553.6,1533.9 556.7,1532.1 556.7,1534.2 553.3,1536.7 551.2,1539.2 550.9,1543.4 553.3,1547.7 552.9,1549.8 557.8,1551.6 560.9,1551.6 563.3,1554.4 569.8,1554.1 570.1,1558.3 568.8,1561.1 570.5,1568.2 571.5,1571.8 567.4,1569.3 561.9,1570.0 562.9,1572.8 561.2,1574.2 561.2,1576.7 563.3,1579.5 561.5,1590.9 558.8,1589.5 554.3,1584.5 549.2,1581.3 544.7,1576.7 543.0,1576.4 537.8,1575.3 535.4,1573.2 530.6,1571.0 532.0,1567.2 534.4,1563.6 535.7,1559.0 536.1,1553.0 534.0,1550.5 535.7,1547.7 536.0,1545.6 536.1,1545.6 537.8,1547.7 540.6,1543.1Z" fill="#d1e5f0"/>
<path d="M550.9,1634.1 544.0,1630.2 539.5,1624.9 536.4,1618.5 533.0,1611.4 530.2,1605.4 527.1,1600.1 522.7,1597.2 522.3,1591.9 525.8,1588.0 526.5,1591.2 530.2,1593.7 532.3,1588.0 538.5,1585.2 543.0,1579.2 543.0,1576.4 544.7,1576.7 549.2,1581.3 554.3,1584.5 558.8,1589.5 561.5,1590.9 551.2,1594.4 547.8,1602.2 549.8,1609.3 553.6,1611.4 559.5,1609.6 559.1,1614.9 565.7,1614.9 562.6,1622.0 565.0,1625.6 563.6,1630.5 564.6,1633.7 562.2,1637.2 562.9,1638.0 559.9,1640.9 556.0,1637.2Z" fill="#f4a582"/>
<path d="M564.6,1633.7 563.6,1630.5 565.0,1625.6 562.6,1622.0 565.7,1614.9 575.0,1610.7 577.4,1614.6 580.5,1620.2 590.4,1623.8 593.9,1624.9 594.9,1629.5 601.4,1633.7 601.1,1637.2 604.2,1640.4 601.8,1646.1 598.7,1644.3 587.7,1646.8 586.7,1654.6 580.8,1656.7 578.4,1654.2 573.9,1653.2 570.8,1656.7 568.8,1656.7 567.4,1652.1 565.7,1646.1 562.9,1638.0 562.2,1637.2Z" fill="#b2182b"/>
<path d="M567.4,1763.6 569.8,1767.2 577.7,1769.6 571.5,1770.7 566.0,1770.7 566.0,1762.2 566.7,1761.1 566.4,1762.2ZM607.0,1704.9 604.2,1710.5 599.0,1712.6 588.7,1713.7 587.7,1719.4 580.1,1720.4 578.4,1724.7 582.5,1725.7 580.1,1727.9 577.4,1731.8 573.2,1735.3 569.8,1738.8 571.5,1742.4 575.3,1745.2 569.8,1749.5 565.0,1754.8 566.7,1761.1 554.7,1760.1 553.3,1756.5 549.8,1753.0 552.6,1747.7 555.0,1742.4 555.0,1737.1 556.0,1733.5 555.4,1728.2 555.0,1721.1 557.8,1715.8 557.1,1708.8 559.5,1703.4 561.2,1696.4 559.5,1691.0 561.2,1684.0 562.2,1676.9 566.0,1671.6 566.7,1662.7 568.8,1656.7 570.8,1656.7 573.9,1653.2 578.4,1654.2 580.8,1656.7 586.7,1654.6 592.2,1660.3 599.0,1664.5 602.5,1669.8 609.4,1673.0 614.2,1666.6 616.9,1672.3 610.0,1675.8 603.9,1682.9 601.8,1689.3 601.1,1694.6 601.1,1696.4 601.1,1698.5 604.9,1703.1Z" fill="#fddbc7"/>
<path d="M560.2,1641.1 556.0,1637.2 559.9,1640.9ZM630.0,1574.2 631.7,1576.7 635.2,1578.8 640.3,1578.5 648.9,1581.3 650.6,1584.8 657.5,1585.9 666.1,1586.3 669.6,1589.1 674.7,1593.3 680.6,1594.4 682.3,1601.5 681.6,1606.1 679.2,1610.3 674.7,1614.9 669.6,1622.0 667.8,1627.3 667.2,1638.0 664.4,1645.0 661.3,1652.1 657.5,1657.4 653.4,1657.4 648.9,1658.5 642.7,1661.0 636.9,1665.2 634.8,1669.8 635.2,1676.2 631.0,1680.1 626.6,1685.7 622.4,1690.0 618.3,1695.3 619.3,1692.8 616.9,1689.3 612.8,1686.8 610.7,1685.0 609.4,1685.4 606.6,1682.6 603.9,1682.9 610.0,1675.8 616.9,1672.3 614.2,1666.6 615.2,1661.3 611.4,1661.0 610.4,1655.7 603.2,1654.2 601.8,1646.1 604.2,1640.4 601.1,1637.2 601.4,1633.7 594.9,1629.5 593.9,1624.9 590.4,1623.8 580.5,1620.2 577.4,1614.6 575.0,1610.7 565.7,1614.9 559.1,1614.9 559.5,1609.6 553.6,1611.4 549.8,1609.3 547.8,1602.2 551.2,1594.4 561.5,1590.9 563.3,1579.5 561.2,1576.7 561.2,1574.2 562.9,1572.8 561.9,1570.0 567.4,1569.3 571.5,1571.8 575.0,1573.2 576.7,1573.2 581.8,1570.7 583.9,1568.2 579.1,1567.5 580.1,1561.5 583.6,1562.2 588.7,1561.1 593.2,1557.6 595.3,1557.6 595.9,1560.4 597.0,1562.2 595.9,1566.8 596.6,1569.6 599.7,1571.8 602.1,1570.7 604.9,1568.9 607.6,1569.3 611.1,1567.9 614.2,1567.9 618.0,1568.6 621.4,1567.2 624.5,1561.1 624.6,1561.1 626.6,1565.4 630.0,1569.6ZM605.2,1555.1 605.4,1554.3 605.9,1554.8 605.5,1554.4ZM536.0,1545.6 535.7,1547.7 534.0,1550.5 532.3,1547.3 532.6,1547.2 532.6,1547.2ZM557.0,1533.0 556.7,1534.2 556.7,1532.1Z" fill="#92c5de"/>
<path d="M771.4,1445.0 771.7,1439.7 769.3,1439.0 771.4,1433.7 772.1,1427.7 771.6,1426.8 773.8,1427.0 773.8,1428.0 779.6,1427.7 780.7,1428.7 778.3,1430.9 778.3,1433.3 777.9,1435.5 776.9,1436.5 777.9,1438.3 776.9,1440.1 777.9,1441.5 776.2,1443.2 776.5,1444.3Z" fill="#2166ac"/>
<path d="M770.0,1423.8 774.5,1421.3 782.0,1421.7 788.9,1422.4 795.8,1422.4 797.2,1423.1 799.6,1424.1 804.4,1424.5 806.8,1425.2 807.8,1425.5 812.7,1425.9 812.7,1425.9 813.0,1427.7 809.6,1429.4 805.1,1430.9 802.0,1435.1 801.0,1436.2 802.7,1438.6 800.3,1440.4 799.2,1442.9 794.8,1445.7 786.9,1446.1 782.7,1448.6 780.3,1446.8 776.5,1444.3 776.2,1443.2 777.9,1441.5 776.9,1440.1 777.9,1438.3 776.9,1436.5 777.9,1435.5 778.3,1433.3 778.3,1430.9 780.7,1428.7 779.6,1427.7 773.8,1428.0 773.8,1427.0 771.6,1426.8Z" fill="#4393c3"/>
<path d="M823.0,1398.6 824.4,1399.7 824.0,1400.8 822.0,1400.8 822.0,1399.0Z" fill="#f7f7f7"/>
<path d="M817.5,1393.9 819.2,1393.9 822.0,1394.9 822.6,1396.3 824.0,1397.9 823.0,1398.6 822.0,1399.0 822.0,1400.8 818.5,1398.6 816.4,1399.2 813.0,1396.5 810.9,1396.2 810.6,1395.1 813.7,1394.0Z" fill="#f7f7f7"/>
<path d="M818.2,1388.7 819.2,1387.3 825.7,1387.0 826.8,1387.7 826.1,1390.5 825.4,1392.3 822.3,1392.6 823.3,1393.7 822.6,1396.3 822.0,1394.9 819.2,1393.9 817.5,1393.9 813.7,1394.0 815.8,1392.3Z" fill="#f4a582"/>
<path d="M825.4,1408.9 826.1,1407.8 828.1,1407.5 831.6,1407.3 834.7,1407.5 835.0,1409.3 837.8,1409.6 838.1,1411.0 837.1,1412.5 834.7,1412.1 833.0,1413.9 830.9,1412.1 829.2,1413.5 826.1,1413.5 825.4,1413.5 823.0,1412.5 823.0,1411.0Z" fill="#d1e5f0"/>
<path d="M838.1,1407.8 840.2,1408.2 844.0,1407.5 846.7,1407.8 846.7,1406.8 846.0,1405.4 848.1,1404.7 849.5,1403.6 850.2,1404.0 853.6,1402.5 860.1,1404.0 860.8,1406.1 858.4,1407.5 858.8,1409.6 857.0,1410.7 852.2,1411.7 849.1,1411.4 844.7,1410.7 844.0,1409.6 838.1,1410.2 837.8,1409.6 835.0,1409.3 834.7,1407.5 837.1,1408.6Z" fill="#d1e5f0"/>
<path d="M849.1,1411.4 852.2,1411.7 857.0,1410.7 859.1,1411.4 856.0,1412.5 855.3,1413.9 854.3,1414.9 848.8,1414.9 848.8,1414.6Z" fill="#4393c3"/>
<path d="M863.9,1416.3 867.4,1417.1 868.7,1418.5 868.0,1422.0 866.0,1424.8 865.6,1425.5 862.9,1423.8 861.2,1422.0 858.1,1420.2 856.4,1417.8 856.4,1416.0 860.1,1416.0Z" fill="#2166ac"/>
<path d="M865.6,1425.5 866.0,1424.8 868.0,1422.0 869.8,1423.4 871.8,1424.5 869.8,1425.5 868.4,1427.7 867.8,1427.6 867.4,1427.3Z" fill="#92c5de"/>
<path d="M869.1,1428.4 867.8,1427.6 868.4,1427.7 869.8,1425.5 871.1,1425.2 872.5,1427.7 872.9,1430.5 874.2,1432.3 873.2,1434.0 871.0,1435.3 868.7,1433.0Z" fill="#2166ac"/>
<path d="M879.1,1426.3 881.1,1428.7 880.1,1430.2 874.2,1431.2 872.9,1430.5 872.5,1427.7 874.2,1426.6Z" fill="#92c5de"/>
<path d="M856.7,1421.7 854.3,1419.2 851.9,1416.0 849.1,1417.1 848.8,1414.9 854.3,1414.9 855.3,1413.9 856.0,1412.5 859.1,1411.4 862.5,1413.5 866.7,1413.5 868.7,1416.0 867.4,1417.1 863.9,1416.3 860.1,1416.0 856.4,1416.0 856.4,1417.8 858.1,1420.2 861.2,1422.0 862.9,1423.8 865.6,1425.5 860.5,1423.1Z" fill="#2166ac"/>
<path d="M874.2,1413.5 875.6,1416.0 879.4,1418.1 880.1,1419.2 879.1,1420.9 881.1,1423.1 879.1,1426.3 874.2,1426.6 872.5,1427.7 871.1,1425.2 871.8,1424.5 869.8,1423.4 868.0,1422.0 868.7,1418.5 867.4,1417.1 868.7,1416.0 866.7,1413.5 866.7,1412.8 871.8,1412.8Z" fill="#4393c3"/>
<path d="M858.4,1407.5 860.8,1406.1 863.6,1406.8 867.0,1406.1 870.8,1405.4 874.2,1404.3 878.4,1404.7 880.8,1406.1 878.0,1407.5 874.9,1411.7 871.8,1412.8 866.7,1412.8 866.7,1413.5 862.5,1413.5 859.1,1411.4 857.5,1410.4 858.8,1409.6Z" fill="#2166ac"/>
<path d="M863.9,1402.5 866.7,1400.8 869.1,1400.4 874.2,1401.1 879.7,1402.2 878.4,1404.7 874.2,1404.3 870.8,1405.4 867.0,1406.1 863.6,1406.8 860.8,1406.1 860.1,1404.0 861.2,1403.2Z" fill="#4393c3"/>
<path d="M848.4,1396.5 851.2,1395.5 853.6,1395.5 858.8,1397.2 863.9,1399.0 866.7,1400.8 863.9,1402.5 861.2,1403.2 860.1,1404.0 853.6,1402.5 850.2,1404.0 849.5,1403.6 845.3,1400.8 843.6,1398.3 845.0,1397.6Z" fill="#92c5de"/>
<path d="M832.6,1384.8 831.8,1381.9 834.3,1382.0 835.6,1382.0 835.0,1381.3 836.4,1383.1 839.8,1384.8 845.0,1383.4 850.8,1385.2 850.8,1387.3 852.2,1389.8 852.6,1391.6 853.6,1395.5 851.2,1395.5 848.4,1396.5 845.0,1397.6 843.6,1398.3 845.3,1400.8 849.5,1403.6 848.1,1404.7 846.0,1405.4 846.7,1406.8 846.7,1407.8 844.0,1407.5 840.2,1408.2 838.1,1407.8 837.1,1408.6 834.7,1407.5 831.6,1407.3 828.1,1407.5 828.1,1405.0 830.2,1402.9 827.5,1401.8 825.0,1401.8 824.0,1400.8 824.4,1399.7 823.0,1398.6 824.0,1397.9 822.6,1396.3 823.3,1393.7 822.3,1392.6 825.4,1392.3 826.1,1390.5 826.8,1387.7 825.7,1387.0 831.2,1386.3Z" fill="#f7f7f7"/>
<path d="M863.9,1382.0 866.0,1383.4 869.4,1383.4 880.4,1383.4 882.8,1385.2 884.2,1387.7 881.8,1390.9 883.2,1393.3 884.6,1397.2 880.1,1400.4 879.7,1402.2 874.2,1401.1 869.1,1400.4 866.7,1400.8 863.9,1399.0 858.8,1397.2 853.6,1395.5 852.6,1391.6 852.2,1389.8 850.8,1387.3 850.8,1385.2 857.0,1383.8Z" fill="#4393c3"/>
<path d="M874.4,1377.4 877.7,1376.3 884.6,1376.7 890.4,1377.1 893.5,1378.8 892.1,1380.9 888.0,1383.4 890.8,1384.1 882.8,1385.2 880.4,1383.4 880.1,1381.7 874.9,1380.6 873.5,1380.4 874.6,1378.8Z" fill="#2166ac"/>
<path d="M876.3,1372.8 879.7,1371.7 882.8,1374.2 885.6,1373.5 885.9,1371.0 888.0,1370.7 891.4,1371.4 896.3,1372.1 897.6,1373.2 899.0,1377.4 893.5,1378.8 890.4,1377.1 884.6,1376.7 877.7,1376.3 874.4,1377.4 874.2,1376.0Z" fill="#4393c3"/>
<path d="M882.8,1368.9 882.5,1366.4 887.0,1365.4 898.3,1365.4 896.3,1367.8 897.6,1370.7 896.3,1372.1 891.4,1371.4 888.0,1370.7 885.9,1371.0 885.9,1370.7Z" fill="#4393c3"/>
<path d="M882.8,1385.2 890.8,1384.1 888.0,1383.4 892.1,1380.9 893.5,1378.8 899.0,1377.4 908.0,1379.2 911.4,1384.8 914.5,1387.3 909.7,1388.0 911.4,1391.6 910.4,1391.6 906.9,1394.4 900.0,1393.3 895.6,1393.3 889.7,1392.3 884.6,1393.3 883.2,1393.3 881.8,1390.9 884.2,1387.7Z" fill="#d1e5f0"/>
<path d="M901.8,1406.4 905.5,1410.0 905.2,1411.7 901.4,1411.7 899.0,1414.9 898.3,1413.2 898.7,1410.0 895.9,1406.8 893.5,1405.0 896.6,1404.3Z" fill="#2166ac"/>
<path d="M928.6,1415.6 928.2,1416.0 927.6,1415.6 930.3,1413.4ZM919.0,1418.5 915.5,1416.7 915.2,1416.6 913.8,1415.3 915.5,1413.2 911.4,1411.0 906.9,1412.1 905.1,1414.6 903.9,1415.6 899.0,1414.9 901.4,1411.7 905.2,1411.7 905.5,1410.0 901.8,1406.4 896.6,1404.3 893.5,1405.0 888.0,1406.4 884.6,1406.4 880.8,1406.1 878.4,1404.7 879.7,1402.2 880.1,1400.4 884.6,1397.2 883.2,1393.3 884.6,1393.3 889.7,1392.3 895.6,1393.3 900.0,1393.3 906.9,1394.4 910.4,1391.6 911.4,1391.6 916.2,1390.5 919.0,1390.9 920.0,1393.0 923.4,1395.1 924.1,1397.2 932.7,1399.0 936.8,1399.4 939.6,1402.5 938.6,1406.8 933.7,1409.1 931.0,1409.3 923.1,1412.1 922.4,1415.6 927.6,1415.6 924.1,1416.7 920.7,1418.5Z" fill="#4393c3"/>
<path d="M901.1,1418.5 900.4,1420.9 900.1,1421.2 894.9,1419.9 888.0,1421.3 880.1,1419.2 879.4,1418.1 875.6,1416.0 874.2,1413.5 871.8,1412.8 874.9,1411.7 878.0,1407.5 880.8,1406.1 884.6,1406.4 888.0,1406.4 893.5,1405.0 895.9,1406.8 898.7,1410.0 898.3,1413.2 899.0,1414.9 903.9,1415.6 904.4,1415.2 904.5,1415.5 904.2,1416.0Z" fill="#4393c3"/>
<path d="M897.3,1425.2 898.0,1427.6 894.9,1427.0 892.5,1428.4 888.7,1429.8 884.6,1429.1 881.1,1428.7 879.1,1426.3 881.1,1423.1 879.1,1420.9 880.1,1419.2 888.0,1421.3 894.9,1419.9 900.1,1421.2 898.3,1423.1Z" fill="#4393c3"/>
<path d="M878.4,1343.8 876.0,1347.7 870.8,1350.5 865.6,1353.3 862.2,1355.8 861.2,1360.1 866.3,1362.9 867.4,1365.0 864.3,1366.1 859.4,1368.9 858.8,1374.2 857.0,1377.1 852.6,1377.1 846.7,1379.9 845.3,1377.8 843.3,1371.7 840.5,1367.5 842.6,1364.3 845.0,1361.8 844.0,1360.1 846.4,1357.6 843.6,1354.4 843.6,1350.9 849.8,1347.7 851.9,1344.1 855.3,1341.3 858.8,1337.0 863.9,1333.5 872.7,1331.5 874.2,1332.4 879.1,1333.5 883.2,1335.6 883.2,1339.5 884.9,1343.1 884.8,1343.1 884.6,1343.1Z" fill="#fddbc7"/>
<path d="M880.8,1364.3 875.6,1360.8 876.0,1357.2 874.9,1353.0 879.4,1350.1 886.3,1346.6 889.4,1345.9 888.0,1344.1 884.8,1343.1 884.9,1343.1 883.2,1339.5 883.2,1335.6 879.1,1333.5 874.2,1332.4 872.7,1331.5 875.3,1330.7 879.1,1332.8 883.5,1332.8 887.7,1333.2 890.8,1331.7 892.5,1328.6 898.0,1327.9 899.7,1328.9 902.8,1330.0 901.4,1331.6 900.0,1333.5 905.2,1336.3 902.1,1339.2 905.5,1343.4 904.2,1346.6 906.9,1348.4 905.2,1350.1 910.7,1353.3 909.7,1355.1 901.8,1359.4 897.6,1361.8 897.5,1361.9 888.0,1362.9Z" fill="#2166ac"/>
<path d="M926.5,1446.4 924.1,1446.4 921.0,1445.7 913.8,1448.2 907.3,1445.7 903.5,1447.9 898.3,1446.1 895.9,1443.6 894.9,1442.4 894.9,1442.4 893.2,1440.4 893.8,1436.2 893.1,1435.4 893.2,1434.4 892.8,1433.7 893.8,1432.6 891.4,1431.6 892.5,1428.4 894.9,1427.0 898.0,1427.6 898.3,1428.7 901.8,1430.2 910.4,1430.2 917.2,1427.3 922.7,1427.3 924.1,1428.7 929.3,1430.2 934.4,1431.2 941.3,1430.9 945.1,1428.7 948.2,1429.1 951.6,1430.5 952.3,1434.0 956.1,1435.5 954.4,1436.5 953.4,1437.9 954.0,1441.8 956.1,1444.7 947.9,1444.7 943.0,1444.7 936.2,1446.1 932.7,1445.7 927.9,1445.7 927.9,1447.9 925.5,1448.9 925.2,1449.2 925.2,1448.9Z" fill="#fddbc7"/>
<path d="M939.6,1422.4 944.8,1423.1 948.2,1423.4 952.7,1425.2 956.8,1425.2 959.2,1427.3 962.0,1427.7 956.8,1429.8 951.6,1430.5 948.2,1429.1 945.1,1428.7 939.2,1422.7Z" fill="#2166ac"/>
<path d="M958.5,1431.2 958.9,1434.4 962.0,1436.2 962.0,1438.3 956.8,1435.1 956.1,1435.5 952.3,1434.0 951.6,1430.5 956.8,1429.8Z" fill="#92c5de"/>
<path d="M975.1,1432.8 975.0,1433.2 971.6,1435.1 970.2,1440.1 967.1,1438.6 966.8,1435.8 962.0,1438.3 962.0,1436.2 958.9,1434.4 958.5,1431.2 956.8,1429.8 962.0,1427.7 966.4,1430.2 969.2,1428.0 969.3,1428.1 970.6,1430.2Z" fill="#fddbc7"/>
<path d="M920.7,1464.1 921.7,1462.4 922.7,1458.8 925.2,1458.1 924.5,1460.2 924.1,1464.5 923.1,1468.0 922.1,1471.6 919.6,1465.2Z" fill="#b2182b"/>
<path d="M925.0,1453.6 925.5,1453.2 927.2,1453.5 927.9,1454.9 925.2,1458.1 922.7,1458.8 924.1,1456.0Z" fill="#b2182b"/>
<path d="M924.1,1464.5 924.5,1460.2 925.8,1460.2 935.5,1457.8 936.8,1462.0 929.3,1464.5 932.7,1468.0 931.0,1469.8 927.6,1471.6 925.8,1472.6 922.1,1471.6 923.1,1468.0Z" fill="#67001f"/>
<path d="M925.2,1449.6 925.5,1448.9 927.9,1447.9 927.9,1445.7 932.7,1445.7 936.2,1446.1 943.0,1444.7 947.9,1444.7 944.1,1450.0 943.0,1454.2 935.5,1457.8 925.8,1460.2 924.5,1460.2 925.2,1458.1 927.9,1454.9 927.2,1453.5 925.5,1453.2 925.2,1452.9 925.5,1452.1Z" fill="#92c5de"/>
<path d="M968.2,1475.1 966.1,1475.1 962.0,1473.0 966.1,1469.4 967.1,1469.8 967.5,1473.3Z" fill="#67001f"/>
<path d="M966.1,1469.4 962.0,1473.0 955.8,1472.6 946.5,1465.9 941.0,1463.1 936.8,1462.0 935.5,1457.8 943.0,1454.2 944.1,1450.0 947.9,1444.7 956.1,1444.7 958.5,1448.9 960.2,1451.7 958.5,1453.9 959.6,1457.1 963.7,1459.5 966.1,1462.7 967.1,1466.3 967.1,1468.0 969.9,1468.7 967.1,1469.8Z" fill="#d6604d"/>
<path d="M976.5,1487.8 976.7,1488.3 976.4,1488.2ZM979.3,1488.4 978.5,1489.3 976.8,1488.4 978.1,1483.6 979.5,1486.4Z" fill="#67001f"/>
<path d="M989.1,1489.3 992.2,1486.4 994.6,1484.0 996.0,1482.5 996.0,1487.9 994.0,1490.3 991.9,1494.6 993.6,1498.1 991.9,1495.6 982.9,1494.9 979.5,1490.3 979.5,1490.0 982.6,1490.3Z" fill="#67001f"/>
<path d="M1003.6,1492.5 1007.7,1496.3 1003.2,1503.4 1000.8,1508.7 996.4,1512.3 991.2,1515.8 982.2,1519.1 984.7,1516.9 980.9,1508.7 991.2,1505.2 993.6,1498.1 991.9,1494.6 994.0,1490.3 996.0,1487.9 999.8,1491.7Z" fill="#f4a582"/>
<path d="M972.3,1524.3 967.1,1526.4 956.8,1530.7 951.6,1531.0 948.9,1521.1 949.1,1517.9 949.2,1517.9 951.0,1515.8 955.1,1514.4 962.0,1514.8 965.4,1515.1 970.6,1510.2 980.9,1508.7 984.7,1516.9 982.2,1519.1 981.6,1519.4Z" fill="#d6604d"/>
<path d="M972.6,1480.4 974.3,1483.3 975.7,1485.7 976.5,1487.9 976.5,1487.8 976.4,1488.2 976.7,1488.3 976.8,1488.6 977.8,1484.8 977.8,1484.8 976.8,1488.4 978.5,1489.3 979.2,1488.5 979.3,1488.7 979.2,1490.0 979.6,1490.0 979.5,1490.0 979.5,1490.3 979.8,1490.7 979.8,1491.0 982.9,1494.9 991.9,1495.6 993.6,1498.1 991.2,1505.2 980.9,1508.7 970.6,1510.2 965.4,1515.1 962.0,1514.8 955.1,1514.4 951.0,1515.8 949.2,1517.9 949.2,1517.9 949.2,1516.9 944.8,1512.3 941.3,1507.0 936.8,1499.9 934.4,1494.6 931.0,1489.3 927.6,1484.0 923.1,1476.9 922.1,1471.6 925.8,1472.6 927.6,1471.6 931.0,1469.8 932.7,1468.0 929.3,1464.5 936.8,1462.0 941.0,1463.1 946.5,1465.9 955.8,1472.6 962.0,1473.0 966.1,1475.1 968.2,1475.1 968.8,1476.9Z" fill="#f7f7f7"/>
<path d="M1001.5,1485.4 998.1,1481.1 995.7,1479.7 990.5,1481.8 984.3,1480.4 979.2,1477.2 976.8,1473.3 974.7,1469.8 969.9,1468.7 967.1,1468.0 967.1,1466.3 966.1,1462.7 963.7,1459.5 959.6,1457.1 958.5,1453.9 960.2,1451.7 958.5,1448.9 956.1,1444.7 954.0,1441.8 953.4,1437.9 954.4,1436.5 956.1,1435.5 956.8,1435.1 962.0,1438.3 966.8,1435.8 967.1,1438.6 970.2,1440.1 972.3,1443.2 977.4,1446.1 984.3,1445.7 987.8,1443.6 992.9,1441.5 998.1,1440.8 1006.7,1443.2 1010.1,1446.4 1012.5,1446.4 1012.5,1450.0 1010.1,1454.9 1011.5,1457.4 1010.1,1459.2 1011.2,1464.5 1014.2,1464.8 1011.5,1470.2 1013.6,1471.2 1018.0,1475.8 1018.0,1479.4 1019.8,1479.7 1019.4,1481.8 1014.6,1483.3 1013.9,1486.8 1008.4,1486.1Z" fill="#92c5de"/>
<path d="M1011.2,1464.5 1010.1,1459.2 1011.5,1457.4 1010.1,1454.9 1012.5,1450.0 1017.0,1451.0 1019.1,1449.3 1023.9,1447.5 1025.6,1444.3 1030.8,1443.6 1035.2,1444.3 1037.3,1444.7 1041.1,1443.2 1044.5,1440.1 1047.3,1441.8 1048.0,1445.0 1051.7,1445.0 1055.5,1443.6 1059.7,1444.3 1058.3,1445.0 1051.4,1445.7 1048.3,1448.6 1046.9,1451.7 1046.6,1454.2 1042.5,1455.6 1043.8,1457.8 1040.4,1458.8 1040.4,1463.1 1035.9,1463.8 1030.8,1466.3 1030.1,1470.2 1022.2,1471.6 1017.0,1471.9 1011.5,1470.2 1014.2,1464.8Z" fill="#67001f"/>
<path d="M1032.5,1488.2 1030.8,1486.1 1023.9,1486.8 1015.3,1487.1 1013.9,1486.8 1014.6,1483.3 1019.4,1481.8 1019.8,1479.7 1018.0,1479.4 1018.0,1475.8 1013.6,1471.2 1011.5,1470.2 1017.0,1471.9 1022.2,1471.6 1030.1,1470.2 1030.8,1466.3 1035.9,1463.8 1040.4,1463.1 1040.4,1458.8 1043.8,1457.8 1042.5,1455.6 1046.6,1454.2 1046.9,1451.7 1048.3,1448.6 1051.4,1445.7 1058.3,1445.0 1061.7,1445.7 1066.5,1450.0 1062.8,1452.5 1057.6,1452.8 1056.2,1454.2 1056.6,1457.4 1058.6,1459.9 1061.0,1461.7 1058.6,1463.1 1058.3,1466.6 1054.5,1470.2 1049.7,1475.5 1044.9,1476.9 1041.1,1480.4 1043.1,1481.8 1043.8,1485.0 1045.6,1486.8 1046.2,1489.6 1042.8,1490.3 1038.7,1490.0 1036.6,1492.1 1036.4,1492.2 1034.2,1491.0Z" fill="#d6604d"/>
<path d="M984.3,1434.4 986.0,1429.8 982.9,1428.0 984.3,1427.3 991.2,1429.8 994.6,1429.8 1001.5,1425.2 1005.0,1426.3 1008.4,1427.3 1011.8,1430.2 1015.3,1431.2 1018.7,1434.4 1023.9,1437.9 1027.3,1440.4 1030.8,1441.5 1030.8,1443.6 1025.6,1444.3 1023.9,1447.5 1019.1,1449.3 1017.0,1451.0 1012.5,1450.0 1012.5,1446.4 1010.1,1446.4 1006.7,1443.2 998.1,1440.8 992.9,1441.5 987.8,1443.6 987.4,1437.9Z" fill="#f7f7f7"/>
<path d="M1034.2,1437.2 1037.6,1436.2 1040.4,1433.7 1044.5,1431.2 1046.2,1433.7 1044.9,1434.8 1049.7,1436.5 1055.2,1436.2 1055.9,1437.9 1059.7,1439.7 1059.7,1444.3 1055.5,1443.6 1051.7,1445.0 1048.0,1445.0 1047.3,1441.8 1044.5,1440.1 1041.1,1443.2 1037.3,1444.7 1035.2,1444.3 1036.6,1440.1Z" fill="#d6604d"/>
<path d="M1054.8,1425.5 1058.3,1423.1 1063.4,1424.1 1073.8,1424.5 1077.9,1426.6 1073.8,1429.8 1066.2,1431.2 1063.4,1433.3 1059.7,1432.6 1055.2,1436.2 1049.7,1436.5 1044.9,1434.8 1046.2,1433.7 1051.4,1433.3 1053.5,1431.6 1049.0,1429.1 1045.9,1426.6 1046.2,1426.3Z" fill="#f4a582"/>
<path d="M1015.3,1422.0 1023.9,1421.7 1029.0,1423.8 1030.8,1427.7 1038.0,1432.3 1039.4,1429.4 1045.9,1426.6 1049.0,1429.1 1053.5,1431.6 1051.4,1433.3 1046.2,1433.7 1044.5,1431.2 1040.4,1433.7 1037.6,1436.2 1034.2,1437.2 1036.6,1440.1 1035.2,1444.3 1030.8,1443.6 1030.8,1441.5 1027.3,1440.4 1023.9,1437.9 1018.7,1434.4 1015.3,1431.2 1011.8,1430.2 1008.4,1427.3 1005.0,1426.3 1001.5,1425.2 994.6,1429.8 994.6,1416.7 1003.2,1414.6Z" fill="#f7f7f7"/>
<path d="M978.5,1418.5 984.3,1415.6 984.7,1410.0 980.5,1409.3 970.6,1411.4 965.4,1414.2 962.3,1404.3 962.3,1402.5 965.4,1397.6 969.5,1396.9 975.7,1393.7 981.9,1392.6 991.2,1396.2 998.1,1395.1 1005.0,1396.9 1013.2,1396.2 1011.8,1391.9 1008.4,1391.9 1011.8,1388.4 1013.6,1384.8 1025.6,1382.7 1039.4,1379.9 1045.6,1380.9 1054.5,1386.6 1065.2,1384.8 1070.0,1387.3 1077.2,1395.5 1084.1,1396.2 1089.2,1395.5 1094.4,1399.0 1100.6,1399.7 1102.3,1402.2 1096.1,1409.3 1087.5,1408.9 1085.8,1414.9 1077.2,1416.7 1077.9,1426.6 1073.8,1424.5 1063.4,1424.1 1058.3,1423.1 1054.8,1425.5 1046.2,1426.3 1039.4,1429.4 1038.0,1432.3 1030.8,1427.7 1029.0,1423.8 1023.9,1421.7 1015.3,1422.0 1003.2,1414.6 994.6,1416.7 994.6,1429.8 991.2,1429.8 984.3,1427.3 977.1,1422.4 975.0,1418.1Z" fill="#d1e5f0"/>
<path d="M1080.6,1469.1 1085.8,1470.2 1091.6,1474.4 1097.8,1476.9 1105.1,1477.2 1105.4,1481.5 1101.3,1482.5 1094.4,1481.1 1089.2,1479.0 1084.1,1477.6 1080.6,1475.5 1077.5,1474.0 1078.9,1470.2Z" fill="#f4a582"/>
<path d="M1113.3,1476.5 1117.1,1477.2 1118.8,1479.4 1116.8,1481.1 1111.6,1481.1 1107.5,1480.1 1107.8,1477.2 1109.9,1476.2Z" fill="#b2182b"/>
<path d="M1117.8,1497.1 1113.3,1496.3 1109.9,1498.8 1105.4,1499.5 1104.9,1499.6 1104.7,1499.5 1107.5,1494.9 1106.8,1490.0 1104.7,1488.9 1106.1,1486.8 1107.1,1482.5 1110.9,1484.0 1111.3,1486.8 1118.5,1487.1 1119.9,1490.3 1117.1,1490.7 1115.7,1493.9 1117.8,1494.2 1119.5,1492.5 1120.5,1498.5 1119.7,1502.0 1118.5,1499.5Z" fill="#d1e5f0"/>
<path d="M1139.1,1526.4 1137.7,1517.6 1132.9,1516.5 1128.8,1520.1 1126.4,1518.3 1127.1,1512.3 1124.0,1507.0 1119.9,1502.4 1119.7,1502.0 1120.5,1498.5 1122.6,1495.3 1123.3,1491.4 1126.0,1491.0 1127.4,1486.4 1129.5,1481.8 1135.7,1478.7 1136.7,1476.2 1141.5,1478.7 1141.5,1482.2 1137.7,1487.5 1138.1,1491.4 1141.9,1490.7 1144.3,1494.6 1142.6,1497.8 1146.3,1499.9 1150.0,1501.1 1146.3,1503.8 1140.8,1506.3 1138.4,1510.5 1140.8,1515.8 1141.5,1518.3 1139.8,1522.2 1142.9,1526.8 1143.2,1531.8 1141.9,1535.3 1141.1,1539.1 1140.8,1531.8Z" fill="#fddbc7"/>
<path d="M1171.8,1518.7 1172.1,1521.5 1171.8,1524.3 1166.6,1525.4 1164.9,1525.4 1165.3,1520.1 1162.2,1514.0 1156.3,1512.6 1153.2,1511.6 1149.4,1510.5 1150.1,1506.6 1147.7,1504.5 1146.3,1503.8 1150.0,1501.1 1151.8,1501.0 1153.6,1496.7 1156.3,1499.5 1160.1,1502.0 1161.8,1503.1 1159.8,1506.6 1163.9,1509.4 1168.4,1514.1 1169.2,1515.1Z" fill="#fddbc7"/>
<path d="M1156.3,1535.3 1155.3,1534.2 1154.6,1532.8 1153.9,1528.2 1156.3,1525.0 1164.9,1525.4 1166.6,1525.4 1171.8,1524.3 1171.8,1530.0 1171.8,1532.5 1168.0,1534.6 1166.0,1537.1 1163.5,1537.4 1161.5,1539.2 1158.0,1538.5Z" fill="#fddbc7"/>
<path d="M1149.1,1531.0 1147.7,1528.2 1146.0,1529.3 1144.3,1535.3 1143.2,1539.5 1147.0,1545.9 1147.7,1550.5 1151.2,1551.6 1153.4,1553.9 1153.2,1554.1 1149.4,1555.5 1147.0,1553.3 1147.0,1553.0 1145.0,1551.2 1140.5,1548.0 1140.2,1542.4 1141.2,1540.6 1141.1,1539.1 1141.9,1535.3 1143.2,1531.8 1142.9,1526.8 1139.8,1522.2 1141.5,1518.3 1140.8,1515.8 1138.4,1510.5 1140.8,1506.3 1146.3,1503.8 1147.7,1504.5 1150.1,1506.6 1149.4,1510.5 1153.2,1511.6 1156.3,1512.6 1162.2,1514.0 1165.3,1520.1 1164.9,1525.4 1156.3,1525.0 1153.9,1528.2 1154.6,1532.8 1155.3,1534.2 1153.6,1532.5Z" fill="#2166ac"/>
<path d="M1177.6,1528.2 1178.0,1533.9 1175.2,1537.1 1170.1,1539.2 1169.0,1542.4 1163.2,1545.6 1163.2,1541.3 1161.5,1539.2 1163.5,1537.4 1166.0,1537.1 1168.0,1534.6 1171.8,1532.5 1171.8,1530.0 1171.8,1524.3 1172.1,1521.5 1171.8,1518.7 1169.2,1515.1 1171.8,1518.3 1174.6,1522.9ZM1166.0,1508.7 1168.4,1514.0 1168.4,1514.1 1163.9,1509.4 1159.8,1506.6 1161.8,1503.1 1160.1,1502.0 1156.3,1499.5 1153.6,1496.7 1156.3,1496.3 1159.8,1495.3 1164.9,1493.9 1169.0,1495.3 1173.5,1499.9 1173.7,1500.2 1170.1,1501.7 1168.4,1504.1Z" fill="#d1e5f0"/>
<path d="M1242.3,1434.4 1244.2,1438.9 1243.7,1439.4 1238.9,1440.4 1235.4,1442.5 1232.6,1442.1 1231.0,1441.5 1232.7,1436.2 1229.6,1434.8 1232.0,1433.0 1238.2,1428.4 1242.3,1427.3 1248.2,1425.9 1251.6,1426.3 1248.5,1430.9Z" fill="#4393c3"/>
<path d="M1247.1,1445.0 1247.5,1448.6 1245.8,1451.7 1240.6,1453.5 1236.5,1454.2 1237.2,1448.9 1237.5,1443.2 1233.7,1442.5 1235.4,1442.5 1238.9,1440.4 1243.7,1439.4 1244.3,1439.2 1244.4,1439.4Z" fill="#2166ac"/>
<path d="M1116.8,1397.2 1125.4,1398.3 1130.5,1399.4 1138.4,1397.6 1139.8,1393.7 1146.0,1393.0 1153.6,1394.4 1156.3,1397.9 1168.4,1397.9 1173.5,1400.8 1182.1,1401.8 1195.9,1398.3 1203.1,1399.4 1199.3,1405.7 1207.2,1407.1 1213.1,1408.9 1211.4,1411.0 1201.0,1414.6 1190.7,1417.4 1186.6,1421.3 1180.4,1425.2 1170.1,1426.3 1163.2,1428.7 1149.4,1425.2 1133.3,1424.8 1129.8,1419.2 1123.6,1417.1 1114.4,1415.6 1115.0,1411.4 1111.9,1406.4 1104.7,1404.3 1104.0,1401.8 1109.9,1399.7Z" fill="#92c5de"/>
<path d="M788.2,1451.4 794.4,1451.7 796.2,1452.8 795.8,1457.1 797.5,1462.4 792.0,1463.1 789.3,1464.8 789.6,1467.0 785.5,1469.4 782.7,1471.2 777.2,1471.6 772.1,1474.4 772.1,1478.0 758.1,1478.0 759.0,1477.2 764.2,1475.1 767.6,1471.6 768.6,1467.7 768.3,1464.5 772.8,1458.1 776.2,1456.7 778.6,1455.6 780.7,1452.1 781.7,1449.3 783.2,1449.0 784.5,1449.3Z" fill="#f7f7f7"/>
<path d="M747.0,1491.7 751.1,1485.7 755.6,1480.4 758.1,1478.0 772.1,1478.0 772.1,1484.0 760.7,1484.0 760.7,1492.8 756.9,1495.3 757.3,1500.6 743.7,1500.6 744.2,1497.4Z" fill="#f7f7f7"/>
<path d="M747.0,1507.0 743.5,1501.7 743.7,1500.6 757.3,1500.6 756.9,1495.3 760.7,1492.8 760.7,1484.0 772.1,1484.0 772.1,1479.4 785.5,1487.5 781.4,1500.6 783.1,1517.9 763.1,1521.5 760.0,1524.0 759.0,1522.2 755.6,1519.0 752.1,1517.2 747.0,1517.6 745.2,1519.0 745.0,1518.9 746.3,1512.3Z" fill="#b2182b"/>
<path d="M750.4,1527.1 754.5,1527.9 754.5,1528.9 750.4,1528.6 744.7,1529.6 744.2,1527.1Z" fill="#b2182b"/>
<path d="M741.8,1524.0 744.8,1519.5 745.2,1519.0 747.0,1517.6 752.1,1517.2 755.6,1519.0 759.0,1522.2 760.0,1524.0 762.8,1532.1 759.3,1532.1 754.9,1531.4 749.7,1531.0 745.2,1532.3 744.2,1527.1ZM744.7,1529.6 750.4,1528.6 754.5,1528.9 754.5,1527.9 750.4,1527.1 744.2,1527.1Z" fill="#b2182b"/>
<path d="M745.2,1532.5 745.2,1532.3 749.7,1531.0 754.9,1531.4 754.9,1534.6 750.6,1537.3 750.4,1537.1Z" fill="#b2182b"/>
<path d="M756.2,1545.9 756.2,1544.1 759.7,1541.0 763.5,1540.6 765.2,1543.1 766.6,1545.9 765.5,1547.7 762.4,1551.6 762.0,1551.4 759.0,1549.8Z" fill="#d6604d"/>
<path d="M764.8,1553.0 762.4,1551.7 762.4,1551.6 765.5,1547.7 766.6,1545.9 769.3,1545.9 769.7,1549.8 773.4,1549.5 772.8,1553.0 776.2,1555.1 776.2,1560.4 771.0,1558.3Z" fill="#b2182b"/>
<path d="M752.1,1538.8 750.6,1537.3 754.9,1534.6 754.9,1531.4 759.3,1532.1 762.8,1532.1 765.2,1533.5 767.6,1534.2 771.0,1532.1 772.8,1536.0 774.5,1539.9 774.8,1545.9 773.4,1549.5 769.7,1549.8 769.3,1545.9 766.6,1545.9 765.2,1543.1 763.5,1540.6 759.7,1541.0 756.2,1544.1 756.2,1542.4Z" fill="#67001f"/>
<path d="M788.2,1557.2 776.2,1560.4 776.2,1555.1 772.8,1553.0 773.4,1549.5 774.8,1545.9 774.5,1539.9 778.3,1539.5 783.1,1539.2 784.1,1539.5 786.5,1541.7 792.7,1542.4 792.0,1548.0 791.0,1553.7 792.4,1557.9 792.1,1558.1 791.7,1557.9Z" fill="#d6604d"/>
<path d="M797.9,1557.9 795.1,1559.0 792.4,1558.2 792.4,1557.9 791.0,1553.7 792.0,1548.0 792.7,1542.4 792.4,1537.1 802.0,1536.7 801.7,1538.1 803.4,1542.4 803.7,1546.6 804.4,1551.2 806.1,1554.4 802.0,1555.8Z" fill="#b2182b"/>
<path d="M803.7,1546.6 803.4,1542.4 801.7,1538.1 802.0,1536.7 805.1,1537.1 804.8,1540.6 807.2,1542.7 807.5,1554.1 806.1,1554.4 804.4,1551.2Z" fill="#f4a582"/>
<path d="M807.5,1554.1 807.5,1554.1 807.2,1542.7 804.8,1540.6 805.1,1537.1 810.3,1533.9 814.4,1534.6 815.1,1538.8 811.3,1544.1 811.3,1553.3 809.7,1553.6 808.9,1553.7Z" fill="#67001f"/>
<path d="M823.0,1560.8 819.9,1556.2 817.5,1553.7 813.7,1553.3 811.2,1553.5 811.3,1553.3 811.3,1544.1 815.1,1538.8 814.4,1534.6 816.1,1528.2 822.6,1527.5 828.8,1528.9 833.0,1530.7 838.8,1528.6 844.3,1529.6 848.8,1527.5 850.8,1532.8 848.8,1538.5 846.0,1544.8 842.6,1551.2 838.5,1551.2 835.4,1553.7 831.2,1559.7 830.1,1560.1 827.8,1560.1Z" fill="#b2182b"/>
<path d="M787.2,1531.0 787.2,1529.3 791.7,1527.9 795.1,1525.7 796.8,1524.3 802.7,1523.3 803.4,1526.4 805.4,1530.0 809.6,1531.4 810.3,1533.9 805.1,1537.1 802.0,1536.7 792.4,1537.1 792.7,1542.4 786.5,1541.7 784.1,1539.5 783.1,1539.2 783.8,1534.2Z" fill="#d6604d"/>
<path d="M805.4,1530.0 803.4,1526.4 802.7,1523.3 806.5,1521.8 814.0,1521.8 816.4,1516.5 816.4,1508.0 822.0,1507.3 843.3,1492.8 850.8,1496.0 856.7,1494.6 856.7,1503.8 854.3,1505.2 855.3,1516.5 853.6,1521.8 848.8,1527.5 844.3,1529.6 838.8,1528.6 833.0,1530.7 828.8,1528.9 822.6,1527.5 816.1,1528.2 814.4,1534.6 810.3,1533.9 809.6,1531.4Z" fill="#67001f"/>
<path d="M783.1,1517.9 781.4,1500.6 785.5,1487.5 806.1,1501.7 808.2,1504.1 813.0,1505.9 813.4,1508.7 816.4,1508.0 816.4,1516.5 814.0,1521.8 806.5,1521.8 802.7,1523.3 796.8,1524.3 795.1,1525.7 791.7,1527.9 787.2,1529.3 787.2,1531.0 783.8,1534.2 783.1,1539.2 778.3,1539.5 774.5,1539.9 772.8,1536.0 771.0,1532.1 767.6,1534.2 765.2,1533.5 762.8,1532.1 760.0,1524.0 763.1,1521.5Z" fill="#67001f"/>
<path d="M837.4,1445.7 840.2,1445.0 838.1,1448.6 840.2,1451.4 836.7,1454.6 836.4,1456.3 840.2,1458.5 841.6,1458.8 839.5,1462.7 837.1,1466.6 834.7,1469.1 833.3,1462.4 829.9,1458.8 828.1,1456.0 830.6,1453.5 830.6,1448.6 831.6,1445.4 835.7,1444.0Z" fill="#fddbc7"/>
<path d="M803.7,1448.6 810.5,1446.3 814.0,1445.8 819.2,1446.1 824.4,1445.0 831.6,1445.4 830.6,1448.6 830.6,1453.5 828.1,1456.0 829.9,1458.8 833.3,1462.4 834.7,1469.1 836.1,1473.3 835.7,1480.4 834.3,1483.3 836.4,1486.4 839.5,1488.9 841.6,1490.0 843.3,1492.8 822.0,1507.3 816.4,1508.0 813.4,1508.7 813.0,1505.9 808.2,1504.1 806.1,1501.7 785.5,1487.5 772.1,1479.4 772.1,1478.0 772.1,1474.4 777.2,1471.6 782.7,1471.2 785.5,1469.4 789.6,1467.0 789.3,1464.8 792.0,1463.1 797.5,1462.4 795.8,1457.1 796.2,1452.8 794.4,1451.7 798.6,1449.6Z" fill="#f7f7f7"/>
<path d="M854.3,1461.7 856.4,1464.8 862.2,1466.3 867.4,1468.7 871.1,1466.3 870.8,1462.4 876.0,1459.5 881.1,1460.6 884.6,1462.7 888.7,1464.1 887.0,1469.1 888.0,1469.8 888.0,1498.1 888.0,1505.2 884.6,1505.2 884.6,1507.0 867.4,1499.9 856.7,1494.6 850.8,1496.0 843.3,1492.8 841.6,1490.0 839.5,1488.9 836.4,1486.4 834.3,1483.3 835.7,1480.4 836.1,1473.3 834.7,1469.1 837.1,1466.6 839.5,1462.7 841.6,1458.8 847.4,1459.5Z" fill="#92c5de"/>
<path d="M901.8,1466.6 905.2,1465.2 910.4,1464.5 913.1,1465.2 919.6,1465.2 922.1,1471.6 920.0,1477.6 915.5,1474.0 914.1,1470.2 913.8,1471.6 917.6,1479.7 920.7,1485.7 924.1,1491.4 924.8,1494.9 928.9,1498.1 888.0,1498.1 888.0,1469.8 887.0,1469.1 888.7,1464.1 894.9,1465.2Z" fill="#d6604d"/>
<path d="M941.3,1523.3 945.4,1528.2 948.6,1531.4 947.9,1531.8 945.1,1528.6 942.4,1526.4 939.9,1524.7 936.5,1524.0 934.1,1524.7 932.4,1523.3 927.6,1525.4 929.3,1515.8 934.5,1512.5 937.2,1520.1Z" fill="#f4a582"/>
<path d="M951.0,1534.2 949.2,1535.3 950.3,1536.4 949.6,1537.1 948.5,1537.1 945.8,1535.3 945.8,1532.5 947.9,1531.8 948.6,1531.4 948.9,1531.8Z" fill="#67001f"/>
<path d="M930.3,1506.6 934.4,1512.3 934.5,1512.5 929.3,1515.8 927.6,1525.4 926.2,1531.0 923.1,1535.3 921.0,1537.4 920.0,1538.5 919.3,1542.4 916.2,1539.9 914.5,1532.8 912.4,1534.2 908.6,1541.3 903.8,1541.7 898.3,1542.7 893.5,1542.4 890.8,1539.2 886.3,1544.8 883.5,1545.2 883.2,1541.0 880.8,1537.4 878.0,1530.0 879.1,1526.1 880.8,1521.5 884.6,1520.4 884.6,1507.0 884.6,1505.2 888.0,1505.2 888.0,1498.1 928.9,1498.1 930.0,1501.7Z" fill="#b2182b"/>
<path d="M915.5,1548.4 919.0,1553.0 922.4,1556.5 925.5,1559.7 919.0,1561.1 917.2,1562.9 911.7,1563.3 908.0,1563.6 903.8,1559.7 899.7,1560.8 896.3,1557.6 892.8,1553.0 889.0,1549.1 885.2,1547.0 883.5,1545.2 886.3,1544.8 890.8,1539.2 893.5,1542.4 898.3,1542.7 903.8,1541.7 908.6,1541.3 912.4,1534.2 914.5,1532.8 916.2,1539.9 919.3,1542.4 918.6,1546.3Z" fill="#f4a582"/>
<path d="M934.1,1524.7 936.5,1524.0 939.9,1524.7 942.4,1526.4 945.1,1528.6 947.9,1531.8 945.8,1532.5 945.8,1535.3 948.5,1537.1 949.6,1537.1 950.6,1542.0 953.4,1544.1 966.8,1547.7 956.8,1558.3 952.0,1559.0 946.8,1561.1 946.1,1562.2 942.4,1560.8 938.9,1563.6 934.4,1563.3 928.9,1560.1 925.5,1559.7 922.4,1556.5 919.0,1553.0 915.5,1548.4 918.6,1546.3 919.3,1542.4 920.0,1538.5 921.0,1537.4 923.1,1535.3 926.2,1531.0 927.6,1525.4 932.4,1523.3Z" fill="#d6604d"/>
<path d="M953.4,1539.2 956.8,1538.8 963.7,1536.7 970.6,1536.0 978.1,1534.2 978.1,1539.2 976.8,1542.4 973.3,1551.2 968.8,1558.3 963.7,1565.4 957.8,1568.9 951.6,1572.8 946.5,1577.8 944.9,1581.6 943.0,1576.0 943.0,1566.1 946.1,1562.2 946.8,1561.1 952.0,1559.0 956.8,1558.3 966.8,1547.7 953.4,1544.1 950.6,1542.0 949.6,1537.1 950.3,1536.4 951.0,1537.1Z" fill="#67001f"/>
<path d="M939.9,1586.6 938.6,1590.5 936.8,1592.6 931.7,1588.4 931.3,1586.6 919.0,1579.5 919.0,1574.2 922.4,1569.3 917.2,1562.9 919.0,1561.1 925.5,1559.7 928.9,1560.1 934.4,1563.3 938.9,1563.6 942.4,1560.8 946.1,1562.2 943.0,1566.1 943.0,1576.0 944.9,1581.6 944.8,1582.0Z" fill="#d6604d"/>
<path d="M917.2,1562.9 922.4,1569.3 919.0,1574.2 919.0,1579.5 906.9,1579.5 903.8,1581.0 904.9,1576.0 904.9,1573.2 909.7,1568.2 908.0,1563.6 911.7,1563.3Z" fill="#67001f"/>
<path d="M906.9,1579.5 908.3,1584.5 906.9,1585.9 901.8,1585.9 903.8,1581.0Z" fill="#fddbc7"/>
<path d="M908.0,1588.4 903.5,1591.9 902.4,1589.5 901.8,1585.9 906.9,1585.9Z" fill="#67001f"/>
<path d="M937.9,1604.3 938.6,1611.4 941.0,1613.2 931.0,1617.4 924.1,1616.4 920.7,1616.7 918.3,1610.0 915.2,1609.3 906.9,1605.0 903.8,1597.2 903.5,1591.9 908.0,1588.4 906.9,1585.9 908.3,1584.5 906.9,1579.5 919.0,1579.5 931.3,1586.6 931.7,1588.4 936.8,1592.6 935.5,1599.0Z" fill="#b2182b"/>
<path d="M920.7,1616.7 921.0,1617.1 921.4,1618.8 921.0,1623.8 923.4,1626.6 925.5,1628.7 925.2,1633.0 923.1,1636.5 920.0,1633.3 920.7,1629.1 916.2,1625.6 914.5,1623.8 916.6,1620.2 916.6,1614.6 915.5,1610.3 915.2,1609.3 918.3,1610.0Z" fill="#b2182b"/>
<path d="M942.3,1627.8 941.5,1629.6 937.9,1634.8 929.3,1639.0 924.1,1644.3 921.7,1646.8 923.4,1653.9 924.1,1660.3 915.5,1665.2 914.1,1668.0 915.2,1671.2 912.1,1670.9 912.1,1667.7 912.1,1662.7 909.7,1655.3 914.5,1648.6 915.2,1641.5 915.2,1635.1 905.9,1631.2 915.5,1625.6 916.2,1625.6 920.7,1629.1 920.0,1633.3 923.1,1636.5 925.2,1633.0 925.5,1628.7 923.4,1626.6 921.0,1623.8 921.4,1618.8 921.0,1617.1 924.1,1616.4 931.0,1617.4 941.0,1613.2 941.7,1621.7Z" fill="#67001f"/>
<path d="M915.5,1610.3 916.6,1614.6 916.6,1620.2 914.5,1623.8 916.2,1625.6 915.5,1625.6 905.9,1631.2 901.8,1632.6 898.3,1635.5 894.2,1639.7 888.7,1639.0 882.2,1638.3 877.7,1634.4 877.7,1622.0 884.6,1622.0 884.6,1614.9 889.0,1615.6 891.4,1618.1 895.6,1617.1 900.0,1621.0 901.8,1623.4 904.5,1623.4 904.5,1619.2 900.4,1614.9 900.4,1609.6 901.4,1606.1 906.9,1605.0 915.2,1609.3Z" fill="#67001f"/>
<path d="M915.2,1641.5 914.5,1648.6 909.7,1655.3 903.1,1654.6 898.3,1652.1 895.9,1648.6 891.4,1643.3 888.7,1639.0 894.2,1639.7 898.3,1635.5 901.8,1632.6 905.9,1631.2 915.2,1635.1Z" fill="#fddbc7"/>
<path d="M903.1,1679.7 901.8,1682.9 899.0,1684.3 896.3,1683.3 894.9,1680.8 898.3,1678.0Z" fill="#fddbc7"/>
<path d="M912.1,1669.3 912.1,1670.9 912.4,1670.9 909.3,1672.6 908.0,1669.5 908.6,1667.3 911.7,1667.7Z" fill="#d6604d"/>
<path d="M874.2,1653.9 874.2,1639.7 882.2,1638.3 888.7,1639.0 891.4,1643.3 895.9,1648.6 898.3,1652.1 903.1,1654.6 898.3,1656.0 894.9,1659.5 891.4,1663.4 888.0,1667.0 881.1,1665.6 876.6,1670.9 873.6,1670.9 870.8,1663.8 870.8,1653.9Z" fill="#f4a582"/>
<path d="M851.9,1657.1 848.4,1650.3 842.6,1637.2 849.8,1637.6 865.6,1637.6 874.2,1639.7 874.2,1640.8 874.2,1653.9 870.8,1653.9 870.8,1663.8 870.8,1676.5 867.4,1678.3 861.9,1677.6 858.8,1677.2 854.3,1671.6Z" fill="#b2182b"/>
<path d="M908.6,1681.5 905.2,1686.8 898.3,1692.1 890.1,1696.4 881.1,1696.7 877.7,1697.1 870.8,1699.2 866.7,1697.4 865.3,1697.1 865.3,1696.0 863.9,1692.1 861.5,1684.0 858.8,1677.2 861.9,1677.6 867.4,1678.3 870.8,1676.5 870.8,1663.8 873.6,1670.9 876.6,1670.9 881.1,1665.6 888.0,1667.0 891.4,1663.4 894.9,1659.5 898.3,1656.0 903.1,1654.6 909.7,1655.3 912.1,1662.7 912.1,1667.7 912.1,1669.3 911.7,1667.7 908.6,1667.3 908.0,1669.5 909.3,1672.6 912.4,1670.9 912.1,1670.9 915.2,1671.2 913.5,1677.2ZM896.3,1683.3 899.0,1684.3 901.8,1682.9 903.1,1679.7 898.3,1678.0 894.9,1680.8Z" fill="#f4a582"/>
<path d="M848.4,1619.5 847.4,1607.2 844.3,1597.6 847.4,1596.9 859.1,1597.2 862.5,1603.6 863.9,1604.7 869.1,1604.0 871.8,1600.4 872.9,1601.8 877.0,1601.8 878.4,1611.0 878.7,1615.6 884.6,1614.9 884.6,1622.0 877.7,1622.0 877.7,1634.4 882.2,1638.3 874.2,1639.7 865.6,1637.6 849.8,1637.6 842.6,1637.2 843.3,1632.3 845.0,1623.8ZM844.0,1596.5 842.6,1593.7 843.3,1591.6 847.1,1592.3 846.4,1596.5Z" fill="#67001f"/>
<path d="M840.9,1568.2 840.9,1572.5 834.7,1572.5 835.7,1567.9Z" fill="#67001f"/>
<path d="M834.0,1578.1 834.7,1572.5 840.9,1572.5 840.9,1568.2 847.8,1568.2 846.7,1571.0 851.2,1571.4 851.9,1577.8 851.2,1582.0 848.4,1584.5 845.0,1582.7 841.9,1584.1 842.2,1587.7 840.2,1589.8 834.7,1583.1Z" fill="#d6604d"/>
<path d="M841.9,1584.1 845.0,1582.7 848.4,1584.5 851.2,1582.0 851.9,1577.8 851.2,1571.4 846.7,1571.0 847.8,1568.2 851.9,1568.2 857.7,1568.2 858.8,1563.6 866.0,1563.6 863.9,1567.9 862.9,1576.0 859.8,1580.2 857.7,1584.1 856.7,1589.8 854.3,1591.2 851.5,1591.2 847.1,1592.3 843.3,1591.6 842.6,1593.7 840.2,1589.8 842.2,1587.7Z" fill="#b2182b"/>
<path d="M832.6,1560.1 831.2,1559.7 835.4,1553.7 838.5,1551.2 842.6,1551.2 846.0,1544.8 848.8,1538.5 850.8,1532.8 850.8,1530.3 853.6,1533.5 853.9,1537.4 855.7,1540.6 850.8,1542.4 855.3,1548.7 855.3,1549.5 852.2,1555.1 852.6,1561.1 857.4,1568.2 851.9,1568.2 847.8,1568.2 840.9,1568.2 835.7,1567.9 835.4,1562.5Z" fill="#67001f"/>
<path d="M859.1,1548.4 866.0,1547.7 867.4,1544.1 872.5,1543.1 876.6,1538.5 880.8,1537.4 883.2,1541.0 883.5,1545.2 885.2,1547.0 889.0,1549.1 892.8,1553.0 896.3,1557.6 889.7,1557.2 885.9,1557.9 880.8,1559.0 879.1,1561.5 872.5,1560.4 868.7,1557.9 865.6,1560.8 866.0,1563.6 858.8,1563.6 857.4,1568.2 852.6,1561.1 852.2,1555.1 855.3,1549.5Z" fill="#d6604d"/>
<path d="M850.8,1532.8 848.8,1527.5 853.6,1521.8 855.3,1516.5 854.3,1505.2 856.7,1503.8 856.7,1494.6 867.4,1499.9 884.6,1507.0 884.6,1520.4 880.8,1521.5 879.1,1526.1 878.0,1530.0 880.8,1537.4 876.6,1538.5 872.5,1543.1 867.4,1544.1 866.0,1547.7 859.1,1548.4 855.3,1548.7 850.8,1542.4 855.7,1540.6 853.9,1537.4 853.6,1533.5 850.8,1530.3Z" fill="#67001f"/>
<path d="M924.1,1616.4 921.0,1617.1 920.7,1616.7ZM840.2,1589.8 842.6,1593.7 844.0,1596.5ZM851.5,1591.2 854.3,1591.2 856.7,1589.8 857.7,1584.1 859.8,1580.2 862.9,1576.0 863.9,1567.9 866.0,1563.6 865.6,1560.8 868.7,1557.9 872.5,1560.4 879.1,1561.5 880.8,1559.0 885.9,1557.9 889.7,1557.2 896.3,1557.6 899.7,1560.8 903.8,1559.7 908.0,1563.6 909.7,1568.2 904.9,1573.2 904.9,1576.0 903.8,1581.0 901.8,1585.9 902.4,1589.5 903.5,1591.9 903.8,1597.2 906.9,1605.0 901.4,1606.1 900.4,1609.6 900.4,1614.9 904.5,1619.2 904.5,1623.4 901.8,1623.4 900.0,1621.0 895.6,1617.1 891.4,1618.1 889.0,1615.6 884.6,1614.9 878.7,1615.6 878.4,1611.0 877.0,1601.8 872.9,1601.8 871.8,1600.4 869.1,1604.0 863.9,1604.7 862.5,1603.6 859.1,1597.2 847.4,1596.9 844.3,1597.6 844.0,1596.5 846.4,1596.5 847.1,1592.3ZM944.8,1582.0 944.9,1581.6 946.5,1577.8ZM858.8,1563.6 857.7,1568.2 857.4,1568.2ZM830.1,1560.1 831.2,1559.7 832.6,1560.1ZM855.3,1549.5 855.3,1548.7 859.1,1548.4Z" fill="#b2182b"/>
<path d="M975.7,1630.9 973.3,1636.2 967.1,1653.9 964.0,1664.1 957.5,1666.6 952.3,1659.2 951.0,1653.2 954.7,1646.8 953.4,1639.7 954.4,1634.4 962.0,1631.9 966.8,1625.6 969.9,1622.0 971.6,1618.5Z" fill="#67001f"/>
</g>
<text x="8.4" y="303.5" font-size="40.2">Prevalent cases</text>
<rect x="9.8" y="324.9" width="46.8" height="29.8" fill="#2166ac" stroke="#3f3f3f" stroke-width="1.6"/>
<text x="75.5" y="349.3" font-size="26.8">1.14 − 106.26</text>
<rect x="9.8" y="359.0" width="46.8" height="29.8" fill="#4393c3" stroke="#3f3f3f" stroke-width="1.6"/>
<text x="75.5" y="383.4" font-size="26.8">106.26 − 813.89</text>
<rect x="9.8" y="393.1" width="46.8" height="29.8" fill="#92c5de" stroke="#3f3f3f" stroke-width="1.6"/>
<text x="75.5" y="417.5" font-size="26.8">813.89 − 2322.48</text>
<rect x="9.8" y="427.2" width="46.8" height="29.8" fill="#d1e5f0" stroke="#3f3f3f" stroke-width="1.6"/>
<text x="75.5" y="451.6" font-size="26.8">2322.48 − 5119.01</text>
<rect x="9.8" y="461.3" width="46.8" height="29.8" fill="#f7f7f7" stroke="#3f3f3f" stroke-width="1.6"/>
<text x="75.5" y="485.7" font-size="26.8">5119.01 − 9101.43</text>
<rect x="316.2" y="324.9" width="46.8" height="29.8" fill="#fddbc7" stroke="#3f3f3f" stroke-width="1.6"/>
<text x="382.0" y="349.3" font-size="26.8">9101.43 − 15464.26</text>
<rect x="316.2" y="359.0" width="46.8" height="29.8" fill="#f4a582" stroke="#3f3f3f" stroke-width="1.6"/>
<text x="382.0" y="383.4" font-size="26.8">15464.26 − 23954.16</text>
<rect x="316.2" y="393.1" width="46.8" height="29.8" fill="#d6604d" stroke="#3f3f3f" stroke-width="1.6"/>
<text x="382.0" y="417.5" font-size="26.8">23954.16 − 44353.63</text>
<rect x="316.2" y="427.2" width="46.8" height="29.8" fill="#b2182b" stroke="#3f3f3f" stroke-width="1.6"/>
<text x="382.0" y="451.6" font-size="26.8">44353.63 − 92882.27</text>
<rect x="316.2" y="461.3" width="46.8" height="29.8" fill="#67001f" stroke="#3f3f3f" stroke-width="1.6"/>
<text x="382.0" y="485.7" font-size="26.8">92882.27 − 1125765.75</text>
<text x="7.9" y="962.1" font-size="40.2">Prevalence rate</text>
<rect x="10.0" y="984.0" width="46.8" height="29.7" fill="#2166ac" stroke="#3f3f3f" stroke-width="1.6"/>
<text x="75.6" y="1008.4" font-size="26.8">183.13 − 398.62</text>
<rect x="10.0" y="1018.2" width="46.8" height="29.7" fill="#4393c3" stroke="#3f3f3f" stroke-width="1.6"/>
<text x="75.6" y="1042.6" font-size="26.8">398.62 − 437.00</text>
<rect x="10.0" y="1052.5" width="46.8" height="29.7" fill="#92c5de" stroke="#3f3f3f" stroke-width="1.6"/>
<text x="75.6" y="1076.9" font-size="26.8">437.00 − 481.24</text>
<rect x="10.0" y="1086.8" width="46.8" height="29.7" fill="#d1e5f0" stroke="#3f3f3f" stroke-width="1.6"/>
<text x="75.6" y="1111.1" font-size="26.8">481.24 − 506.88</text>
<rect x="10.0" y="1121.0" width="46.8" height="29.7" fill="#f7f7f7" stroke="#3f3f3f" stroke-width="1.6"/>
<text x="75.6" y="1145.4" font-size="26.8">506.88 − 545.23</text>
<rect x="287.0" y="984.0" width="46.8" height="29.7" fill="#fddbc7" stroke="#3f3f3f" stroke-width="1.6"/>
<text x="353.1" y="1008.4" font-size="26.8">545.23 − 623.07</text>
<rect x="287.0" y="1018.2" width="46.8" height="29.7" fill="#f4a582" stroke="#3f3f3f" stroke-width="1.6"/>
<text x="353.1" y="1042.6" font-size="26.8">623.07 − 730.95</text>
<rect x="287.0" y="1052.5" width="46.8" height="29.7" fill="#d6604d" stroke="#3f3f3f" stroke-width="1.6"/>
<text x="353.1" y="1076.9" font-size="26.8">730.95 − 1025.25</text>
<rect x="287.0" y="1086.8" width="46.8" height="29.7" fill="#b2182b" stroke="#3f3f3f" stroke-width="1.6"/>
<text x="353.1" y="1111.1" font-size="26.8">1025.25 − 1252.73</text>
<rect x="287.0" y="1121.0" width="46.8" height="29.7" fill="#67001f" stroke="#3f3f3f" stroke-width="1.6"/>
<text x="353.1" y="1145.4" font-size="26.8">1252.73 − 2089.00</text>
<text x="10.1" y="1562.0" font-size="40.2">Cases change</text>
<rect x="12.1" y="1584.1" width="46.8" height="30.2" fill="#2166ac" stroke="#3f3f3f" stroke-width="1.6"/>
<text x="78.5" y="1608.7" font-size="26.8">−44.78 − −9.77</text>
<rect x="12.1" y="1618.4" width="46.8" height="30.2" fill="#4393c3" stroke="#3f3f3f" stroke-width="1.6"/>
<text x="78.5" y="1643.0" font-size="26.8">−9.77 − 5.00</text>
<rect x="12.1" y="1652.8" width="46.8" height="30.2" fill="#92c5de" stroke="#3f3f3f" stroke-width="1.6"/>
<text x="78.5" y="1677.4" font-size="26.8">5.00 − 28.62</text>
<rect x="12.1" y="1687.1" width="46.8" height="30.2" fill="#d1e5f0" stroke="#3f3f3f" stroke-width="1.6"/>
<text x="78.5" y="1711.8" font-size="26.8">28.62 − 43.24</text>
<rect x="12.1" y="1721.5" width="46.8" height="30.2" fill="#f7f7f7" stroke="#3f3f3f" stroke-width="1.6"/>
<text x="78.5" y="1746.1" font-size="26.8">43.24 − 62.69</text>
<rect x="277.9" y="1584.1" width="46.8" height="30.2" fill="#fddbc7" stroke="#3f3f3f" stroke-width="1.6"/>
<text x="344.2" y="1608.7" font-size="26.8">62.69 − 91.96</text>
<rect x="277.9" y="1618.4" width="46.8" height="30.2" fill="#f4a582" stroke="#3f3f3f" stroke-width="1.6"/>
<text x="344.2" y="1643.0" font-size="26.8">91.96 − 116.58</text>
<rect x="277.9" y="1652.8" width="46.8" height="30.2" fill="#d6604d" stroke="#3f3f3f" stroke-width="1.6"/>
<text x="344.2" y="1677.4" font-size="26.8">116.58 − 144.46</text>
<rect x="277.9" y="1687.1" width="46.8" height="30.2" fill="#b2182b" stroke="#3f3f3f" stroke-width="1.6"/>
<text x="344.2" y="1711.8" font-size="26.8">144.46 − 197.64</text>
<rect x="277.9" y="1721.5" width="46.8" height="30.2" fill="#67001f" stroke="#3f3f3f" stroke-width="1.6"/>
<text x="344.2" y="1746.1" font-size="26.8">197.64 − 399.94</text>
<text x="8.2" y="47.0" font-size="56">A</text>
<text x="9.4" y="682.1" font-size="56">B</text>
<text x="11.0" y="1284.6" font-size="56">C</text>
</svg></body></html>
